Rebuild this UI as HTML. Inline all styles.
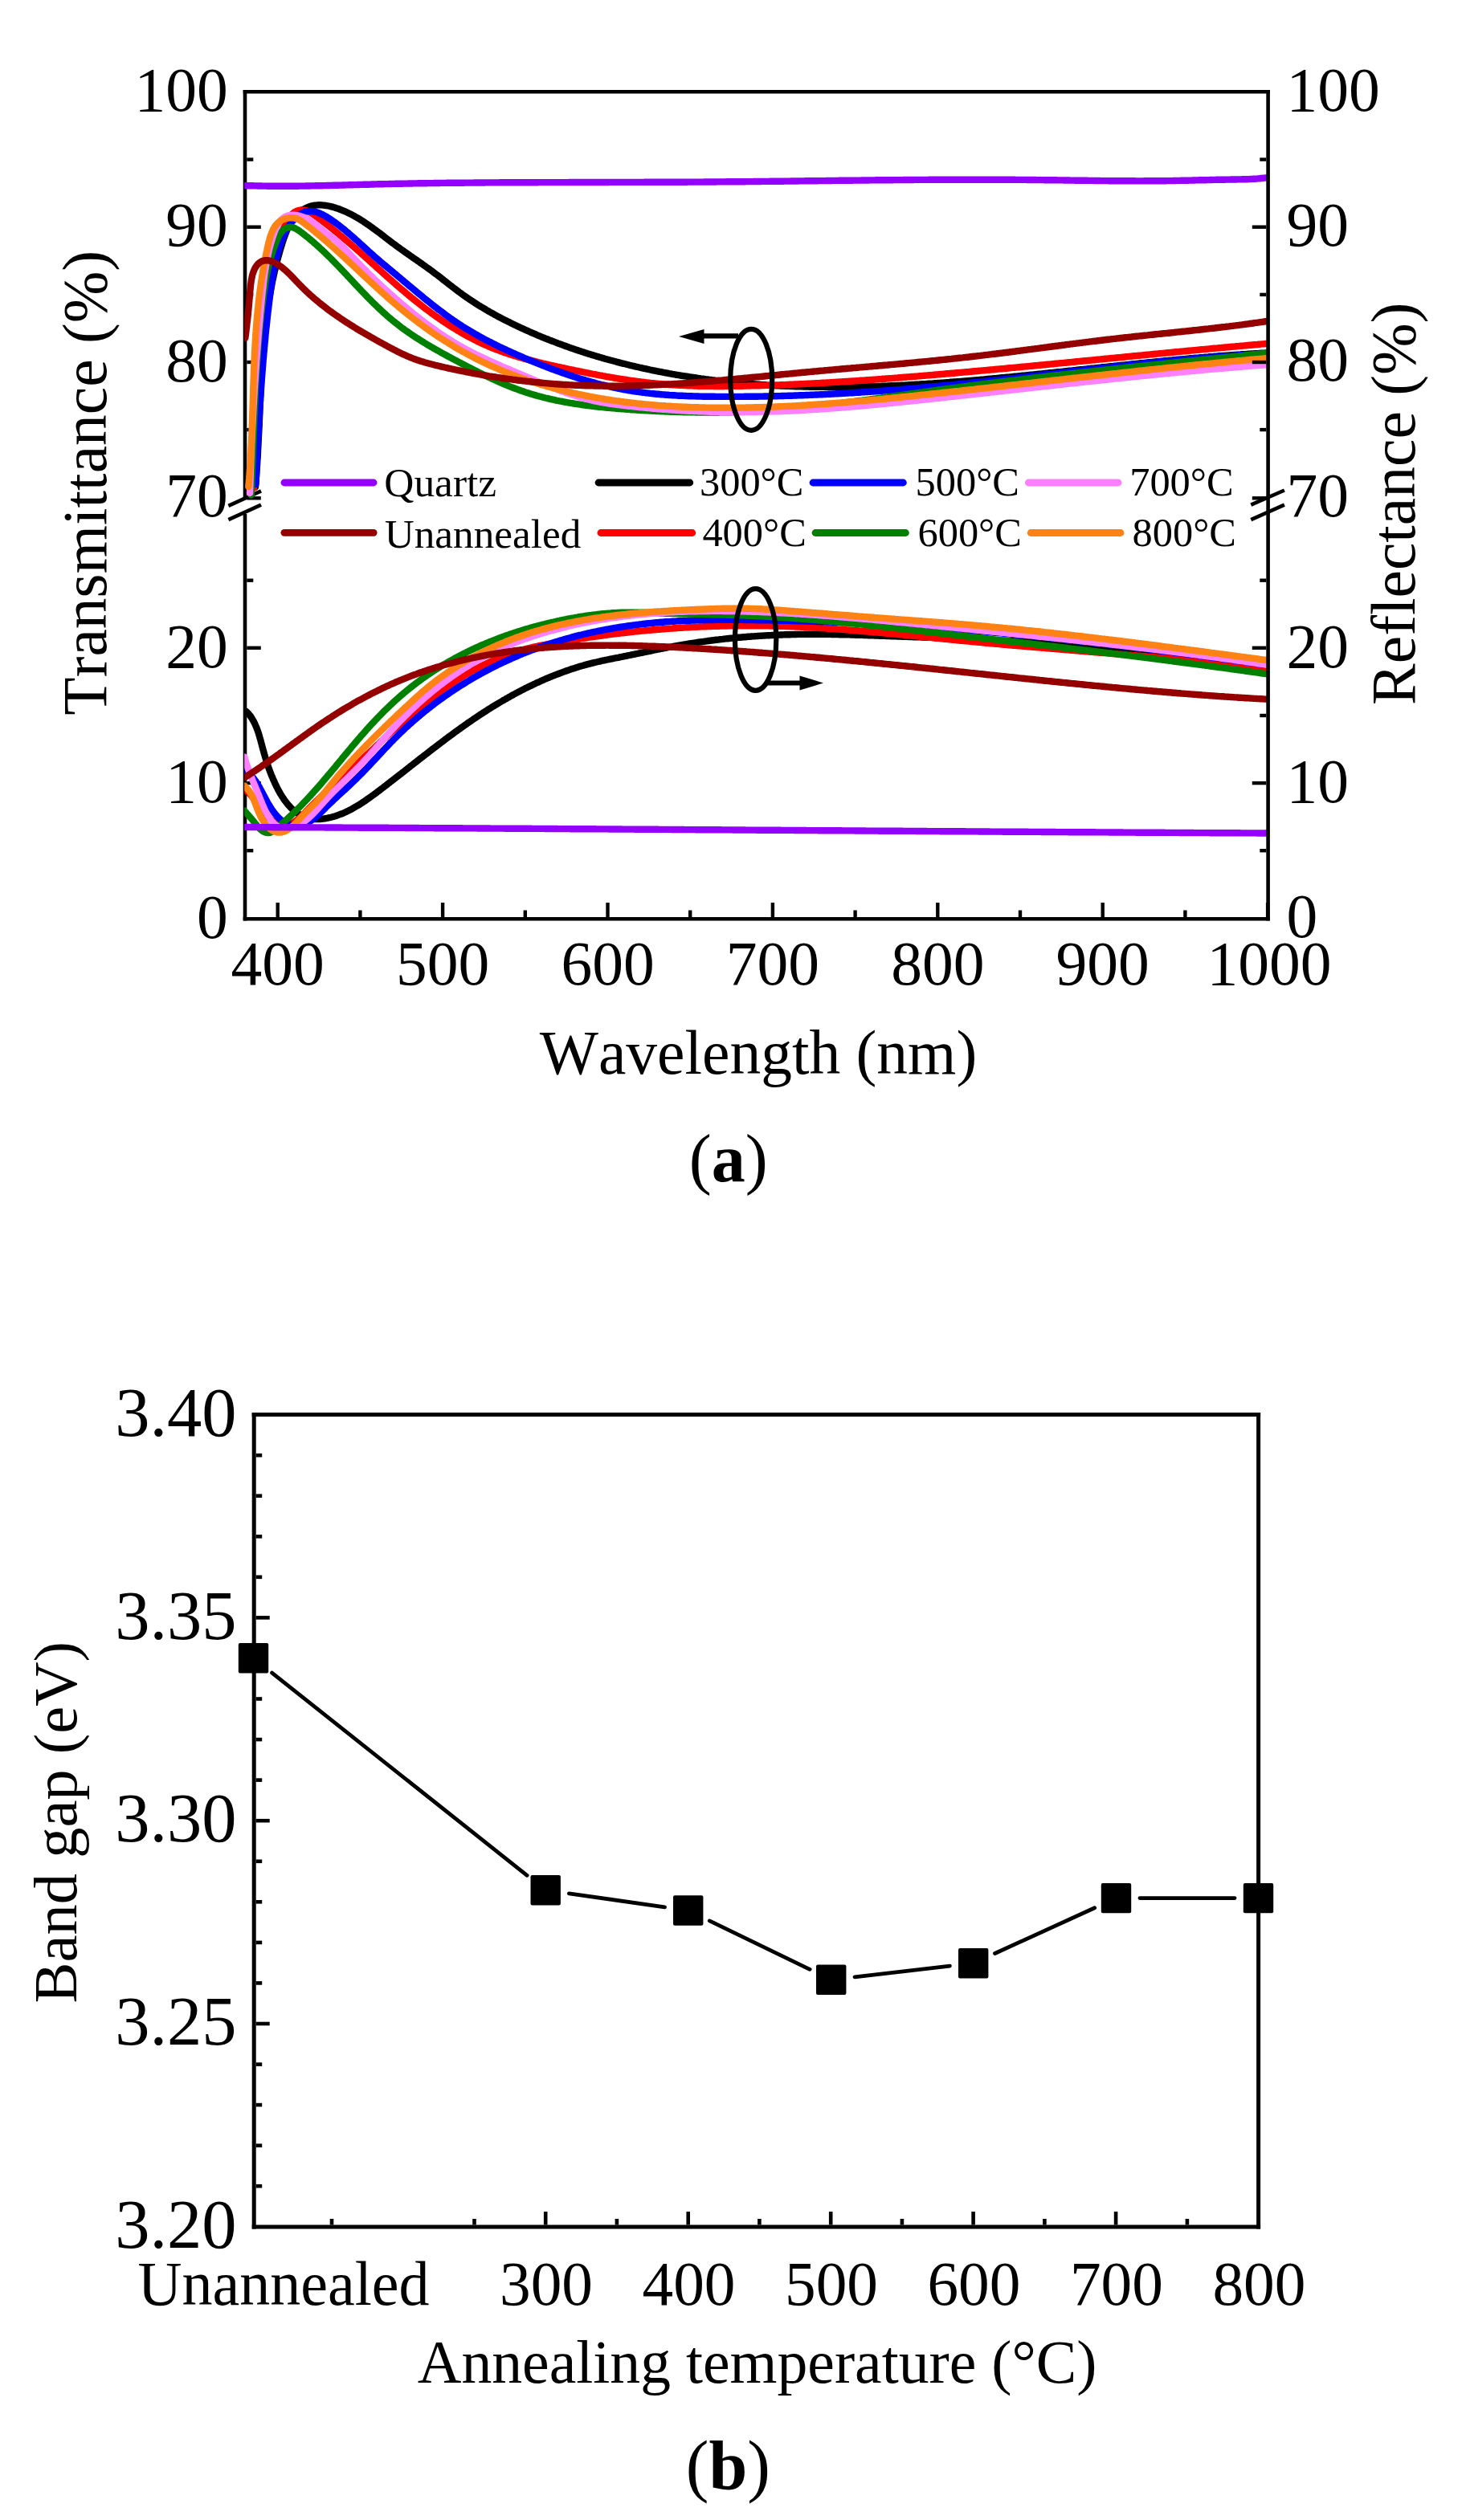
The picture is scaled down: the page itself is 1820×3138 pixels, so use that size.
<!DOCTYPE html>
<html lang="en">
<head>
<meta charset="utf-8">
<title>Figure: transmittance, reflectance and band gap</title>
<style>
html,body{margin:0;padding:0;background:#fff;}
body{width:1820px;height:3138px;overflow:hidden;}
svg{display:block;}
svg text{font-family:"Liberation Serif",serif;fill:#000;font-kerning:none;}
</style>
</head>
<body>
<svg width="1820" height="3138" viewBox="0 0 1820 3138">
<rect x="0" y="0" width="1820" height="3138" fill="#fff"/>
<line x1="305.0" y1="112.0" x2="305.0" y2="620.5" stroke="#000" stroke-width="4.6" stroke-linecap="butt"/>
<line x1="305.0" y1="640.0" x2="305.0" y2="1146.6" stroke="#000" stroke-width="4.6" stroke-linecap="butt"/>
<line x1="302.7" y1="114.3" x2="1580.9" y2="114.3" stroke="#000" stroke-width="4.6" stroke-linecap="butt"/>
<line x1="302.7" y1="1144.3" x2="1580.9" y2="1144.3" stroke="#000" stroke-width="4.6" stroke-linecap="butt"/>
<line x1="307.3" y1="282.7" x2="324.8" y2="282.7" stroke="#000" stroke-width="4.4" stroke-linecap="butt"/>
<line x1="307.3" y1="451.0" x2="324.8" y2="451.0" stroke="#000" stroke-width="4.4" stroke-linecap="butt"/>
<line x1="307.3" y1="620.3" x2="324.8" y2="620.3" stroke="#000" stroke-width="4.4" stroke-linecap="butt"/>
<line x1="307.3" y1="198.6" x2="315.3" y2="198.6" stroke="#000" stroke-width="4.4" stroke-linecap="butt"/>
<line x1="307.3" y1="366.9" x2="315.3" y2="366.9" stroke="#000" stroke-width="4.4" stroke-linecap="butt"/>
<line x1="307.3" y1="535.1" x2="315.3" y2="535.1" stroke="#000" stroke-width="4.4" stroke-linecap="butt"/>
<line x1="307.3" y1="806.8" x2="324.8" y2="806.8" stroke="#000" stroke-width="4.4" stroke-linecap="butt"/>
<line x1="307.3" y1="975.1" x2="324.8" y2="975.1" stroke="#000" stroke-width="4.4" stroke-linecap="butt"/>
<line x1="307.3" y1="722.7" x2="315.3" y2="722.7" stroke="#000" stroke-width="4.4" stroke-linecap="butt"/>
<line x1="307.3" y1="891.0" x2="315.3" y2="891.0" stroke="#000" stroke-width="4.4" stroke-linecap="butt"/>
<line x1="307.3" y1="1059.2" x2="315.3" y2="1059.2" stroke="#000" stroke-width="4.4" stroke-linecap="butt"/>
<line x1="345.7" y1="1142.0" x2="345.7" y2="1124.0" stroke="#000" stroke-width="4.4" stroke-linecap="butt"/>
<line x1="551.1" y1="1142.0" x2="551.1" y2="1124.0" stroke="#000" stroke-width="4.4" stroke-linecap="butt"/>
<line x1="756.5" y1="1142.0" x2="756.5" y2="1124.0" stroke="#000" stroke-width="4.4" stroke-linecap="butt"/>
<line x1="961.9" y1="1142.0" x2="961.9" y2="1124.0" stroke="#000" stroke-width="4.4" stroke-linecap="butt"/>
<line x1="1167.3" y1="1142.0" x2="1167.3" y2="1124.0" stroke="#000" stroke-width="4.4" stroke-linecap="butt"/>
<line x1="1372.7" y1="1142.0" x2="1372.7" y2="1124.0" stroke="#000" stroke-width="4.4" stroke-linecap="butt"/>
<line x1="1578.1" y1="1142.0" x2="1578.1" y2="1124.0" stroke="#000" stroke-width="4.4" stroke-linecap="butt"/>
<line x1="448.4" y1="1142.0" x2="448.4" y2="1133.5" stroke="#000" stroke-width="4.4" stroke-linecap="butt"/>
<line x1="653.8" y1="1142.0" x2="653.8" y2="1133.5" stroke="#000" stroke-width="4.4" stroke-linecap="butt"/>
<line x1="859.2" y1="1142.0" x2="859.2" y2="1133.5" stroke="#000" stroke-width="4.4" stroke-linecap="butt"/>
<line x1="1064.6" y1="1142.0" x2="1064.6" y2="1133.5" stroke="#000" stroke-width="4.4" stroke-linecap="butt"/>
<line x1="1270.0" y1="1142.0" x2="1270.0" y2="1133.5" stroke="#000" stroke-width="4.4" stroke-linecap="butt"/>
<line x1="1475.4" y1="1142.0" x2="1475.4" y2="1133.5" stroke="#000" stroke-width="4.4" stroke-linecap="butt"/>
<line x1="284.4" y1="629.9" x2="325.0" y2="611.4" stroke="#000" stroke-width="4.6" stroke-linecap="butt"/>
<line x1="284.4" y1="647.1" x2="325.0" y2="628.6" stroke="#000" stroke-width="4.6" stroke-linecap="butt"/>
<defs><clipPath id="plotclip"><rect x="304.2" y="100" width="1276.7" height="1046.6"/></clipPath></defs>
<g fill="none" stroke-width="8.4" stroke-linecap="round" stroke-linejoin="round" clip-path="url(#plotclip)">
<path d="M317.9 606.5 L318.1 604.5 L318.2 602.5 L318.4 600.5 L318.6 598.5 L318.7 596.5 L318.9 594.5 L319.1 592.5 L319.2 590.5 L319.4 588.4 L319.5 586.4 L319.6 584.4 L319.8 582.4 L319.9 580.4 L320.1 578.4 L320.2 576.4 L320.3 574.4 L320.4 572.4 L320.6 570.4 L320.7 568.4 L320.8 566.4 L320.9 564.4 L321.0 562.4 L321.1 560.4 L321.2 558.4 L321.3 556.4 L321.4 554.4 L321.5 552.4 L321.6 550.4 L321.7 548.4 L321.8 546.4 L321.9 544.4 L322.0 542.4 L322.1 540.4 L322.2 538.4 L322.3 536.4 L322.4 534.4 L322.5 532.4 L322.6 530.4 L322.7 528.4 L322.7 526.4 L322.8 524.4 L322.9 522.4 L323.0 520.4 L323.1 518.4 L323.2 516.4 L323.3 514.4 L323.3 512.4 L323.4 510.4 L323.5 508.4 L323.6 506.4 L323.7 504.4 L323.8 502.4 L323.9 500.5 L324.0 498.5 L324.0 496.5 L324.1 494.5 L324.2 492.5 L324.3 490.5 L324.4 488.5 L324.5 486.5 L324.6 484.5 L324.7 482.5 L324.8 480.5 L324.9 478.5 L325.0 476.6 L325.1 474.6 L325.2 472.6 L325.3 470.6 L325.4 468.6 L325.5 466.6 L325.6 464.6 L325.8 462.6 L325.9 460.6 L326.0 458.7 L326.1 456.7 L326.2 454.7 L326.4 452.7 L326.5 450.7 L326.6 448.7 L326.8 446.7 L326.9 444.8 L327.1 442.8 L327.2 440.8 L327.4 438.8 L327.5 436.8 L327.7 434.8 L327.8 432.8 L328.0 430.9 L328.2 428.9 L328.3 426.9 L328.5 424.9 L328.7 422.9 L328.9 421.0 L329.1 419.0 L329.3 417.0 L329.5 415.0 L329.7 413.0 L329.9 411.1 L330.1 409.1 L330.3 407.1 L330.6 405.1 L330.8 403.1 L331.0 401.2 L331.3 399.2 L331.5 397.2 L331.8 395.2 L332.0 393.3 L332.3 391.3 L332.5 389.3 L332.8 387.3 L333.1 385.4 L333.4 383.4 L333.7 381.4 L334.0 379.4 L334.3 377.5 L334.6 375.5 L334.9 373.5 L335.2 371.5 L335.5 369.6 L335.9 367.6 L336.2 365.6 L336.6 363.7 L336.9 361.7 L337.3 359.7 L337.7 357.8 L338.1 355.8 L338.4 353.8 L338.8 351.8 L339.2 349.9 L339.6 347.9 L340.1 345.9 L340.5 344.0 L340.9 342.0 L341.4 340.0 L341.8 338.1 L342.3 336.1 L342.7 334.1 L343.2 332.2 L343.7 330.2 L344.2 328.3 L344.7 326.3 L345.2 324.3 L345.7 322.4 L346.2 320.4 L346.8 318.4 L347.3 316.5 L347.9 314.5 L348.4 312.6 L349.0 310.6 L349.6 308.6 L350.2 306.7 L350.8 304.7 L351.4 302.8 L352.0 300.8 L352.7 298.9 L353.3 296.9 L354.0 295.0 L354.7 293.1 L355.4 291.2 L356.2 289.3 L356.9 287.4 L357.7 285.6 L358.6 283.8 L359.5 282.0 L360.4 280.2 L361.3 278.5 L362.3 276.8 L363.4 275.2 L364.4 273.6 L365.6 272.0 L366.8 270.5 L368.0 269.0 L369.3 267.6 L370.7 266.3 L372.1 265.0 L373.6 263.7 L375.2 262.5 L376.8 261.4 L378.4 260.4 L380.1 259.5 L381.8 258.6 L383.6 257.9 L385.4 257.2 L387.3 256.6 L389.2 256.2 L391.0 255.8 L393.0 255.6 L394.9 255.4 L396.9 255.3 L398.8 255.3 L400.8 255.4 L402.8 255.6 L404.8 255.8 L406.8 256.1 L408.8 256.5 L410.8 256.9 L412.8 257.4 L414.8 257.9 L416.8 258.5 L418.8 259.2 L420.8 259.8 L422.7 260.5 L424.7 261.3 L426.6 262.1 L428.5 262.9 L430.3 263.7 L432.2 264.5 L434.0 265.4 L435.8 266.3 L437.6 267.2 L439.4 268.2 L441.2 269.1 L442.9 270.1 L444.7 271.1 L446.4 272.1 L448.1 273.1 L449.8 274.2 L451.5 275.3 L453.1 276.4 L454.8 277.5 L456.4 278.6 L458.1 279.7 L459.7 280.8 L461.3 282.0 L462.9 283.1 L464.5 284.3 L466.1 285.5 L467.7 286.6 L469.3 287.8 L470.9 289.0 L472.5 290.2 L474.1 291.4 L475.7 292.6 L477.2 293.8 L478.8 295.1 L480.4 296.3 L482.0 297.5 L483.5 298.7 L485.1 299.9 L486.7 301.1 L488.3 302.3 L489.9 303.5 L491.5 304.7 L493.1 305.9 L494.7 307.1 L496.3 308.2 L497.9 309.4 L499.6 310.6 L501.2 311.7 L502.8 312.9 L504.4 314.1 L506.1 315.2 L507.7 316.4 L509.4 317.5 L511.0 318.7 L512.6 319.8 L514.3 321.0 L515.9 322.1 L517.6 323.2 L519.2 324.4 L520.9 325.5 L522.5 326.7 L524.1 327.8 L525.8 329.0 L527.4 330.2 L529.1 331.3 L530.7 332.5 L532.3 333.7 L533.9 334.8 L535.6 336.0 L537.2 337.2 L538.8 338.4 L540.4 339.6 L542.0 340.8 L543.6 342.0 L545.2 343.2 L546.8 344.4 L548.4 345.6 L550.0 346.9 L551.5 348.1 L553.1 349.4 L554.7 350.6 L556.3 351.8 L557.8 353.1 L559.4 354.3 L561.0 355.5 L562.6 356.8 L564.1 358.0 L565.7 359.2 L567.3 360.4 L568.9 361.6 L570.5 362.8 L572.1 364.0 L573.7 365.2 L575.3 366.4 L577.0 367.6 L578.6 368.7 L580.2 369.9 L581.9 371.0 L583.5 372.1 L585.2 373.2 L586.8 374.3 L588.5 375.4 L590.2 376.5 L591.9 377.6 L593.6 378.7 L595.2 379.8 L596.9 380.8 L598.6 381.9 L600.4 382.9 L602.1 383.9 L603.8 384.9 L605.5 386.0 L607.2 387.0 L609.0 388.0 L610.7 389.0 L612.5 389.9 L614.2 390.9 L615.9 391.9 L617.7 392.8 L619.5 393.8 L621.2 394.7 L623.0 395.7 L624.8 396.6 L626.5 397.5 L628.3 398.4 L630.1 399.3 L631.9 400.2 L633.7 401.1 L635.5 402.0 L637.3 402.9 L639.1 403.8 L640.9 404.7 L642.7 405.5 L644.5 406.4 L646.3 407.2 L648.1 408.1 L649.9 408.9 L651.8 409.7 L653.6 410.6 L655.4 411.4 L657.2 412.2 L659.1 413.0 L660.9 413.8 L662.7 414.6 L664.6 415.4 L666.4 416.2 L668.2 417.0 L670.1 417.8 L671.9 418.5 L673.8 419.3 L675.6 420.1 L677.5 420.8 L679.3 421.6 L681.2 422.3 L683.0 423.0 L684.9 423.8 L686.8 424.5 L688.6 425.2 L690.5 425.9 L692.4 426.6 L694.2 427.4 L696.1 428.1 L698.0 428.7 L699.8 429.4 L701.7 430.1 L703.6 430.8 L705.5 431.5 L707.4 432.1 L709.2 432.8 L711.1 433.5 L713.0 434.1 L714.9 434.8 L716.8 435.4 L718.7 436.0 L720.6 436.7 L722.5 437.3 L724.4 437.9 L726.3 438.5 L728.2 439.2 L730.1 439.8 L732.0 440.4 L733.9 441.0 L735.8 441.6 L737.7 442.1 L739.6 442.7 L741.5 443.3 L743.4 443.9 L745.4 444.4 L747.3 445.0 L749.2 445.6 L751.1 446.1 L753.0 446.7 L755.0 447.2 L756.9 447.7 L758.8 448.3 L760.7 448.8 L762.7 449.3 L764.6 449.8 L766.5 450.3 L768.5 450.9 L770.4 451.4 L772.3 451.9 L774.3 452.4 L776.2 452.8 L778.1 453.3 L780.1 453.8 L782.0 454.3 L784.0 454.8 L785.9 455.2 L787.9 455.7 L789.8 456.1 L791.8 456.6 L793.7 457.0 L795.7 457.5 L797.6 457.9 L799.6 458.4 L801.5 458.8 L803.5 459.2 L805.4 459.6 L807.4 460.0 L809.3 460.5 L811.3 460.9 L813.3 461.3 L815.2 461.7 L817.2 462.1 L819.2 462.5 L821.1 462.8 L823.1 463.2 L825.1 463.6 L827.0 464.0 L829.0 464.3 L831.0 464.7 L832.9 465.1 L834.9 465.4 L836.9 465.8 L838.8 466.1 L840.8 466.5 L842.8 466.8 L844.8 467.1 L846.7 467.5 L848.7 467.8 L850.7 468.1 L852.7 468.4 L854.7 468.7 L856.6 469.0 L858.6 469.3 L860.6 469.6 L862.6 469.9 L864.6 470.2 L866.5 470.5 L868.5 470.8 L870.5 471.1 L872.5 471.4 L874.5 471.6 L876.5 471.9 L878.5 472.2 L880.4 472.4 L882.4 472.7 L884.4 472.9 L886.4 473.2 L888.4 473.4 L890.4 473.7 L892.4 473.9 L894.4 474.2 L896.4 474.4 L898.3 474.6 L900.3 474.8 L902.3 475.1 L904.3 475.3 L906.3 475.5 L908.3 475.7 L910.3 475.9 L912.3 476.1 L914.3 476.3 L916.3 476.5 L918.3 476.7 L920.3 476.9 L922.3 477.0 L924.3 477.2 L926.3 477.4 L928.2 477.6 L930.2 477.7 L932.2 477.9 L934.2 478.1 L936.2 478.2 L938.2 478.4 L940.2 478.5 L942.2 478.7 L944.2 478.8 L946.2 478.9 L948.2 479.1 L950.2 479.2 L952.2 479.3 L954.2 479.5 L956.2 479.6 L958.2 479.7 L960.2 479.8 L962.2 479.9 L964.2 480.1 L966.2 480.2 L968.2 480.3 L970.2 480.4 L972.2 480.5 L974.2 480.6 L976.2 480.6 L978.2 480.7 L980.2 480.8 L982.2 480.9 L984.1 481.0 L986.1 481.1 L988.1 481.1 L990.1 481.2 L992.1 481.3 L994.1 481.3 L996.1 481.4 L998.1 481.4 L1000.1 481.5 L1002.1 481.5 L1004.1 481.6 L1006.1 481.6 L1008.1 481.7 L1010.1 481.7 L1012.1 481.8 L1014.1 481.8 L1016.1 481.8 L1018.1 481.8 L1020.1 481.9 L1022.1 481.9 L1024.1 481.9 L1026.1 481.9 L1028.1 481.9 L1030.1 481.9 L1032.1 482.0 L1034.1 482.0 L1036.1 482.0 L1038.1 482.0 L1040.1 482.0 L1042.1 482.0 L1044.1 481.9 L1046.1 481.9 L1048.1 481.9 L1050.1 481.9 L1052.1 481.9 L1054.1 481.9 L1056.1 481.8 L1058.1 481.8 L1060.1 481.8 L1062.1 481.8 L1064.1 481.7 L1066.1 481.7 L1068.0 481.7 L1070.0 481.6 L1072.0 481.6 L1074.0 481.5 L1076.0 481.5 L1078.0 481.4 L1080.0 481.4 L1082.0 481.3 L1084.0 481.3 L1086.0 481.2 L1088.0 481.1 L1090.0 481.1 L1092.0 481.0 L1094.0 480.9 L1096.0 480.9 L1098.0 480.8 L1100.0 480.7 L1102.0 480.6 L1104.0 480.6 L1106.0 480.5 L1108.0 480.4 L1110.0 480.3 L1112.0 480.2 L1114.0 480.1 L1116.0 480.1 L1118.0 480.0 L1120.0 479.9 L1122.0 479.8 L1124.0 479.7 L1126.0 479.6 L1128.0 479.5 L1130.0 479.4 L1132.0 479.2 L1133.9 479.1 L1135.9 479.0 L1137.9 478.9 L1139.9 478.8 L1141.9 478.7 L1143.9 478.6 L1145.9 478.4 L1147.9 478.3 L1149.9 478.2 L1151.9 478.1 L1153.9 477.9 L1155.9 477.8 L1157.9 477.7 L1159.9 477.6 L1161.9 477.4 L1163.9 477.3 L1165.9 477.2 L1167.9 477.0 L1169.9 476.9 L1171.9 476.7 L1173.8 476.6 L1175.8 476.4 L1177.8 476.3 L1179.8 476.1 L1181.8 476.0 L1183.8 475.8 L1185.8 475.7 L1187.8 475.5 L1189.8 475.4 L1191.8 475.2 L1193.8 475.1 L1195.8 474.9 L1197.8 474.8 L1199.8 474.6 L1201.8 474.4 L1203.8 474.3 L1205.7 474.1 L1207.7 473.9 L1209.7 473.8 L1211.7 473.6 L1213.7 473.4 L1215.7 473.3 L1217.7 473.1 L1219.7 472.9 L1221.7 472.7 L1223.7 472.6 L1225.7 472.4 L1227.7 472.2 L1229.7 472.0 L1231.6 471.8 L1233.6 471.7 L1235.6 471.5 L1237.6 471.3 L1239.6 471.1 L1241.6 470.9 L1243.6 470.7 L1245.6 470.5 L1247.6 470.3 L1249.6 470.2 L1251.6 470.0 L1253.5 469.8 L1255.5 469.6 L1257.5 469.4 L1259.5 469.2 L1261.5 469.0 L1263.5 468.8 L1265.5 468.6 L1267.5 468.4 L1269.5 468.2 L1271.5 468.0 L1273.5 467.8 L1275.4 467.6 L1277.4 467.4 L1279.4 467.2 L1281.4 467.0 L1283.4 466.8 L1285.4 466.6 L1287.4 466.4 L1289.4 466.2 L1291.4 466.0 L1293.4 465.8 L1295.3 465.6 L1297.3 465.4 L1299.3 465.2 L1301.3 465.0 L1303.3 464.8 L1305.3 464.5 L1307.3 464.3 L1309.3 464.1 L1311.3 463.9 L1313.3 463.7 L1315.2 463.5 L1317.2 463.3 L1319.2 463.1 L1321.2 462.9 L1323.2 462.7 L1325.2 462.4 L1327.2 462.2 L1329.2 462.0 L1331.2 461.8 L1333.2 461.6 L1335.1 461.4 L1337.1 461.2 L1339.1 461.0 L1341.1 460.7 L1343.1 460.5 L1345.1 460.3 L1347.1 460.1 L1349.1 459.9 L1351.1 459.7 L1353.1 459.5 L1355.0 459.2 L1357.0 459.0 L1359.0 458.8 L1361.0 458.6 L1363.0 458.4 L1365.0 458.2 L1367.0 458.0 L1369.0 457.8 L1371.0 457.5 L1372.9 457.3 L1374.9 457.1 L1376.9 456.9 L1378.9 456.7 L1380.9 456.5 L1382.9 456.3 L1384.9 456.1 L1386.9 455.8 L1388.9 455.6 L1390.9 455.4 L1392.8 455.2 L1394.8 455.0 L1396.8 454.8 L1398.8 454.6 L1400.8 454.4 L1402.8 454.2 L1404.8 454.0 L1406.8 453.7 L1408.8 453.5 L1410.8 453.3 L1412.7 453.1 L1414.7 452.9 L1416.7 452.7 L1418.7 452.5 L1420.7 452.3 L1422.7 452.1 L1424.7 451.9 L1426.7 451.7 L1428.7 451.5 L1430.7 451.3 L1432.6 451.1 L1434.6 450.9 L1436.6 450.7 L1438.6 450.5 L1440.6 450.3 L1442.6 450.1 L1444.6 449.9 L1446.6 449.7 L1448.6 449.5 L1450.6 449.3 L1452.6 449.1 L1454.5 448.9 L1456.5 448.7 L1458.5 448.6 L1460.5 448.4 L1462.5 448.2 L1464.5 448.0 L1466.5 447.8 L1468.5 447.6 L1470.5 447.4 L1472.5 447.3 L1474.5 447.1 L1476.4 446.9 L1478.4 446.7 L1480.4 446.5 L1482.4 446.3 L1484.4 446.2 L1486.4 446.0 L1488.4 445.8 L1490.4 445.6 L1492.4 445.5 L1494.4 445.3 L1496.4 445.1 L1498.4 445.0 L1500.4 444.8 L1502.3 444.6 L1504.3 444.5 L1506.3 444.3 L1508.3 444.1 L1510.3 444.0 L1512.3 443.8 L1514.3 443.7 L1516.3 443.5 L1518.3 443.3 L1520.3 443.2 L1522.3 443.0 L1524.3 442.9 L1526.3 442.7 L1528.3 442.6 L1530.2 442.4 L1532.2 442.3 L1534.2 442.1 L1536.2 442.0 L1538.2 441.9 L1540.2 441.7 L1542.2 441.6 L1544.2 441.5 L1546.2 441.3 L1548.2 441.2 L1550.2 441.1 L1552.2 440.9 L1554.2 440.8 L1556.2 440.7 L1558.2 440.5 L1560.2 440.4 L1562.2 440.3 L1564.2 440.2 L1566.2 440.1 L1568.1 439.9 L1570.1 439.8 L1572.1 439.7 L1574.1 439.6 L1576.0 439.5" stroke="#000000"/>
<path d="M316.2 607.7 L316.3 605.7 L316.5 603.7 L316.6 601.7 L316.7 599.7 L316.9 597.7 L317.0 595.7 L317.1 593.7 L317.3 591.7 L317.4 589.7 L317.5 587.7 L317.6 585.7 L317.7 583.7 L317.9 581.7 L318.0 579.7 L318.1 577.7 L318.2 575.7 L318.3 573.7 L318.4 571.7 L318.5 569.7 L318.6 567.7 L318.7 565.7 L318.8 563.7 L318.9 561.7 L319.0 559.7 L319.1 557.7 L319.2 555.7 L319.3 553.7 L319.4 551.7 L319.5 549.7 L319.6 547.7 L319.7 545.7 L319.7 543.7 L319.8 541.7 L319.9 539.7 L320.0 537.7 L320.1 535.7 L320.2 533.7 L320.3 531.7 L320.4 529.7 L320.4 527.7 L320.5 525.7 L320.6 523.7 L320.7 521.7 L320.8 519.7 L320.9 517.7 L321.0 515.7 L321.1 513.7 L321.2 511.7 L321.2 509.7 L321.3 507.7 L321.4 505.7 L321.5 503.7 L321.6 501.7 L321.7 499.7 L321.8 497.7 L321.9 495.7 L322.0 493.7 L322.1 491.8 L322.2 489.8 L322.3 487.8 L322.4 485.8 L322.5 483.8 L322.6 481.8 L322.7 479.8 L322.8 477.8 L322.9 475.8 L323.0 473.8 L323.2 471.8 L323.3 469.8 L323.4 467.8 L323.5 465.8 L323.6 463.8 L323.8 461.8 L323.9 459.8 L324.0 457.8 L324.1 455.8 L324.3 453.9 L324.4 451.9 L324.6 449.9 L324.7 447.9 L324.8 445.9 L325.0 443.9 L325.1 441.9 L325.3 439.9 L325.5 437.9 L325.6 435.9 L325.8 434.0 L325.9 432.0 L326.1 430.0 L326.3 428.0 L326.5 426.0 L326.6 424.0 L326.8 422.0 L327.0 420.0 L327.2 418.1 L327.4 416.1 L327.6 414.1 L327.8 412.1 L328.0 410.1 L328.2 408.1 L328.5 406.2 L328.7 404.2 L328.9 402.2 L329.1 400.2 L329.4 398.2 L329.6 396.2 L329.8 394.3 L330.1 392.3 L330.4 390.3 L330.6 388.3 L330.9 386.4 L331.1 384.4 L331.4 382.4 L331.7 380.4 L332.0 378.5 L332.3 376.5 L332.6 374.5 L332.9 372.5 L333.2 370.6 L333.5 368.6 L333.8 366.6 L334.1 364.6 L334.4 362.7 L334.8 360.7 L335.1 358.7 L335.5 356.8 L335.8 354.8 L336.2 352.8 L336.5 350.9 L336.9 348.9 L337.3 346.9 L337.7 345.0 L338.1 343.0 L338.5 341.0 L338.9 339.1 L339.3 337.1 L339.7 335.1 L340.1 333.2 L340.5 331.2 L341.0 329.3 L341.4 327.3 L341.9 325.3 L342.3 323.4 L342.8 321.4 L343.3 319.5 L343.8 317.5 L344.2 315.6 L344.7 313.6 L345.2 311.6 L345.8 309.7 L346.3 307.7 L346.8 305.8 L347.3 303.8 L347.9 301.9 L348.4 299.9 L349.0 298.0 L349.6 296.0 L350.1 294.1 L350.7 292.2 L351.3 290.2 L351.9 288.3 L352.6 286.4 L353.2 284.4 L353.9 282.6 L354.7 280.7 L355.4 278.9 L356.3 277.1 L357.2 275.3 L358.2 273.6 L359.2 272.0 L360.3 270.4 L361.6 268.8 L362.9 267.4 L364.3 266.0 L365.8 264.8 L367.4 263.8 L369.1 262.9 L370.9 262.3 L372.7 261.8 L374.6 261.5 L376.4 261.5 L378.3 261.6 L380.2 262.0 L382.0 262.5 L383.8 263.2 L385.5 264.1 L387.2 265.1 L389.0 266.2 L390.6 267.3 L392.3 268.5 L394.0 269.8 L395.6 271.0 L397.3 272.2 L398.9 273.4 L400.6 274.7 L402.2 275.9 L403.8 277.2 L405.4 278.4 L407.1 279.7 L408.7 280.9 L410.3 282.2 L411.8 283.4 L413.4 284.7 L415.0 286.0 L416.6 287.3 L418.2 288.5 L419.7 289.8 L421.3 291.1 L422.8 292.4 L424.4 293.7 L425.9 295.0 L427.5 296.3 L429.0 297.6 L430.5 298.9 L432.1 300.2 L433.6 301.5 L435.1 302.8 L436.6 304.2 L438.1 305.5 L439.7 306.8 L441.2 308.1 L442.7 309.4 L444.2 310.8 L445.7 312.1 L447.2 313.4 L448.7 314.7 L450.2 316.1 L451.6 317.4 L453.1 318.7 L454.6 320.0 L456.1 321.4 L457.6 322.7 L459.1 324.0 L460.6 325.4 L462.0 326.7 L463.5 328.0 L465.0 329.4 L466.5 330.7 L468.0 332.0 L469.4 333.4 L470.9 334.7 L472.4 336.0 L473.9 337.3 L475.4 338.7 L476.8 340.0 L478.3 341.3 L479.8 342.6 L481.3 344.0 L482.8 345.3 L484.3 346.6 L485.7 347.9 L487.2 349.2 L488.7 350.5 L490.2 351.9 L491.7 353.2 L493.2 354.5 L494.7 355.8 L496.2 357.1 L497.7 358.4 L499.2 359.7 L500.8 361.0 L502.3 362.2 L503.8 363.5 L505.3 364.8 L506.8 366.1 L508.4 367.4 L509.9 368.6 L511.4 369.9 L513.0 371.2 L514.5 372.4 L516.1 373.7 L517.6 374.9 L519.2 376.2 L520.8 377.4 L522.3 378.7 L523.9 379.9 L525.5 381.1 L527.1 382.4 L528.7 383.6 L530.3 384.8 L531.9 386.0 L533.5 387.2 L535.1 388.4 L536.7 389.6 L538.3 390.8 L540.0 391.9 L541.6 393.1 L543.2 394.3 L544.9 395.4 L546.5 396.6 L548.2 397.7 L549.8 398.9 L551.5 400.0 L553.2 401.1 L554.8 402.2 L556.5 403.3 L558.2 404.4 L559.9 405.5 L561.6 406.6 L563.3 407.6 L565.0 408.7 L566.7 409.7 L568.4 410.8 L570.1 411.8 L571.9 412.8 L573.6 413.9 L575.3 414.9 L577.1 415.8 L578.8 416.8 L580.6 417.8 L582.3 418.8 L584.1 419.7 L585.8 420.7 L587.6 421.6 L589.4 422.5 L591.2 423.4 L592.9 424.3 L594.7 425.2 L596.5 426.1 L598.3 426.9 L600.1 427.8 L601.9 428.6 L603.8 429.4 L605.6 430.2 L607.4 431.0 L609.2 431.8 L611.1 432.6 L612.9 433.3 L614.8 434.1 L616.6 434.8 L618.5 435.5 L620.3 436.2 L622.2 436.9 L624.1 437.6 L626.0 438.3 L627.8 439.0 L629.7 439.6 L631.6 440.2 L633.5 440.9 L635.4 441.5 L637.3 442.1 L639.2 442.7 L641.1 443.3 L643.0 443.8 L644.9 444.4 L646.9 445.0 L648.8 445.5 L650.7 446.1 L652.6 446.6 L654.6 447.1 L656.5 447.6 L658.4 448.1 L660.4 448.6 L662.3 449.1 L664.2 449.6 L666.2 450.1 L668.1 450.6 L670.1 451.1 L672.0 451.5 L674.0 452.0 L675.9 452.5 L677.9 452.9 L679.8 453.4 L681.8 453.8 L683.7 454.3 L685.7 454.7 L687.7 455.2 L689.6 455.6 L691.6 456.0 L693.5 456.5 L695.5 456.9 L697.5 457.3 L699.4 457.8 L701.4 458.2 L703.3 458.6 L705.3 459.0 L707.3 459.5 L709.2 459.9 L711.2 460.3 L713.1 460.7 L715.1 461.1 L717.1 461.5 L719.0 461.9 L721.0 462.3 L722.9 462.7 L724.9 463.1 L726.9 463.5 L728.8 463.9 L730.8 464.3 L732.8 464.7 L734.7 465.1 L736.7 465.5 L738.7 465.9 L740.6 466.2 L742.6 466.6 L744.6 467.0 L746.5 467.4 L748.5 467.7 L750.5 468.1 L752.4 468.4 L754.4 468.8 L756.4 469.1 L758.3 469.5 L760.3 469.8 L762.3 470.2 L764.2 470.5 L766.2 470.8 L768.2 471.2 L770.1 471.5 L772.1 471.8 L774.1 472.1 L776.1 472.4 L778.0 472.7 L780.0 473.0 L782.0 473.3 L784.0 473.6 L785.9 473.9 L787.9 474.1 L789.9 474.4 L791.9 474.7 L793.8 475.0 L795.8 475.2 L797.8 475.5 L799.8 475.7 L801.8 475.9 L803.7 476.2 L805.7 476.4 L807.7 476.6 L809.7 476.9 L811.7 477.1 L813.7 477.3 L815.6 477.5 L817.6 477.7 L819.6 477.9 L821.6 478.0 L823.6 478.2 L825.6 478.4 L827.6 478.5 L829.5 478.7 L831.5 478.8 L833.5 479.0 L835.5 479.1 L837.5 479.3 L839.5 479.4 L841.5 479.5 L843.5 479.6 L845.5 479.7 L847.5 479.8 L849.5 479.9 L851.5 480.0 L853.5 480.1 L855.5 480.2 L857.5 480.3 L859.5 480.4 L861.5 480.4 L863.5 480.5 L865.5 480.6 L867.5 480.6 L869.5 480.7 L871.5 480.7 L873.5 480.8 L875.5 480.8 L877.5 480.8 L879.5 480.9 L881.5 480.9 L883.5 480.9 L885.5 480.9 L887.5 480.9 L889.5 481.0 L891.5 481.0 L893.5 481.0 L895.5 481.0 L897.5 481.0 L899.5 481.0 L901.5 481.0 L903.5 480.9 L905.5 480.9 L907.5 480.9 L909.5 480.9 L911.5 480.9 L913.5 480.8 L915.5 480.8 L917.5 480.8 L919.5 480.8 L921.5 480.7 L923.5 480.7 L925.5 480.6 L927.5 480.6 L929.5 480.6 L931.6 480.5 L933.6 480.5 L935.6 480.4 L937.6 480.4 L939.6 480.3 L941.6 480.3 L943.6 480.2 L945.6 480.2 L947.6 480.1 L949.6 480.0 L951.6 480.0 L953.6 479.9 L955.6 479.9 L957.6 479.8 L959.6 479.7 L961.6 479.7 L963.6 479.6 L965.6 479.5 L967.6 479.4 L969.6 479.4 L971.6 479.3 L973.6 479.2 L975.6 479.1 L977.6 479.1 L979.6 479.0 L981.6 478.9 L983.6 478.8 L985.6 478.7 L987.6 478.6 L989.6 478.5 L991.6 478.5 L993.6 478.4 L995.6 478.3 L997.6 478.2 L999.6 478.1 L1001.6 478.0 L1003.6 477.9 L1005.6 477.8 L1007.6 477.7 L1009.6 477.6 L1011.5 477.5 L1013.5 477.4 L1015.5 477.3 L1017.5 477.2 L1019.5 477.1 L1021.5 476.9 L1023.5 476.8 L1025.5 476.7 L1027.5 476.6 L1029.5 476.5 L1031.5 476.4 L1033.5 476.3 L1035.5 476.1 L1037.5 476.0 L1039.5 475.9 L1041.5 475.8 L1043.5 475.7 L1045.5 475.5 L1047.5 475.4 L1049.5 475.3 L1051.5 475.2 L1053.5 475.0 L1055.5 474.9 L1057.5 474.8 L1059.4 474.7 L1061.4 474.5 L1063.4 474.4 L1065.4 474.3 L1067.4 474.1 L1069.4 474.0 L1071.4 473.8 L1073.4 473.7 L1075.4 473.6 L1077.4 473.4 L1079.4 473.3 L1081.4 473.2 L1083.4 473.0 L1085.4 472.9 L1087.4 472.7 L1089.4 472.6 L1091.4 472.4 L1093.3 472.3 L1095.3 472.1 L1097.3 472.0 L1099.3 471.8 L1101.3 471.7 L1103.3 471.5 L1105.3 471.4 L1107.3 471.2 L1109.3 471.1 L1111.3 470.9 L1113.3 470.8 L1115.3 470.6 L1117.3 470.5 L1119.3 470.3 L1121.2 470.2 L1123.2 470.0 L1125.2 469.8 L1127.2 469.7 L1129.2 469.5 L1131.2 469.4 L1133.2 469.2 L1135.2 469.0 L1137.2 468.9 L1139.2 468.7 L1141.2 468.6 L1143.2 468.4 L1145.2 468.2 L1147.1 468.1 L1149.1 467.9 L1151.1 467.7 L1153.1 467.6 L1155.1 467.4 L1157.1 467.2 L1159.1 467.1 L1161.1 466.9 L1163.1 466.7 L1165.1 466.5 L1167.1 466.4 L1169.1 466.2 L1171.0 466.0 L1173.0 465.9 L1175.0 465.7 L1177.0 465.5 L1179.0 465.3 L1181.0 465.2 L1183.0 465.0 L1185.0 464.8 L1187.0 464.7 L1189.0 464.5 L1191.0 464.3 L1193.0 464.1 L1195.0 463.9 L1196.9 463.8 L1198.9 463.6 L1200.9 463.4 L1202.9 463.2 L1204.9 463.1 L1206.9 462.9 L1208.9 462.7 L1210.9 462.5 L1212.9 462.3 L1214.9 462.2 L1216.9 462.0 L1218.8 461.8 L1220.8 461.6 L1222.8 461.4 L1224.8 461.3 L1226.8 461.1 L1228.8 460.9 L1230.8 460.7 L1232.8 460.5 L1234.8 460.4 L1236.8 460.2 L1238.8 460.0 L1240.8 459.8 L1242.7 459.6 L1244.7 459.4 L1246.7 459.2 L1248.7 459.1 L1250.7 458.9 L1252.7 458.7 L1254.7 458.5 L1256.7 458.3 L1258.7 458.1 L1260.7 457.9 L1262.7 457.8 L1264.7 457.6 L1266.6 457.4 L1268.6 457.2 L1270.6 457.0 L1272.6 456.8 L1274.6 456.6 L1276.6 456.4 L1278.6 456.3 L1280.6 456.1 L1282.6 455.9 L1284.6 455.7 L1286.6 455.5 L1288.5 455.3 L1290.5 455.1 L1292.5 454.9 L1294.5 454.7 L1296.5 454.5 L1298.5 454.4 L1300.5 454.2 L1302.5 454.0 L1304.5 453.8 L1306.5 453.6 L1308.5 453.4 L1310.5 453.2 L1312.4 453.0 L1314.4 452.8 L1316.4 452.6 L1318.4 452.4 L1320.4 452.2 L1322.4 452.1 L1324.4 451.9 L1326.4 451.7 L1328.4 451.5 L1330.4 451.3 L1332.4 451.1 L1334.3 450.9 L1336.3 450.7 L1338.3 450.5 L1340.3 450.3 L1342.3 450.1 L1344.3 449.9 L1346.3 449.7 L1348.3 449.5 L1350.3 449.3 L1352.3 449.2 L1354.3 449.0 L1356.2 448.8 L1358.2 448.6 L1360.2 448.4 L1362.2 448.2 L1364.2 448.0 L1366.2 447.8 L1368.2 447.6 L1370.2 447.4 L1372.2 447.2 L1374.2 447.0 L1376.2 446.8 L1378.1 446.6 L1380.1 446.4 L1382.1 446.2 L1384.1 446.0 L1386.1 445.9 L1388.1 445.7 L1390.1 445.5 L1392.1 445.3 L1394.1 445.1 L1396.1 444.9 L1398.1 444.7 L1400.1 444.5 L1402.0 444.3 L1404.0 444.1 L1406.0 443.9 L1408.0 443.7 L1410.0 443.5 L1412.0 443.3 L1414.0 443.1 L1416.0 442.9 L1418.0 442.7 L1420.0 442.6 L1422.0 442.4 L1423.9 442.2 L1425.9 442.0 L1427.9 441.8 L1429.9 441.6 L1431.9 441.4 L1433.9 441.2 L1435.9 441.0 L1437.9 440.8 L1439.9 440.6 L1441.9 440.4 L1443.9 440.2 L1445.8 440.1 L1447.8 439.9 L1449.8 439.7 L1451.8 439.5 L1453.8 439.3 L1455.8 439.1 L1457.8 438.9 L1459.8 438.7 L1461.8 438.5 L1463.8 438.3 L1465.8 438.1 L1467.7 438.0 L1469.7 437.8 L1471.7 437.6 L1473.7 437.4 L1475.7 437.2 L1477.7 437.0 L1479.7 436.8 L1481.7 436.6 L1483.7 436.4 L1485.7 436.3 L1487.7 436.1 L1489.6 435.9 L1491.6 435.7 L1493.6 435.5 L1495.6 435.3 L1497.6 435.1 L1499.6 434.9 L1501.6 434.8 L1503.6 434.6 L1505.6 434.4 L1507.6 434.2 L1509.6 434.0 L1511.6 433.8 L1513.5 433.6 L1515.5 433.5 L1517.5 433.3 L1519.5 433.1 L1521.5 432.9 L1523.5 432.7 L1525.5 432.5 L1527.5 432.4 L1529.5 432.2 L1531.5 432.0 L1533.5 431.8 L1535.4 431.6 L1537.4 431.5 L1539.4 431.3 L1541.4 431.1 L1543.4 430.9 L1545.4 430.7 L1547.4 430.6 L1549.4 430.4 L1551.4 430.2 L1553.4 430.0 L1555.4 429.8 L1557.4 429.7 L1559.3 429.5 L1561.3 429.3 L1563.3 429.1 L1565.3 429.0 L1567.3 428.8 L1569.3 428.6 L1571.3 428.4 L1573.3 428.3 L1575.3 428.1 L1576.0 428.0" stroke="#ff0000"/>
<path d="M318.4 603.0 L318.5 601.0 L318.6 599.0 L318.7 597.1 L318.8 595.1 L318.9 593.1 L319.0 591.1 L319.1 589.1 L319.1 587.1 L319.2 585.2 L319.3 583.2 L319.4 581.2 L319.5 579.2 L319.6 577.2 L319.7 575.2 L319.8 573.2 L319.9 571.2 L320.0 569.2 L320.1 567.2 L320.2 565.2 L320.3 563.3 L320.4 561.3 L320.5 559.3 L320.6 557.3 L320.7 555.3 L320.8 553.3 L320.9 551.3 L321.0 549.3 L321.1 547.3 L321.2 545.3 L321.4 543.3 L321.5 541.3 L321.6 539.3 L321.7 537.3 L321.8 535.3 L321.9 533.3 L322.0 531.3 L322.1 529.3 L322.2 527.3 L322.4 525.3 L322.5 523.3 L322.6 521.3 L322.7 519.3 L322.8 517.2 L323.0 515.2 L323.1 513.2 L323.2 511.2 L323.3 509.2 L323.4 507.2 L323.6 505.2 L323.7 503.2 L323.8 501.2 L324.0 499.2 L324.1 497.2 L324.2 495.2 L324.4 493.2 L324.5 491.2 L324.6 489.2 L324.8 487.2 L324.9 485.2 L325.0 483.2 L325.2 481.2 L325.3 479.2 L325.5 477.2 L325.6 475.2 L325.8 473.1 L325.9 471.1 L326.1 469.1 L326.2 467.1 L326.4 465.1 L326.5 463.1 L326.7 461.1 L326.8 459.1 L327.0 457.1 L327.2 455.1 L327.3 453.1 L327.5 451.1 L327.6 449.1 L327.8 447.1 L328.0 445.1 L328.2 443.1 L328.3 441.1 L328.5 439.1 L328.7 437.1 L328.9 435.1 L329.0 433.1 L329.2 431.1 L329.4 429.2 L329.6 427.2 L329.8 425.2 L330.0 423.2 L330.2 421.2 L330.3 419.2 L330.5 417.2 L330.7 415.2 L330.9 413.2 L331.1 411.2 L331.3 409.2 L331.6 407.3 L331.8 405.3 L332.0 403.3 L332.2 401.3 L332.4 399.3 L332.6 397.3 L332.8 395.4 L333.0 393.4 L333.3 391.4 L333.5 389.4 L333.7 387.4 L334.0 385.5 L334.2 383.5 L334.4 381.5 L334.7 379.5 L334.9 377.6 L335.1 375.6 L335.4 373.6 L335.6 371.7 L335.9 369.7 L336.1 367.7 L336.4 365.8 L336.6 363.8 L336.9 361.8 L337.2 359.9 L337.4 357.9 L337.7 355.9 L338.0 354.0 L338.3 352.0 L338.6 350.1 L338.9 348.1 L339.2 346.2 L339.5 344.2 L339.8 342.3 L340.2 340.3 L340.5 338.3 L340.9 336.4 L341.2 334.4 L341.6 332.5 L342.0 330.6 L342.5 328.6 L342.9 326.7 L343.3 324.7 L343.8 322.8 L344.3 320.8 L344.8 318.9 L345.3 316.9 L345.8 315.0 L346.4 313.0 L347.0 311.1 L347.6 309.2 L348.2 307.2 L348.8 305.3 L349.5 303.3 L350.2 301.4 L350.9 299.5 L351.6 297.6 L352.4 295.6 L353.2 293.7 L354.0 291.9 L354.9 290.0 L355.8 288.2 L356.8 286.4 L357.8 284.6 L358.8 282.8 L359.9 281.1 L361.1 279.4 L362.3 277.8 L363.5 276.2 L364.8 274.7 L366.1 273.2 L367.5 271.7 L369.0 270.4 L370.5 269.1 L372.0 267.9 L373.6 266.9 L375.2 265.9 L376.8 265.1 L378.5 264.3 L380.1 263.8 L381.9 263.3 L383.6 263.1 L385.4 262.9 L387.2 262.9 L389.0 263.1 L390.8 263.4 L392.6 263.8 L394.5 264.3 L396.3 265.0 L398.2 265.7 L400.0 266.5 L401.9 267.4 L403.7 268.4 L405.5 269.4 L407.4 270.5 L409.2 271.7 L411.0 272.8 L412.8 274.0 L414.5 275.3 L416.3 276.5 L418.0 277.7 L419.7 279.0 L421.3 280.2 L423.0 281.5 L424.6 282.8 L426.2 284.0 L427.8 285.3 L429.4 286.6 L430.9 287.9 L432.5 289.2 L434.0 290.5 L435.5 291.8 L437.0 293.1 L438.5 294.4 L440.0 295.7 L441.5 297.0 L442.9 298.3 L444.4 299.6 L445.9 300.9 L447.3 302.3 L448.7 303.6 L450.2 304.9 L451.6 306.2 L453.1 307.5 L454.5 308.8 L455.9 310.2 L457.4 311.5 L458.8 312.8 L460.3 314.1 L461.7 315.4 L463.2 316.7 L464.7 318.0 L466.1 319.3 L467.6 320.6 L469.1 321.9 L470.6 323.2 L472.1 324.5 L473.6 325.8 L475.1 327.1 L476.7 328.4 L478.2 329.7 L479.7 330.9 L481.3 332.2 L482.8 333.5 L484.4 334.8 L485.9 336.1 L487.5 337.4 L489.0 338.6 L490.5 339.9 L492.1 341.2 L493.6 342.5 L495.2 343.8 L496.7 345.1 L498.3 346.4 L499.8 347.7 L501.4 349.0 L502.9 350.3 L504.4 351.6 L506.0 352.9 L507.5 354.2 L509.1 355.5 L510.6 356.8 L512.1 358.0 L513.7 359.3 L515.2 360.6 L516.8 361.9 L518.3 363.2 L519.9 364.5 L521.4 365.8 L523.0 367.1 L524.5 368.3 L526.1 369.6 L527.6 370.9 L529.2 372.2 L530.7 373.4 L532.3 374.7 L533.9 375.9 L535.4 377.2 L537.0 378.4 L538.6 379.7 L540.1 380.9 L541.7 382.2 L543.3 383.4 L544.9 384.6 L546.5 385.8 L548.1 387.0 L549.7 388.2 L551.3 389.4 L552.9 390.6 L554.5 391.8 L556.1 393.0 L557.7 394.2 L559.3 395.3 L560.9 396.5 L562.6 397.6 L564.2 398.8 L565.8 399.9 L567.5 401.0 L569.1 402.1 L570.8 403.2 L572.5 404.3 L574.1 405.4 L575.8 406.5 L577.5 407.5 L579.2 408.6 L580.9 409.6 L582.6 410.7 L584.3 411.7 L586.0 412.7 L587.7 413.7 L589.4 414.7 L591.1 415.7 L592.9 416.7 L594.6 417.7 L596.3 418.7 L598.1 419.6 L599.8 420.6 L601.6 421.5 L603.3 422.5 L605.1 423.4 L606.9 424.3 L608.6 425.2 L610.4 426.1 L612.2 427.0 L614.0 427.9 L615.8 428.8 L617.6 429.7 L619.3 430.6 L621.1 431.5 L622.9 432.3 L624.7 433.2 L626.6 434.0 L628.4 434.9 L630.2 435.7 L632.0 436.6 L633.8 437.4 L635.6 438.2 L637.5 439.1 L639.3 439.9 L641.1 440.7 L643.0 441.5 L644.8 442.3 L646.6 443.1 L648.5 443.9 L650.3 444.7 L652.2 445.5 L654.0 446.3 L655.8 447.0 L657.7 447.8 L659.6 448.6 L661.4 449.4 L663.3 450.1 L665.1 450.9 L667.0 451.6 L668.8 452.4 L670.7 453.1 L672.6 453.9 L674.4 454.6 L676.3 455.4 L678.2 456.1 L680.1 456.8 L681.9 457.5 L683.8 458.3 L685.7 459.0 L687.6 459.7 L689.4 460.4 L691.3 461.1 L693.2 461.8 L695.1 462.4 L697.0 463.1 L698.9 463.8 L700.8 464.5 L702.7 465.1 L704.6 465.8 L706.5 466.4 L708.4 467.1 L710.3 467.7 L712.2 468.3 L714.1 468.9 L716.0 469.6 L717.9 470.2 L719.8 470.8 L721.7 471.4 L723.6 472.0 L725.6 472.5 L727.5 473.1 L729.4 473.7 L731.3 474.2 L733.2 474.8 L735.2 475.3 L737.1 475.9 L739.0 476.4 L740.9 476.9 L742.9 477.5 L744.8 478.0 L746.7 478.5 L748.7 479.0 L750.6 479.4 L752.6 479.9 L754.5 480.4 L756.4 480.8 L758.4 481.3 L760.3 481.7 L762.3 482.2 L764.2 482.6 L766.2 483.0 L768.1 483.4 L770.1 483.8 L772.0 484.2 L774.0 484.6 L775.9 485.0 L777.9 485.3 L779.9 485.7 L781.8 486.0 L783.8 486.3 L785.8 486.7 L787.7 487.0 L789.7 487.3 L791.7 487.6 L793.6 487.9 L795.6 488.1 L797.6 488.4 L799.6 488.7 L801.5 488.9 L803.5 489.2 L805.5 489.4 L807.5 489.6 L809.5 489.9 L811.4 490.1 L813.4 490.3 L815.4 490.5 L817.4 490.7 L819.4 490.8 L821.4 491.0 L823.3 491.2 L825.3 491.4 L827.3 491.5 L829.3 491.7 L831.3 491.8 L833.3 492.0 L835.3 492.1 L837.3 492.2 L839.3 492.3 L841.3 492.4 L843.3 492.6 L845.3 492.7 L847.3 492.8 L849.3 492.8 L851.3 492.9 L853.3 493.0 L855.3 493.1 L857.3 493.2 L859.3 493.2 L861.3 493.3 L863.3 493.4 L865.3 493.4 L867.3 493.5 L869.3 493.5 L871.3 493.6 L873.3 493.6 L875.3 493.7 L877.3 493.7 L879.3 493.7 L881.3 493.8 L883.3 493.8 L885.3 493.8 L887.3 493.8 L889.3 493.8 L891.3 493.9 L893.3 493.9 L895.3 493.9 L897.3 493.9 L899.3 493.9 L901.3 493.9 L903.3 493.9 L905.3 493.9 L907.4 493.9 L909.4 493.9 L911.4 493.9 L913.4 493.9 L915.4 493.9 L917.4 493.9 L919.4 493.9 L921.4 493.9 L923.4 493.9 L925.4 493.9 L927.4 493.8 L929.4 493.8 L931.4 493.8 L933.4 493.8 L935.4 493.8 L937.4 493.7 L939.4 493.7 L941.4 493.7 L943.4 493.7 L945.4 493.6 L947.4 493.6 L949.4 493.6 L951.4 493.5 L953.4 493.5 L955.4 493.5 L957.4 493.4 L959.4 493.4 L961.4 493.3 L963.4 493.3 L965.4 493.2 L967.4 493.2 L969.4 493.1 L971.4 493.1 L973.4 493.0 L975.4 493.0 L977.4 492.9 L979.4 492.9 L981.4 492.8 L983.4 492.7 L985.4 492.7 L987.4 492.6 L989.4 492.5 L991.4 492.5 L993.4 492.4 L995.4 492.3 L997.4 492.3 L999.4 492.2 L1001.4 492.1 L1003.4 492.0 L1005.4 492.0 L1007.4 491.9 L1009.4 491.8 L1011.4 491.7 L1013.4 491.6 L1015.4 491.5 L1017.4 491.5 L1019.4 491.4 L1021.4 491.3 L1023.4 491.2 L1025.4 491.1 L1027.4 491.0 L1029.4 490.9 L1031.4 490.8 L1033.4 490.7 L1035.4 490.6 L1037.4 490.5 L1039.3 490.4 L1041.3 490.3 L1043.3 490.2 L1045.3 490.1 L1047.3 490.0 L1049.3 489.8 L1051.3 489.7 L1053.3 489.6 L1055.3 489.5 L1057.3 489.4 L1059.3 489.3 L1061.3 489.2 L1063.3 489.0 L1065.3 488.9 L1067.3 488.8 L1069.3 488.7 L1071.3 488.5 L1073.3 488.4 L1075.3 488.3 L1077.3 488.1 L1079.3 488.0 L1081.3 487.9 L1083.2 487.7 L1085.2 487.6 L1087.2 487.5 L1089.2 487.3 L1091.2 487.2 L1093.2 487.1 L1095.2 486.9 L1097.2 486.8 L1099.2 486.6 L1101.2 486.5 L1103.2 486.3 L1105.2 486.2 L1107.2 486.0 L1109.2 485.9 L1111.2 485.7 L1113.1 485.6 L1115.1 485.4 L1117.1 485.3 L1119.1 485.1 L1121.1 484.9 L1123.1 484.8 L1125.1 484.6 L1127.1 484.4 L1129.1 484.3 L1131.1 484.1 L1133.1 484.0 L1135.1 483.8 L1137.1 483.6 L1139.0 483.4 L1141.0 483.3 L1143.0 483.1 L1145.0 482.9 L1147.0 482.7 L1149.0 482.6 L1151.0 482.4 L1153.0 482.2 L1155.0 482.0 L1157.0 481.8 L1159.0 481.7 L1161.0 481.5 L1162.9 481.3 L1164.9 481.1 L1166.9 480.9 L1168.9 480.7 L1170.9 480.5 L1172.9 480.4 L1174.9 480.2 L1176.9 480.0 L1178.9 479.8 L1180.9 479.6 L1182.8 479.4 L1184.8 479.2 L1186.8 479.0 L1188.8 478.8 L1190.8 478.6 L1192.8 478.4 L1194.8 478.2 L1196.8 478.0 L1198.8 477.8 L1200.7 477.6 L1202.7 477.4 L1204.7 477.2 L1206.7 476.9 L1208.7 476.7 L1210.7 476.5 L1212.7 476.3 L1214.7 476.1 L1216.7 475.9 L1218.6 475.7 L1220.6 475.5 L1222.6 475.3 L1224.6 475.0 L1226.6 474.8 L1228.6 474.6 L1230.6 474.4 L1232.6 474.2 L1234.6 474.0 L1236.5 473.7 L1238.5 473.5 L1240.5 473.3 L1242.5 473.1 L1244.5 472.8 L1246.5 472.6 L1248.5 472.4 L1250.5 472.2 L1252.4 472.0 L1254.4 471.7 L1256.4 471.5 L1258.4 471.3 L1260.4 471.1 L1262.4 470.8 L1264.4 470.6 L1266.4 470.4 L1268.3 470.1 L1270.3 469.9 L1272.3 469.7 L1274.3 469.5 L1276.3 469.2 L1278.3 469.0 L1280.3 468.8 L1282.3 468.5 L1284.2 468.3 L1286.2 468.1 L1288.2 467.9 L1290.2 467.6 L1292.2 467.4 L1294.2 467.2 L1296.2 466.9 L1298.2 466.7 L1300.1 466.5 L1302.1 466.2 L1304.1 466.0 L1306.1 465.8 L1308.1 465.5 L1310.1 465.3 L1312.1 465.1 L1314.0 464.9 L1316.0 464.6 L1318.0 464.4 L1320.0 464.2 L1322.0 463.9 L1324.0 463.7 L1326.0 463.5 L1328.0 463.2 L1329.9 463.0 L1331.9 462.8 L1333.9 462.5 L1335.9 462.3 L1337.9 462.1 L1339.9 461.8 L1341.9 461.6 L1343.9 461.4 L1345.8 461.2 L1347.8 460.9 L1349.8 460.7 L1351.8 460.5 L1353.8 460.2 L1355.8 460.0 L1357.8 459.8 L1359.8 459.6 L1361.7 459.3 L1363.7 459.1 L1365.7 458.9 L1367.7 458.6 L1369.7 458.4 L1371.7 458.2 L1373.7 458.0 L1375.7 457.7 L1377.6 457.5 L1379.6 457.3 L1381.6 457.1 L1383.6 456.9 L1385.6 456.6 L1387.6 456.4 L1389.6 456.2 L1391.6 456.0 L1393.5 455.8 L1395.5 455.5 L1397.5 455.3 L1399.5 455.1 L1401.5 454.9 L1403.5 454.7 L1405.5 454.4 L1407.5 454.2 L1409.5 454.0 L1411.4 453.8 L1413.4 453.6 L1415.4 453.4 L1417.4 453.2 L1419.4 453.0 L1421.4 452.8 L1423.4 452.5 L1425.4 452.3 L1427.4 452.1 L1429.3 451.9 L1431.3 451.7 L1433.3 451.5 L1435.3 451.3 L1437.3 451.1 L1439.3 450.9 L1441.3 450.7 L1443.3 450.5 L1445.3 450.3 L1447.3 450.1 L1449.2 449.9 L1451.2 449.7 L1453.2 449.5 L1455.2 449.4 L1457.2 449.2 L1459.2 449.0 L1461.2 448.8 L1463.2 448.6 L1465.2 448.4 L1467.2 448.2 L1469.2 448.0 L1471.1 447.9 L1473.1 447.7 L1475.1 447.5 L1477.1 447.3 L1479.1 447.1 L1481.1 447.0 L1483.1 446.8 L1485.1 446.6 L1487.1 446.4 L1489.1 446.3 L1491.1 446.1 L1493.1 445.9 L1495.0 445.8 L1497.0 445.6 L1499.0 445.4 L1501.0 445.3 L1503.0 445.1 L1505.0 445.0 L1507.0 444.8 L1509.0 444.6 L1511.0 444.5 L1513.0 444.3 L1515.0 444.2 L1517.0 444.0 L1519.0 443.9 L1521.0 443.7 L1523.0 443.6 L1525.0 443.5 L1526.9 443.3 L1528.9 443.2 L1530.9 443.0 L1532.9 442.9 L1534.9 442.8 L1536.9 442.6 L1538.9 442.5 L1540.9 442.4 L1542.9 442.2 L1544.9 442.1 L1546.9 442.0 L1548.9 441.9 L1550.9 441.8 L1552.9 441.6 L1554.9 441.5 L1556.9 441.4 L1558.9 441.3 L1560.9 441.2 L1562.9 441.1 L1564.9 441.0 L1566.9 440.9 L1568.9 440.8 L1570.9 440.7 L1572.9 440.6 L1574.9 440.5 L1576.0 440.4" stroke="#0000ff"/>
<path d="M312.6 616.5 L312.7 614.5 L312.8 612.6 L312.9 610.6 L313.0 608.6 L313.1 606.6 L313.2 604.7 L313.3 602.7 L313.3 600.7 L313.4 598.7 L313.5 596.7 L313.6 594.8 L313.7 592.8 L313.8 590.8 L313.9 588.8 L313.9 586.8 L314.0 584.8 L314.1 582.8 L314.2 580.9 L314.3 578.9 L314.3 576.9 L314.4 574.9 L314.5 572.9 L314.6 570.9 L314.7 568.9 L314.7 566.9 L314.8 564.9 L314.9 562.9 L315.0 560.9 L315.0 558.9 L315.1 556.9 L315.2 554.9 L315.3 552.9 L315.3 550.9 L315.4 548.9 L315.5 546.9 L315.6 544.9 L315.6 542.9 L315.7 540.9 L315.8 538.9 L315.9 536.9 L316.0 534.8 L316.0 532.8 L316.1 530.8 L316.2 528.8 L316.3 526.8 L316.3 524.8 L316.4 522.8 L316.5 520.8 L316.6 518.8 L316.7 516.8 L316.8 514.7 L316.8 512.7 L316.9 510.7 L317.0 508.7 L317.1 506.7 L317.2 504.7 L317.3 502.7 L317.4 500.7 L317.5 498.7 L317.5 496.6 L317.6 494.6 L317.7 492.6 L317.8 490.6 L317.9 488.6 L318.0 486.6 L318.1 484.6 L318.2 482.6 L318.3 480.6 L318.4 478.5 L318.5 476.5 L318.6 474.5 L318.8 472.5 L318.9 470.5 L319.0 468.5 L319.1 466.5 L319.2 464.5 L319.3 462.5 L319.5 460.5 L319.6 458.5 L319.7 456.4 L319.8 454.4 L320.0 452.4 L320.1 450.4 L320.2 448.4 L320.4 446.4 L320.5 444.4 L320.6 442.4 L320.8 440.4 L320.9 438.4 L321.1 436.4 L321.2 434.4 L321.4 432.4 L321.5 430.4 L321.7 428.4 L321.8 426.4 L322.0 424.4 L322.2 422.5 L322.3 420.5 L322.5 418.5 L322.7 416.5 L322.9 414.5 L323.0 412.5 L323.2 410.5 L323.4 408.5 L323.6 406.5 L323.8 404.6 L324.0 402.6 L324.2 400.6 L324.4 398.6 L324.6 396.6 L324.8 394.7 L325.0 392.7 L325.2 390.7 L325.5 388.7 L325.7 386.8 L325.9 384.8 L326.1 382.8 L326.4 380.9 L326.6 378.9 L326.9 376.9 L327.1 375.0 L327.3 373.0 L327.6 371.1 L327.9 369.1 L328.1 367.1 L328.4 365.2 L328.7 363.2 L328.9 361.3 L329.2 359.3 L329.5 357.4 L329.8 355.4 L330.1 353.5 L330.4 351.6 L330.7 349.6 L331.1 347.7 L331.4 345.7 L331.8 343.8 L332.1 341.8 L332.5 339.9 L332.9 337.9 L333.3 336.0 L333.7 334.0 L334.2 332.1 L334.6 330.2 L335.1 328.2 L335.6 326.3 L336.1 324.3 L336.7 322.3 L337.2 320.4 L337.8 318.4 L338.4 316.5 L339.0 314.5 L339.6 312.6 L340.3 310.6 L341.0 308.6 L341.7 306.6 L342.4 304.7 L343.2 302.7 L344.0 300.7 L344.8 298.7 L345.7 296.8 L346.6 294.9 L347.6 293.0 L348.6 291.2 L349.7 289.6 L350.9 288.1 L352.2 286.7 L353.6 285.5 L355.1 284.5 L356.8 283.7 L358.5 283.1 L360.2 282.8 L362.0 282.8 L363.7 283.1 L365.4 283.5 L367.1 284.2 L368.8 285.1 L370.5 286.1 L372.2 287.2 L373.8 288.4 L375.5 289.6 L377.1 290.9 L378.7 292.1 L380.3 293.4 L381.9 294.7 L383.5 295.9 L385.0 297.2 L386.6 298.5 L388.1 299.8 L389.7 301.2 L391.2 302.5 L392.7 303.8 L394.2 305.2 L395.7 306.5 L397.2 307.9 L398.7 309.3 L400.2 310.6 L401.7 312.0 L403.1 313.4 L404.6 314.8 L406.0 316.2 L407.5 317.6 L408.9 319.0 L410.3 320.4 L411.8 321.9 L413.2 323.3 L414.6 324.7 L416.0 326.1 L417.4 327.6 L418.8 329.0 L420.2 330.5 L421.6 331.9 L423.0 333.4 L424.4 334.8 L425.8 336.3 L427.1 337.7 L428.5 339.2 L429.9 340.7 L431.3 342.1 L432.6 343.6 L434.0 345.0 L435.4 346.5 L436.7 348.0 L438.1 349.4 L439.5 350.9 L440.8 352.3 L442.2 353.8 L443.6 355.3 L444.9 356.7 L446.3 358.2 L447.7 359.6 L449.0 361.1 L450.4 362.5 L451.8 364.0 L453.2 365.4 L454.6 366.8 L455.9 368.3 L457.3 369.7 L458.7 371.1 L460.1 372.5 L461.5 373.9 L462.9 375.4 L464.3 376.8 L465.7 378.2 L467.2 379.5 L468.6 380.9 L470.0 382.3 L471.4 383.7 L472.9 385.0 L474.3 386.4 L475.8 387.7 L477.3 389.1 L478.7 390.4 L480.2 391.7 L481.7 393.1 L483.2 394.4 L484.7 395.7 L486.2 396.9 L487.7 398.2 L489.2 399.5 L490.8 400.7 L492.3 402.0 L493.9 403.2 L495.5 404.4 L497.0 405.7 L498.6 406.9 L500.2 408.1 L501.8 409.2 L503.4 410.4 L505.1 411.6 L506.7 412.7 L508.3 413.9 L510.0 415.0 L511.6 416.1 L513.3 417.3 L514.9 418.4 L516.6 419.5 L518.3 420.6 L520.0 421.6 L521.7 422.7 L523.4 423.8 L525.1 424.9 L526.8 425.9 L528.5 427.0 L530.2 428.0 L531.9 429.1 L533.7 430.1 L535.4 431.1 L537.1 432.1 L538.9 433.1 L540.6 434.2 L542.4 435.2 L544.1 436.2 L545.9 437.1 L547.7 438.1 L549.4 439.1 L551.2 440.1 L553.0 441.1 L554.7 442.0 L556.5 443.0 L558.3 444.0 L560.1 444.9 L561.8 445.9 L563.6 446.8 L565.4 447.8 L567.2 448.7 L569.0 449.7 L570.7 450.6 L572.5 451.6 L574.3 452.5 L576.1 453.4 L577.9 454.4 L579.6 455.3 L581.4 456.2 L583.2 457.2 L585.0 458.1 L586.8 459.0 L588.6 459.9 L590.3 460.8 L592.1 461.7 L593.9 462.6 L595.7 463.5 L597.5 464.4 L599.3 465.3 L601.1 466.2 L602.9 467.1 L604.7 467.9 L606.5 468.8 L608.3 469.7 L610.1 470.5 L611.9 471.3 L613.7 472.2 L615.5 473.0 L617.3 473.8 L619.1 474.7 L620.9 475.5 L622.8 476.3 L624.6 477.0 L626.4 477.8 L628.2 478.6 L630.1 479.4 L631.9 480.1 L633.7 480.9 L635.6 481.6 L637.4 482.3 L639.2 483.0 L641.1 483.7 L643.0 484.4 L644.8 485.1 L646.7 485.8 L648.5 486.5 L650.4 487.1 L652.3 487.7 L654.2 488.4 L656.0 489.0 L657.9 489.6 L659.8 490.2 L661.7 490.8 L663.6 491.3 L665.5 491.9 L667.4 492.4 L669.3 493.0 L671.2 493.5 L673.2 494.0 L675.1 494.5 L677.0 495.0 L678.9 495.5 L680.9 495.9 L682.8 496.4 L684.7 496.9 L686.7 497.3 L688.6 497.7 L690.6 498.1 L692.5 498.6 L694.5 499.0 L696.4 499.4 L698.4 499.7 L700.3 500.1 L702.3 500.5 L704.3 500.8 L706.2 501.2 L708.2 501.5 L710.2 501.9 L712.2 502.2 L714.1 502.5 L716.1 502.8 L718.1 503.1 L720.1 503.4 L722.1 503.7 L724.1 504.0 L726.1 504.3 L728.0 504.6 L730.0 504.8 L732.0 505.1 L734.0 505.3 L736.0 505.6 L738.0 505.8 L740.0 506.0 L742.0 506.3 L744.0 506.5 L746.0 506.7 L748.0 506.9 L750.0 507.1 L752.0 507.3 L754.1 507.5 L756.1 507.7 L758.1 507.9 L760.1 508.1 L762.1 508.3 L764.1 508.4 L766.1 508.6 L768.1 508.8 L770.1 509.0 L772.1 509.1 L774.1 509.3 L776.1 509.4 L778.2 509.6 L780.2 509.7 L782.2 509.9 L784.2 510.0 L786.2 510.2 L788.2 510.3 L790.2 510.4 L792.2 510.6 L794.2 510.7 L796.2 510.8 L798.2 511.0 L800.2 511.1 L802.2 511.2 L804.2 511.3 L806.2 511.4 L808.2 511.5 L810.2 511.6 L812.2 511.7 L814.3 511.9 L816.3 512.0 L818.3 512.0 L820.3 512.1 L822.3 512.2 L824.3 512.3 L826.3 512.4 L828.3 512.5 L830.3 512.6 L832.3 512.6 L834.3 512.7 L836.3 512.8 L838.3 512.9 L840.3 512.9 L842.3 513.0 L844.3 513.0 L846.3 513.1 L848.3 513.1 L850.3 513.2 L852.3 513.2 L854.3 513.3 L856.3 513.3 L858.2 513.4 L860.2 513.4 L862.2 513.4 L864.2 513.4 L866.2 513.5 L868.2 513.5 L870.2 513.5 L872.2 513.5 L874.2 513.5 L876.2 513.5 L878.2 513.5 L880.2 513.5 L882.2 513.5 L884.2 513.5 L886.2 513.5 L888.2 513.5 L890.2 513.5 L892.2 513.5 L894.2 513.5 L896.2 513.4 L898.1 513.4 L900.1 513.4 L902.1 513.3 L904.1 513.3 L906.1 513.2 L908.1 513.2 L910.1 513.2 L912.1 513.1 L914.1 513.0 L916.1 513.0 L918.1 512.9 L920.1 512.8 L922.1 512.8 L924.0 512.7 L926.0 512.6 L928.0 512.5 L930.0 512.5 L932.0 512.4 L934.0 512.3 L936.0 512.2 L938.0 512.1 L940.0 512.0 L942.0 511.9 L944.0 511.7 L945.9 511.6 L947.9 511.5 L949.9 511.4 L951.9 511.3 L953.9 511.1 L955.9 511.0 L957.9 510.9 L959.9 510.7 L961.9 510.6 L963.9 510.4 L965.8 510.3 L967.8 510.1 L969.8 510.0 L971.8 509.8 L973.8 509.7 L975.8 509.5 L977.8 509.3 L979.8 509.2 L981.8 509.0 L983.7 508.8 L985.7 508.6 L987.7 508.5 L989.7 508.3 L991.7 508.1 L993.7 507.9 L995.7 507.7 L997.7 507.5 L999.6 507.3 L1001.6 507.1 L1003.6 506.9 L1005.6 506.7 L1007.6 506.5 L1009.6 506.3 L1011.6 506.1 L1013.6 505.9 L1015.5 505.7 L1017.5 505.5 L1019.5 505.2 L1021.5 505.0 L1023.5 504.8 L1025.5 504.6 L1027.5 504.4 L1029.4 504.1 L1031.4 503.9 L1033.4 503.7 L1035.4 503.4 L1037.4 503.2 L1039.4 503.0 L1041.4 502.7 L1043.4 502.5 L1045.3 502.2 L1047.3 502.0 L1049.3 501.7 L1051.3 501.5 L1053.3 501.2 L1055.3 501.0 L1057.3 500.7 L1059.2 500.5 L1061.2 500.2 L1063.2 500.0 L1065.2 499.7 L1067.2 499.5 L1069.2 499.2 L1071.2 498.9 L1073.1 498.7 L1075.1 498.4 L1077.1 498.2 L1079.1 497.9 L1081.1 497.6 L1083.1 497.4 L1085.0 497.1 L1087.0 496.8 L1089.0 496.6 L1091.0 496.3 L1093.0 496.0 L1095.0 495.7 L1097.0 495.5 L1098.9 495.2 L1100.9 494.9 L1102.9 494.6 L1104.9 494.4 L1106.9 494.1 L1108.9 493.8 L1110.9 493.5 L1112.8 493.3 L1114.8 493.0 L1116.8 492.7 L1118.8 492.4 L1120.8 492.2 L1122.8 491.9 L1124.7 491.6 L1126.7 491.3 L1128.7 491.1 L1130.7 490.8 L1132.7 490.5 L1134.7 490.2 L1136.7 489.9 L1138.6 489.7 L1140.6 489.4 L1142.6 489.1 L1144.6 488.8 L1146.6 488.6 L1148.6 488.3 L1150.5 488.0 L1152.5 487.7 L1154.5 487.5 L1156.5 487.2 L1158.5 486.9 L1160.5 486.6 L1162.4 486.4 L1164.4 486.1 L1166.4 485.8 L1168.4 485.5 L1170.4 485.3 L1172.4 485.0 L1174.4 484.7 L1176.3 484.5 L1178.3 484.2 L1180.3 483.9 L1182.3 483.7 L1184.3 483.4 L1186.3 483.1 L1188.2 482.9 L1190.2 482.6 L1192.2 482.4 L1194.2 482.1 L1196.2 481.8 L1198.2 481.6 L1200.2 481.3 L1202.1 481.1 L1204.1 480.8 L1206.1 480.5 L1208.1 480.3 L1210.1 480.0 L1212.1 479.8 L1214.0 479.5 L1216.0 479.3 L1218.0 479.0 L1220.0 478.8 L1222.0 478.5 L1224.0 478.2 L1226.0 478.0 L1227.9 477.7 L1229.9 477.5 L1231.9 477.2 L1233.9 477.0 L1235.9 476.8 L1237.9 476.5 L1239.8 476.3 L1241.8 476.0 L1243.8 475.8 L1245.8 475.5 L1247.8 475.3 L1249.8 475.0 L1251.8 474.8 L1253.7 474.6 L1255.7 474.3 L1257.7 474.1 L1259.7 473.8 L1261.7 473.6 L1263.7 473.4 L1265.6 473.1 L1267.6 472.9 L1269.6 472.6 L1271.6 472.4 L1273.6 472.2 L1275.6 471.9 L1277.6 471.7 L1279.5 471.5 L1281.5 471.2 L1283.5 471.0 L1285.5 470.8 L1287.5 470.5 L1289.5 470.3 L1291.5 470.1 L1293.4 469.8 L1295.4 469.6 L1297.4 469.4 L1299.4 469.1 L1301.4 468.9 L1303.4 468.7 L1305.4 468.4 L1307.3 468.2 L1309.3 468.0 L1311.3 467.8 L1313.3 467.5 L1315.3 467.3 L1317.3 467.1 L1319.3 466.9 L1321.2 466.6 L1323.2 466.4 L1325.2 466.2 L1327.2 466.0 L1329.2 465.7 L1331.2 465.5 L1333.2 465.3 L1335.1 465.1 L1337.1 464.8 L1339.1 464.6 L1341.1 464.4 L1343.1 464.2 L1345.1 464.0 L1347.1 463.7 L1349.0 463.5 L1351.0 463.3 L1353.0 463.1 L1355.0 462.9 L1357.0 462.7 L1359.0 462.4 L1361.0 462.2 L1362.9 462.0 L1364.9 461.8 L1366.9 461.6 L1368.9 461.4 L1370.9 461.1 L1372.9 460.9 L1374.9 460.7 L1376.9 460.5 L1378.8 460.3 L1380.8 460.1 L1382.8 459.9 L1384.8 459.6 L1386.8 459.4 L1388.8 459.2 L1390.8 459.0 L1392.8 458.8 L1394.7 458.6 L1396.7 458.4 L1398.7 458.2 L1400.7 457.9 L1402.7 457.7 L1404.7 457.5 L1406.7 457.3 L1408.6 457.1 L1410.6 456.9 L1412.6 456.7 L1414.6 456.5 L1416.6 456.3 L1418.6 456.1 L1420.6 455.8 L1422.6 455.6 L1424.6 455.4 L1426.5 455.2 L1428.5 455.0 L1430.5 454.8 L1432.5 454.6 L1434.5 454.4 L1436.5 454.2 L1438.5 454.0 L1440.5 453.8 L1442.4 453.6 L1444.4 453.4 L1446.4 453.1 L1448.4 452.9 L1450.4 452.7 L1452.4 452.5 L1454.4 452.3 L1456.4 452.1 L1458.4 451.9 L1460.3 451.7 L1462.3 451.5 L1464.3 451.3 L1466.3 451.1 L1468.3 450.9 L1470.3 450.7 L1472.3 450.5 L1474.3 450.3 L1476.3 450.1 L1478.2 449.9 L1480.2 449.7 L1482.2 449.5 L1484.2 449.3 L1486.2 449.1 L1488.2 448.8 L1490.2 448.6 L1492.2 448.4 L1494.2 448.2 L1496.2 448.0 L1498.1 447.8 L1500.1 447.6 L1502.1 447.4 L1504.1 447.2 L1506.1 447.0 L1508.1 446.8 L1510.1 446.6 L1512.1 446.4 L1514.1 446.2 L1516.1 446.0 L1518.0 445.8 L1520.0 445.6 L1522.0 445.4 L1524.0 445.2 L1526.0 445.0 L1528.0 444.8 L1530.0 444.6 L1532.0 444.4 L1534.0 444.2 L1536.0 444.0 L1538.0 443.8 L1539.9 443.6 L1541.9 443.4 L1543.9 443.2 L1545.9 443.0 L1547.9 442.8 L1549.9 442.5 L1551.9 442.3 L1553.9 442.1 L1555.9 441.9 L1557.9 441.7 L1559.9 441.5 L1561.9 441.3 L1563.8 441.1 L1565.8 440.9 L1567.8 440.7 L1569.8 440.5 L1571.8 440.3 L1573.8 440.1 L1575.8 439.9 L1576.0 439.9" stroke="#008000"/>
<path d="M311.0 614.0 L311.1 612.0 L311.1 610.1 L311.2 608.1 L311.2 606.1 L311.3 604.1 L311.4 602.2 L311.4 600.2 L311.5 598.2 L311.6 596.2 L311.6 594.2 L311.7 592.2 L311.8 590.3 L311.8 588.3 L311.9 586.3 L312.0 584.3 L312.0 582.3 L312.1 580.3 L312.2 578.3 L312.3 576.3 L312.3 574.3 L312.4 572.4 L312.5 570.4 L312.6 568.4 L312.6 566.4 L312.7 564.4 L312.8 562.4 L312.9 560.4 L313.0 558.4 L313.1 556.4 L313.1 554.4 L313.2 552.4 L313.3 550.4 L313.4 548.4 L313.5 546.4 L313.6 544.4 L313.7 542.4 L313.8 540.4 L313.9 538.3 L314.0 536.3 L314.1 534.3 L314.2 532.3 L314.3 530.3 L314.4 528.3 L314.5 526.3 L314.6 524.3 L314.7 522.3 L314.8 520.3 L314.9 518.3 L315.0 516.3 L315.1 514.3 L315.2 512.2 L315.3 510.2 L315.4 508.2 L315.5 506.2 L315.6 504.2 L315.8 502.2 L315.9 500.2 L316.0 498.2 L316.1 496.2 L316.2 494.2 L316.4 492.1 L316.5 490.1 L316.6 488.1 L316.7 486.1 L316.8 484.1 L317.0 482.1 L317.1 480.1 L317.2 478.1 L317.4 476.1 L317.5 474.1 L317.6 472.0 L317.7 470.0 L317.9 468.0 L318.0 466.0 L318.2 464.0 L318.3 462.0 L318.4 460.0 L318.6 458.0 L318.7 456.0 L318.9 454.0 L319.0 452.0 L319.1 450.0 L319.3 448.0 L319.4 446.0 L319.6 444.0 L319.7 442.0 L319.9 440.0 L320.0 438.0 L320.2 436.0 L320.4 434.0 L320.5 432.0 L320.7 430.0 L320.8 428.0 L321.0 426.0 L321.2 424.0 L321.3 422.0 L321.5 420.0 L321.6 418.0 L321.8 416.0 L322.0 414.0 L322.1 412.0 L322.3 410.0 L322.5 408.0 L322.7 406.1 L322.8 404.1 L323.0 402.1 L323.2 400.1 L323.4 398.1 L323.6 396.1 L323.7 394.2 L323.9 392.2 L324.1 390.2 L324.3 388.2 L324.5 386.3 L324.7 384.3 L324.9 382.3 L325.0 380.3 L325.2 378.4 L325.4 376.4 L325.6 374.4 L325.8 372.5 L326.0 370.5 L326.2 368.5 L326.4 366.6 L326.6 364.6 L326.8 362.7 L327.0 360.7 L327.3 358.8 L327.5 356.8 L327.7 354.8 L327.9 352.9 L328.1 350.9 L328.4 349.0 L328.6 347.0 L328.9 345.1 L329.1 343.1 L329.4 341.2 L329.7 339.2 L330.0 337.2 L330.3 335.3 L330.6 333.3 L330.9 331.4 L331.2 329.4 L331.6 327.4 L331.9 325.5 L332.3 323.5 L332.7 321.5 L333.1 319.5 L333.5 317.6 L334.0 315.6 L334.4 313.6 L334.9 311.6 L335.4 309.6 L335.9 307.6 L336.4 305.6 L337.0 303.6 L337.6 301.6 L338.2 299.6 L338.8 297.6 L339.4 295.5 L340.1 293.5 L340.8 291.5 L341.5 289.5 L342.3 287.5 L343.1 285.5 L343.9 283.6 L344.8 281.8 L345.8 280.0 L346.8 278.3 L347.8 276.6 L349.0 275.1 L350.2 273.7 L351.5 272.5 L352.9 271.3 L354.3 270.3 L355.9 269.5 L357.5 268.8 L359.3 268.3 L361.1 268.0 L362.9 267.8 L364.9 267.8 L366.8 267.8 L368.8 268.1 L370.8 268.4 L372.8 268.8 L374.8 269.4 L376.8 270.1 L378.7 270.8 L380.6 271.6 L382.4 272.5 L384.2 273.5 L385.9 274.6 L387.6 275.7 L389.3 276.8 L391.0 278.0 L392.6 279.2 L394.2 280.5 L395.7 281.8 L397.3 283.1 L398.8 284.4 L400.4 285.7 L401.9 287.0 L403.4 288.2 L405.0 289.5 L406.5 290.7 L408.1 292.0 L409.7 293.1 L411.3 294.3 L412.8 295.4 L414.4 296.6 L415.9 297.8 L417.5 299.1 L419.0 300.3 L420.5 301.6 L421.9 302.9 L423.4 304.2 L424.8 305.6 L426.3 307.0 L427.7 308.4 L429.1 309.8 L430.5 311.2 L431.9 312.6 L433.3 314.1 L434.6 315.5 L436.0 317.0 L437.4 318.4 L438.8 319.9 L440.2 321.3 L441.5 322.8 L442.9 324.3 L444.3 325.7 L445.7 327.2 L447.1 328.6 L448.5 330.1 L449.9 331.5 L451.2 332.9 L452.6 334.4 L454.1 335.8 L455.5 337.2 L456.9 338.7 L458.3 340.1 L459.7 341.5 L461.1 342.9 L462.6 344.3 L464.0 345.7 L465.4 347.1 L466.9 348.5 L468.3 349.9 L469.8 351.3 L471.2 352.6 L472.7 354.0 L474.1 355.4 L475.6 356.7 L477.1 358.1 L478.5 359.4 L480.0 360.8 L481.5 362.1 L483.0 363.4 L484.5 364.8 L486.0 366.1 L487.5 367.4 L489.0 368.7 L490.5 370.1 L492.0 371.4 L493.5 372.7 L495.0 374.0 L496.5 375.3 L498.0 376.6 L499.5 377.9 L501.1 379.2 L502.6 380.5 L504.1 381.8 L505.7 383.1 L507.2 384.4 L508.7 385.6 L510.3 386.9 L511.8 388.2 L513.4 389.4 L514.9 390.7 L516.5 392.0 L518.1 393.2 L519.6 394.5 L521.2 395.7 L522.8 396.9 L524.4 398.2 L526.0 399.4 L527.5 400.6 L529.1 401.8 L530.7 403.0 L532.3 404.2 L534.0 405.4 L535.6 406.6 L537.2 407.7 L538.8 408.9 L540.4 410.1 L542.1 411.2 L543.7 412.4 L545.3 413.5 L547.0 414.6 L548.6 415.8 L550.3 416.9 L551.9 418.0 L553.6 419.1 L555.3 420.2 L557.0 421.3 L558.6 422.3 L560.3 423.4 L562.0 424.4 L563.7 425.5 L565.4 426.5 L567.1 427.6 L568.9 428.6 L570.6 429.6 L572.3 430.6 L574.0 431.5 L575.8 432.5 L577.5 433.5 L579.3 434.4 L581.0 435.4 L582.8 436.3 L584.5 437.2 L586.3 438.2 L588.1 439.1 L589.9 440.0 L591.6 440.9 L593.4 441.8 L595.2 442.6 L597.0 443.5 L598.8 444.4 L600.6 445.2 L602.4 446.1 L604.2 446.9 L606.1 447.8 L607.9 448.6 L609.7 449.5 L611.5 450.3 L613.3 451.1 L615.2 451.9 L617.0 452.7 L618.8 453.5 L620.7 454.4 L622.5 455.2 L624.3 456.0 L626.2 456.8 L628.0 457.5 L629.9 458.3 L631.7 459.1 L633.6 459.9 L635.4 460.7 L637.3 461.5 L639.1 462.3 L641.0 463.0 L642.8 463.8 L644.7 464.6 L646.5 465.4 L648.4 466.2 L650.2 467.0 L652.1 467.7 L653.9 468.5 L655.8 469.3 L657.6 470.1 L659.5 470.9 L661.3 471.7 L663.2 472.4 L665.0 473.2 L666.9 474.0 L668.7 474.8 L670.6 475.6 L672.4 476.4 L674.3 477.1 L676.1 477.9 L678.0 478.7 L679.8 479.4 L681.7 480.2 L683.5 480.9 L685.4 481.7 L687.2 482.4 L689.1 483.2 L691.0 483.9 L692.8 484.6 L694.7 485.3 L696.6 486.1 L698.4 486.8 L700.3 487.5 L702.2 488.1 L704.1 488.8 L705.9 489.5 L707.8 490.1 L709.7 490.8 L711.6 491.4 L713.5 492.0 L715.4 492.6 L717.3 493.2 L719.2 493.8 L721.1 494.4 L723.0 494.9 L724.9 495.5 L726.8 496.0 L728.7 496.5 L730.7 497.0 L732.6 497.5 L734.5 498.0 L736.5 498.4 L738.4 498.9 L740.3 499.3 L742.3 499.7 L744.2 500.1 L746.2 500.5 L748.2 500.8 L750.1 501.2 L752.1 501.5 L754.1 501.8 L756.0 502.2 L758.0 502.5 L760.0 502.7 L762.0 503.0 L764.0 503.3 L765.9 503.6 L767.9 503.8 L769.9 504.1 L771.9 504.3 L773.9 504.6 L775.9 504.8 L777.9 505.1 L779.9 505.3 L781.9 505.5 L783.9 505.7 L785.8 505.9 L787.8 506.2 L789.8 506.4 L791.8 506.6 L793.8 506.8 L795.8 507.0 L797.8 507.2 L799.8 507.4 L801.8 507.6 L803.8 507.8 L805.8 508.0 L807.8 508.1 L809.8 508.3 L811.8 508.5 L813.8 508.7 L815.8 508.8 L817.8 509.0 L819.8 509.2 L821.8 509.3 L823.8 509.5 L825.8 509.7 L827.8 509.8 L829.8 510.0 L831.8 510.1 L833.8 510.2 L835.8 510.4 L837.8 510.5 L839.8 510.6 L841.8 510.8 L843.8 510.9 L845.8 511.0 L847.8 511.1 L849.8 511.3 L851.8 511.4 L853.8 511.5 L855.8 511.6 L857.8 511.7 L859.8 511.8 L861.8 511.9 L863.8 512.0 L865.8 512.1 L867.8 512.1 L869.8 512.2 L871.8 512.3 L873.8 512.4 L875.8 512.4 L877.8 512.5 L879.8 512.6 L881.8 512.6 L883.8 512.7 L885.8 512.8 L887.8 512.8 L889.8 512.9 L891.8 512.9 L893.8 512.9 L895.8 513.0 L897.8 513.0 L899.8 513.0 L901.8 513.1 L903.8 513.1 L905.8 513.1 L907.8 513.1 L909.8 513.2 L911.8 513.2 L913.8 513.2 L915.8 513.2 L917.8 513.2 L919.8 513.2 L921.8 513.2 L923.8 513.2 L925.8 513.2 L927.8 513.1 L929.8 513.1 L931.8 513.1 L933.8 513.1 L935.8 513.1 L937.8 513.0 L939.8 513.0 L941.8 513.0 L943.8 512.9 L945.8 512.9 L947.8 512.8 L949.8 512.8 L951.8 512.7 L953.8 512.7 L955.8 512.6 L957.8 512.6 L959.7 512.5 L961.7 512.4 L963.7 512.4 L965.7 512.3 L967.7 512.2 L969.7 512.2 L971.7 512.1 L973.7 512.0 L975.7 511.9 L977.7 511.8 L979.7 511.8 L981.7 511.7 L983.7 511.6 L985.7 511.5 L987.7 511.4 L989.7 511.3 L991.7 511.2 L993.7 511.1 L995.7 511.0 L997.7 510.9 L999.7 510.8 L1001.7 510.7 L1003.7 510.5 L1005.7 510.4 L1007.6 510.3 L1009.6 510.2 L1011.6 510.1 L1013.6 509.9 L1015.6 509.8 L1017.6 509.7 L1019.6 509.6 L1021.6 509.4 L1023.6 509.3 L1025.6 509.1 L1027.6 509.0 L1029.6 508.9 L1031.6 508.7 L1033.6 508.6 L1035.6 508.4 L1037.6 508.3 L1039.6 508.1 L1041.5 508.0 L1043.5 507.8 L1045.5 507.7 L1047.5 507.5 L1049.5 507.4 L1051.5 507.2 L1053.5 507.0 L1055.5 506.9 L1057.5 506.7 L1059.5 506.5 L1061.5 506.4 L1063.5 506.2 L1065.5 506.0 L1067.4 505.9 L1069.4 505.7 L1071.4 505.5 L1073.4 505.3 L1075.4 505.2 L1077.4 505.0 L1079.4 504.8 L1081.4 504.6 L1083.4 504.4 L1085.4 504.2 L1087.4 504.1 L1089.4 503.9 L1091.4 503.7 L1093.3 503.5 L1095.3 503.3 L1097.3 503.1 L1099.3 502.9 L1101.3 502.7 L1103.3 502.5 L1105.3 502.3 L1107.3 502.1 L1109.3 501.9 L1111.3 501.7 L1113.3 501.5 L1115.2 501.3 L1117.2 501.1 L1119.2 500.9 L1121.2 500.7 L1123.2 500.5 L1125.2 500.3 L1127.2 500.1 L1129.2 499.9 L1131.2 499.7 L1133.2 499.5 L1135.1 499.3 L1137.1 499.1 L1139.1 498.9 L1141.1 498.7 L1143.1 498.5 L1145.1 498.2 L1147.1 498.0 L1149.1 497.8 L1151.1 497.6 L1153.1 497.4 L1155.0 497.2 L1157.0 497.0 L1159.0 496.7 L1161.0 496.5 L1163.0 496.3 L1165.0 496.1 L1167.0 495.9 L1169.0 495.7 L1171.0 495.5 L1172.9 495.2 L1174.9 495.0 L1176.9 494.8 L1178.9 494.6 L1180.9 494.4 L1182.9 494.1 L1184.9 493.9 L1186.9 493.7 L1188.9 493.5 L1190.8 493.3 L1192.8 493.1 L1194.8 492.8 L1196.8 492.6 L1198.8 492.4 L1200.8 492.2 L1202.8 492.0 L1204.8 491.7 L1206.8 491.5 L1208.7 491.3 L1210.7 491.1 L1212.7 490.9 L1214.7 490.6 L1216.7 490.4 L1218.7 490.2 L1220.7 490.0 L1222.7 489.8 L1224.6 489.5 L1226.6 489.3 L1228.6 489.1 L1230.6 488.9 L1232.6 488.6 L1234.6 488.4 L1236.6 488.2 L1238.6 488.0 L1240.5 487.8 L1242.5 487.5 L1244.5 487.3 L1246.5 487.1 L1248.5 486.9 L1250.5 486.6 L1252.5 486.4 L1254.5 486.2 L1256.4 486.0 L1258.4 485.8 L1260.4 485.5 L1262.4 485.3 L1264.4 485.1 L1266.4 484.9 L1268.4 484.7 L1270.4 484.4 L1272.4 484.2 L1274.3 484.0 L1276.3 483.8 L1278.3 483.5 L1280.3 483.3 L1282.3 483.1 L1284.3 482.9 L1286.3 482.7 L1288.3 482.4 L1290.2 482.2 L1292.2 482.0 L1294.2 481.8 L1296.2 481.6 L1298.2 481.3 L1300.2 481.1 L1302.2 480.9 L1304.2 480.7 L1306.1 480.5 L1308.1 480.2 L1310.1 480.0 L1312.1 479.8 L1314.1 479.6 L1316.1 479.4 L1318.1 479.1 L1320.1 478.9 L1322.0 478.7 L1324.0 478.5 L1326.0 478.3 L1328.0 478.0 L1330.0 477.8 L1332.0 477.6 L1334.0 477.4 L1336.0 477.2 L1337.9 477.0 L1339.9 476.7 L1341.9 476.5 L1343.9 476.3 L1345.9 476.1 L1347.9 475.9 L1349.9 475.7 L1351.9 475.4 L1353.8 475.2 L1355.8 475.0 L1357.8 474.8 L1359.8 474.6 L1361.8 474.4 L1363.8 474.2 L1365.8 473.9 L1367.8 473.7 L1369.7 473.5 L1371.7 473.3 L1373.7 473.1 L1375.7 472.9 L1377.7 472.7 L1379.7 472.5 L1381.7 472.2 L1383.7 472.0 L1385.7 471.8 L1387.6 471.6 L1389.6 471.4 L1391.6 471.2 L1393.6 471.0 L1395.6 470.8 L1397.6 470.6 L1399.6 470.4 L1401.6 470.2 L1403.5 469.9 L1405.5 469.7 L1407.5 469.5 L1409.5 469.3 L1411.5 469.1 L1413.5 468.9 L1415.5 468.7 L1417.5 468.5 L1419.5 468.3 L1421.5 468.1 L1423.4 467.9 L1425.4 467.7 L1427.4 467.5 L1429.4 467.3 L1431.4 467.1 L1433.4 466.9 L1435.4 466.7 L1437.4 466.5 L1439.4 466.3 L1441.3 466.1 L1443.3 465.9 L1445.3 465.7 L1447.3 465.5 L1449.3 465.3 L1451.3 465.1 L1453.3 464.9 L1455.3 464.7 L1457.3 464.5 L1459.3 464.4 L1461.2 464.2 L1463.2 464.0 L1465.2 463.8 L1467.2 463.6 L1469.2 463.4 L1471.2 463.2 L1473.2 463.0 L1475.2 462.8 L1477.2 462.6 L1479.2 462.5 L1481.2 462.3 L1483.1 462.1 L1485.1 461.9 L1487.1 461.7 L1489.1 461.5 L1491.1 461.4 L1493.1 461.2 L1495.1 461.0 L1497.1 460.8 L1499.1 460.6 L1501.1 460.4 L1503.1 460.3 L1505.1 460.1 L1507.1 459.9 L1509.0 459.7 L1511.0 459.6 L1513.0 459.4 L1515.0 459.2 L1517.0 459.0 L1519.0 458.9 L1521.0 458.7 L1523.0 458.5 L1525.0 458.4 L1527.0 458.2 L1529.0 458.0 L1531.0 457.8 L1533.0 457.7 L1535.0 457.5 L1536.9 457.3 L1538.9 457.2 L1540.9 457.0 L1542.9 456.8 L1544.9 456.7 L1546.9 456.5 L1548.9 456.4 L1550.9 456.2 L1552.9 456.0 L1554.9 455.9 L1556.9 455.7 L1558.9 455.6 L1560.9 455.4 L1562.9 455.3 L1564.9 455.1 L1566.9 454.9 L1568.9 454.8 L1570.9 454.6 L1572.9 454.5 L1574.8 454.3 L1576.0 454.3" stroke="#ff80ff"/>
<path d="M309.3 606.0 L309.5 604.0 L309.7 601.9 L309.8 599.9 L310.0 597.8 L310.2 595.8 L310.3 593.8 L310.5 591.7 L310.6 589.7 L310.8 587.7 L310.9 585.6 L311.1 583.6 L311.2 581.6 L311.4 579.6 L311.5 577.5 L311.6 575.5 L311.8 573.5 L311.9 571.5 L312.0 569.5 L312.1 567.4 L312.2 565.4 L312.3 563.4 L312.4 561.4 L312.5 559.4 L312.6 557.4 L312.7 555.4 L312.8 553.4 L312.9 551.4 L313.0 549.4 L313.1 547.4 L313.2 545.4 L313.3 543.4 L313.4 541.4 L313.5 539.4 L313.5 537.4 L313.6 535.4 L313.7 533.4 L313.8 531.4 L313.8 529.4 L313.9 527.4 L314.0 525.4 L314.0 523.4 L314.1 521.5 L314.2 519.5 L314.2 517.5 L314.3 515.5 L314.4 513.5 L314.4 511.5 L314.5 509.6 L314.6 507.6 L314.6 505.6 L314.7 503.6 L314.7 501.6 L314.8 499.7 L314.9 497.7 L314.9 495.7 L315.0 493.7 L315.0 491.8 L315.1 489.8 L315.2 487.8 L315.2 485.8 L315.3 483.9 L315.3 481.9 L315.4 479.9 L315.5 477.9 L315.5 476.0 L315.6 474.0 L315.7 472.0 L315.7 470.0 L315.8 468.1 L315.9 466.1 L315.9 464.1 L316.0 462.2 L316.1 460.2 L316.2 458.2 L316.3 456.3 L316.3 454.3 L316.4 452.3 L316.5 450.3 L316.6 448.4 L316.7 446.4 L316.8 444.4 L316.9 442.5 L316.9 440.5 L317.0 438.5 L317.1 436.5 L317.3 434.6 L317.4 432.6 L317.5 430.6 L317.6 428.6 L317.7 426.7 L317.8 424.7 L317.9 422.7 L318.1 420.7 L318.2 418.8 L318.3 416.8 L318.4 414.8 L318.6 412.8 L318.7 410.9 L318.9 408.9 L319.0 406.9 L319.2 404.9 L319.3 402.9 L319.5 401.0 L319.7 399.0 L319.8 397.0 L320.0 395.0 L320.2 393.0 L320.4 391.0 L320.6 389.1 L320.7 387.1 L320.9 385.1 L321.2 383.1 L321.4 381.1 L321.6 379.1 L321.8 377.1 L322.0 375.1 L322.2 373.1 L322.5 371.1 L322.7 369.1 L323.0 367.1 L323.2 365.1 L323.5 363.1 L323.7 361.1 L324.0 359.1 L324.3 357.1 L324.6 355.1 L324.9 353.1 L325.1 351.1 L325.4 349.1 L325.8 347.1 L326.1 345.1 L326.4 343.1 L326.7 341.0 L327.0 339.0 L327.4 337.0 L327.7 335.0 L328.1 333.0 L328.5 330.9 L328.8 328.9 L329.2 326.9 L329.6 324.8 L330.0 322.8 L330.4 320.8 L330.8 318.7 L331.2 316.7 L331.6 314.7 L332.1 312.6 L332.5 310.6 L332.9 308.5 L333.4 306.5 L333.9 304.4 L334.3 302.4 L334.9 300.4 L335.4 298.4 L335.9 296.4 L336.5 294.5 L337.2 292.5 L337.9 290.7 L338.6 288.9 L339.4 287.1 L340.2 285.4 L341.1 283.7 L342.1 282.2 L343.1 280.7 L344.3 279.3 L345.5 278.0 L346.8 276.8 L348.2 275.7 L349.7 274.7 L351.3 273.8 L353.0 273.0 L354.8 272.4 L356.7 271.9 L358.6 271.5 L360.6 271.3 L362.6 271.2 L364.6 271.3 L366.6 271.6 L368.5 272.1 L370.3 272.7 L372.1 273.6 L373.9 274.5 L375.6 275.6 L377.2 276.8 L378.8 278.0 L380.5 279.3 L382.1 280.5 L383.7 281.8 L385.3 283.0 L386.9 284.3 L388.4 285.5 L390.0 286.8 L391.6 288.1 L393.1 289.4 L394.7 290.7 L396.3 292.0 L397.8 293.3 L399.4 294.6 L400.9 295.9 L402.4 297.2 L404.0 298.5 L405.5 299.8 L407.0 301.1 L408.5 302.4 L410.0 303.8 L411.5 305.1 L413.0 306.4 L414.5 307.8 L416.0 309.1 L417.5 310.4 L419.0 311.8 L420.5 313.1 L422.0 314.5 L423.5 315.8 L424.9 317.2 L426.4 318.5 L427.9 319.9 L429.4 321.3 L430.8 322.6 L432.3 324.0 L433.8 325.3 L435.2 326.7 L436.7 328.1 L438.2 329.4 L439.6 330.8 L441.1 332.1 L442.5 333.5 L444.0 334.9 L445.5 336.2 L446.9 337.6 L448.4 339.0 L449.8 340.3 L451.3 341.7 L452.7 343.1 L454.2 344.4 L455.6 345.8 L457.1 347.1 L458.6 348.5 L460.0 349.9 L461.5 351.2 L462.9 352.6 L464.4 353.9 L465.9 355.3 L467.3 356.6 L468.8 358.0 L470.3 359.3 L471.8 360.7 L473.2 362.0 L474.7 363.3 L476.2 364.7 L477.7 366.0 L479.2 367.3 L480.7 368.6 L482.1 370.0 L483.6 371.3 L485.1 372.6 L486.6 373.9 L488.1 375.2 L489.7 376.5 L491.2 377.8 L492.7 379.1 L494.2 380.4 L495.7 381.7 L497.3 383.0 L498.8 384.2 L500.4 385.5 L501.9 386.8 L503.4 388.0 L505.0 389.3 L506.6 390.6 L508.1 391.8 L509.7 393.0 L511.3 394.3 L512.8 395.5 L514.4 396.7 L516.0 398.0 L517.6 399.2 L519.2 400.4 L520.8 401.6 L522.4 402.8 L524.0 404.0 L525.6 405.2 L527.2 406.4 L528.8 407.5 L530.5 408.7 L532.1 409.9 L533.7 411.0 L535.4 412.2 L537.0 413.3 L538.6 414.5 L540.3 415.6 L541.9 416.7 L543.6 417.8 L545.3 419.0 L546.9 420.1 L548.6 421.2 L550.3 422.2 L552.0 423.3 L553.7 424.4 L555.4 425.5 L557.1 426.5 L558.8 427.6 L560.5 428.7 L562.2 429.7 L563.9 430.7 L565.6 431.8 L567.3 432.8 L569.1 433.8 L570.8 434.8 L572.5 435.8 L574.3 436.8 L576.0 437.8 L577.8 438.7 L579.5 439.7 L581.3 440.7 L583.1 441.6 L584.8 442.6 L586.6 443.5 L588.4 444.4 L590.2 445.3 L591.9 446.3 L593.7 447.2 L595.5 448.1 L597.3 448.9 L599.1 449.8 L600.9 450.7 L602.7 451.6 L604.5 452.4 L606.4 453.3 L608.2 454.1 L610.0 455.0 L611.8 455.8 L613.7 456.6 L615.5 457.4 L617.3 458.2 L619.2 459.0 L621.0 459.8 L622.9 460.6 L624.7 461.4 L626.6 462.1 L628.4 462.9 L630.3 463.6 L632.1 464.4 L634.0 465.1 L635.9 465.8 L637.7 466.6 L639.6 467.3 L641.5 468.0 L643.3 468.7 L645.2 469.4 L647.1 470.1 L649.0 470.7 L650.9 471.4 L652.8 472.1 L654.6 472.7 L656.5 473.4 L658.4 474.0 L660.3 474.6 L662.2 475.3 L664.1 475.9 L666.0 476.5 L667.9 477.1 L669.8 477.7 L671.7 478.3 L673.6 478.9 L675.6 479.4 L677.5 480.0 L679.4 480.6 L681.3 481.1 L683.2 481.7 L685.1 482.2 L687.1 482.7 L689.0 483.3 L690.9 483.8 L692.8 484.3 L694.8 484.8 L696.7 485.3 L698.6 485.8 L700.6 486.3 L702.5 486.8 L704.4 487.2 L706.4 487.7 L708.3 488.2 L710.2 488.6 L712.2 489.1 L714.1 489.5 L716.1 489.9 L718.0 490.4 L720.0 490.8 L721.9 491.2 L723.9 491.6 L725.8 492.0 L727.8 492.4 L729.7 492.8 L731.7 493.2 L733.7 493.6 L735.6 494.0 L737.6 494.3 L739.5 494.7 L741.5 495.0 L743.5 495.4 L745.4 495.7 L747.4 496.1 L749.4 496.4 L751.3 496.7 L753.3 497.1 L755.3 497.4 L757.2 497.7 L759.2 498.0 L761.2 498.3 L763.2 498.6 L765.1 498.9 L767.1 499.2 L769.1 499.4 L771.1 499.7 L773.1 500.0 L775.0 500.2 L777.0 500.5 L779.0 500.7 L781.0 501.0 L783.0 501.2 L785.0 501.5 L786.9 501.7 L788.9 501.9 L790.9 502.1 L792.9 502.4 L794.9 502.6 L796.9 502.8 L798.9 503.0 L800.9 503.2 L802.9 503.4 L804.9 503.6 L806.9 503.7 L808.8 503.9 L810.8 504.1 L812.8 504.3 L814.8 504.4 L816.8 504.6 L818.8 504.8 L820.8 504.9 L822.8 505.1 L824.8 505.2 L826.8 505.3 L828.8 505.5 L830.8 505.6 L832.8 505.7 L834.8 505.8 L836.8 506.0 L838.8 506.1 L840.8 506.2 L842.8 506.3 L844.8 506.4 L846.8 506.5 L848.8 506.6 L850.8 506.7 L852.8 506.8 L854.8 506.8 L856.9 506.9 L858.9 507.0 L860.9 507.1 L862.9 507.1 L864.9 507.2 L866.9 507.3 L868.9 507.3 L870.9 507.4 L872.9 507.4 L874.9 507.5 L876.9 507.5 L878.9 507.6 L880.9 507.6 L882.9 507.6 L884.9 507.7 L886.9 507.7 L888.9 507.7 L890.9 507.7 L892.9 507.7 L894.9 507.8 L896.9 507.8 L898.9 507.8 L900.9 507.8 L903.0 507.8 L905.0 507.8 L907.0 507.8 L909.0 507.8 L911.0 507.8 L913.0 507.7 L915.0 507.7 L917.0 507.7 L919.0 507.7 L921.0 507.7 L923.0 507.6 L925.0 507.6 L927.0 507.6 L929.0 507.5 L931.0 507.5 L933.0 507.5 L935.0 507.4 L937.0 507.4 L939.0 507.3 L941.0 507.3 L943.0 507.2 L945.0 507.2 L947.0 507.1 L949.0 507.1 L951.0 507.0 L953.0 506.9 L955.0 506.9 L957.0 506.8 L959.0 506.7 L961.0 506.6 L963.0 506.6 L965.0 506.5 L967.0 506.4 L968.9 506.3 L970.9 506.2 L972.9 506.1 L974.9 506.1 L976.9 506.0 L978.9 505.9 L980.9 505.8 L982.9 505.7 L984.9 505.6 L986.9 505.5 L988.9 505.4 L990.9 505.3 L992.9 505.1 L994.9 505.0 L996.9 504.9 L998.9 504.8 L1000.9 504.7 L1002.9 504.6 L1004.9 504.4 L1006.9 504.3 L1008.9 504.2 L1010.9 504.1 L1012.8 503.9 L1014.8 503.8 L1016.8 503.7 L1018.8 503.5 L1020.8 503.4 L1022.8 503.3 L1024.8 503.1 L1026.8 503.0 L1028.8 502.8 L1030.8 502.7 L1032.8 502.5 L1034.8 502.4 L1036.8 502.2 L1038.8 502.1 L1040.8 501.9 L1042.7 501.8 L1044.7 501.6 L1046.7 501.5 L1048.7 501.3 L1050.7 501.1 L1052.7 501.0 L1054.7 500.8 L1056.7 500.6 L1058.7 500.5 L1060.7 500.3 L1062.7 500.1 L1064.7 500.0 L1066.6 499.8 L1068.6 499.6 L1070.6 499.4 L1072.6 499.3 L1074.6 499.1 L1076.6 498.9 L1078.6 498.7 L1080.6 498.5 L1082.6 498.4 L1084.6 498.2 L1086.5 498.0 L1088.5 497.8 L1090.5 497.6 L1092.5 497.4 L1094.5 497.2 L1096.5 497.1 L1098.5 496.9 L1100.5 496.7 L1102.5 496.5 L1104.5 496.3 L1106.4 496.1 L1108.4 495.9 L1110.4 495.7 L1112.4 495.5 L1114.4 495.3 L1116.4 495.1 L1118.4 494.9 L1120.4 494.7 L1122.4 494.5 L1124.3 494.3 L1126.3 494.1 L1128.3 493.9 L1130.3 493.7 L1132.3 493.5 L1134.3 493.3 L1136.3 493.1 L1138.3 492.8 L1140.3 492.6 L1142.2 492.4 L1144.2 492.2 L1146.2 492.0 L1148.2 491.8 L1150.2 491.6 L1152.2 491.4 L1154.2 491.2 L1156.2 491.0 L1158.2 490.7 L1160.1 490.5 L1162.1 490.3 L1164.1 490.1 L1166.1 489.9 L1168.1 489.7 L1170.1 489.5 L1172.1 489.2 L1174.1 489.0 L1176.0 488.8 L1178.0 488.6 L1180.0 488.4 L1182.0 488.2 L1184.0 487.9 L1186.0 487.7 L1188.0 487.5 L1190.0 487.3 L1192.0 487.1 L1193.9 486.9 L1195.9 486.6 L1197.9 486.4 L1199.9 486.2 L1201.9 486.0 L1203.9 485.8 L1205.9 485.5 L1207.9 485.3 L1209.8 485.1 L1211.8 484.9 L1213.8 484.7 L1215.8 484.4 L1217.8 484.2 L1219.8 484.0 L1221.8 483.8 L1223.8 483.6 L1225.7 483.3 L1227.7 483.1 L1229.7 482.9 L1231.7 482.7 L1233.7 482.4 L1235.7 482.2 L1237.7 482.0 L1239.7 481.8 L1241.7 481.6 L1243.6 481.3 L1245.6 481.1 L1247.6 480.9 L1249.6 480.7 L1251.6 480.4 L1253.6 480.2 L1255.6 480.0 L1257.6 479.8 L1259.5 479.5 L1261.5 479.3 L1263.5 479.1 L1265.5 478.9 L1267.5 478.7 L1269.5 478.4 L1271.5 478.2 L1273.5 478.0 L1275.4 477.8 L1277.4 477.5 L1279.4 477.3 L1281.4 477.1 L1283.4 476.9 L1285.4 476.6 L1287.4 476.4 L1289.4 476.2 L1291.3 476.0 L1293.3 475.7 L1295.3 475.5 L1297.3 475.3 L1299.3 475.1 L1301.3 474.8 L1303.3 474.6 L1305.3 474.4 L1307.3 474.2 L1309.2 473.9 L1311.2 473.7 L1313.2 473.5 L1315.2 473.3 L1317.2 473.1 L1319.2 472.8 L1321.2 472.6 L1323.2 472.4 L1325.1 472.2 L1327.1 471.9 L1329.1 471.7 L1331.1 471.5 L1333.1 471.3 L1335.1 471.0 L1337.1 470.8 L1339.1 470.6 L1341.0 470.4 L1343.0 470.2 L1345.0 469.9 L1347.0 469.7 L1349.0 469.5 L1351.0 469.3 L1353.0 469.0 L1355.0 468.8 L1357.0 468.6 L1358.9 468.4 L1360.9 468.2 L1362.9 467.9 L1364.9 467.7 L1366.9 467.5 L1368.9 467.3 L1370.9 467.1 L1372.9 466.8 L1374.8 466.6 L1376.8 466.4 L1378.8 466.2 L1380.8 466.0 L1382.8 465.7 L1384.8 465.5 L1386.8 465.3 L1388.8 465.1 L1390.8 464.9 L1392.7 464.6 L1394.7 464.4 L1396.7 464.2 L1398.7 464.0 L1400.7 463.8 L1402.7 463.6 L1404.7 463.3 L1406.7 463.1 L1408.6 462.9 L1410.6 462.7 L1412.6 462.5 L1414.6 462.3 L1416.6 462.0 L1418.6 461.8 L1420.6 461.6 L1422.6 461.4 L1424.6 461.2 L1426.5 461.0 L1428.5 460.8 L1430.5 460.5 L1432.5 460.3 L1434.5 460.1 L1436.5 459.9 L1438.5 459.7 L1440.5 459.5 L1442.5 459.3 L1444.4 459.1 L1446.4 458.9 L1448.4 458.6 L1450.4 458.4 L1452.4 458.2 L1454.4 458.0 L1456.4 457.8 L1458.4 457.6 L1460.4 457.4 L1462.3 457.2 L1464.3 457.0 L1466.3 456.8 L1468.3 456.6 L1470.3 456.4 L1472.3 456.2 L1474.3 456.0 L1476.3 455.8 L1478.3 455.6 L1480.3 455.3 L1482.2 455.1 L1484.2 454.9 L1486.2 454.7 L1488.2 454.5 L1490.2 454.3 L1492.2 454.1 L1494.2 453.9 L1496.2 453.7 L1498.2 453.5 L1500.2 453.3 L1502.1 453.1 L1504.1 452.9 L1506.1 452.8 L1508.1 452.6 L1510.1 452.4 L1512.1 452.2 L1514.1 452.0 L1516.1 451.8 L1518.1 451.6 L1520.1 451.4 L1522.0 451.2 L1524.0 451.0 L1526.0 450.8 L1528.0 450.6 L1530.0 450.4 L1532.0 450.2 L1534.0 450.1 L1536.0 449.9 L1538.0 449.7 L1540.0 449.5 L1542.0 449.3 L1543.9 449.1 L1545.9 448.9 L1547.9 448.7 L1549.9 448.6 L1551.9 448.4 L1553.9 448.2 L1555.9 448.0 L1557.9 447.8 L1559.9 447.7 L1561.9 447.5 L1563.9 447.3 L1565.8 447.1 L1567.8 446.9 L1569.8 446.8 L1571.8 446.6 L1573.8 446.4 L1575.8 446.2 L1576.0 446.2" stroke="#ff8214"/>
<path d="M305.3 421.0 L305.6 418.8 L305.9 416.7 L306.1 414.6 L306.4 412.5 L306.6 410.5 L306.9 408.5 L307.1 406.5 L307.3 404.6 L307.5 402.6 L307.8 400.7 L308.0 398.8 L308.2 396.9 L308.4 395.1 L308.6 393.2 L308.8 391.3 L308.9 389.5 L309.1 387.6 L309.3 385.7 L309.5 383.8 L309.7 381.9 L309.8 380.0 L310.0 378.0 L310.2 376.1 L310.3 374.1 L310.5 372.1 L310.7 370.0 L310.8 367.9 L311.0 365.8 L311.2 363.6 L311.4 361.5 L311.6 359.3 L311.8 357.1 L312.0 354.9 L312.3 352.7 L312.6 350.5 L313.0 348.3 L313.4 346.2 L313.8 344.1 L314.3 342.1 L314.9 340.1 L315.6 338.2 L316.3 336.4 L317.1 334.6 L318.0 333.0 L319.0 331.4 L320.1 330.0 L321.3 328.6 L322.6 327.4 L324.0 326.4 L325.5 325.5 L327.0 324.9 L328.6 324.4 L330.3 324.2 L332.0 324.2 L333.8 324.3 L335.5 324.7 L337.4 325.2 L339.2 325.9 L341.0 326.7 L342.8 327.6 L344.7 328.6 L346.5 329.8 L348.2 331.0 L350.0 332.2 L351.7 333.5 L353.4 334.9 L355.0 336.2 L356.5 337.6 L358.0 339.0 L359.5 340.5 L361.0 341.9 L362.4 343.3 L363.8 344.8 L365.2 346.2 L366.5 347.7 L367.9 349.1 L369.3 350.6 L370.6 352.0 L372.0 353.5 L373.4 354.9 L374.8 356.3 L376.2 357.7 L377.6 359.1 L379.0 360.5 L380.4 361.9 L381.9 363.3 L383.4 364.6 L384.8 366.0 L386.3 367.3 L387.8 368.6 L389.3 370.0 L390.8 371.3 L392.3 372.6 L393.8 373.9 L395.4 375.1 L396.9 376.4 L398.5 377.7 L400.0 378.9 L401.6 380.2 L403.2 381.4 L404.8 382.6 L406.3 383.9 L407.9 385.1 L409.5 386.3 L411.1 387.5 L412.8 388.6 L414.4 389.8 L416.0 391.0 L417.6 392.1 L419.3 393.3 L420.9 394.4 L422.6 395.5 L424.2 396.7 L425.9 397.8 L427.5 398.9 L429.2 400.0 L430.9 401.1 L432.5 402.2 L434.2 403.2 L435.9 404.3 L437.6 405.4 L439.3 406.4 L441.0 407.5 L442.7 408.5 L444.4 409.6 L446.1 410.6 L447.8 411.6 L449.5 412.7 L451.2 413.7 L453.0 414.7 L454.7 415.7 L456.4 416.7 L458.2 417.7 L459.9 418.7 L461.6 419.7 L463.4 420.7 L465.1 421.7 L466.9 422.7 L468.6 423.6 L470.4 424.6 L472.1 425.6 L473.9 426.6 L475.7 427.5 L477.4 428.5 L479.2 429.4 L480.9 430.4 L482.7 431.4 L484.5 432.3 L486.3 433.3 L488.1 434.2 L489.8 435.2 L491.6 436.1 L493.4 437.0 L495.2 437.9 L497.0 438.8 L498.8 439.7 L500.6 440.6 L502.4 441.4 L504.3 442.2 L506.1 443.1 L507.9 443.9 L509.8 444.6 L511.6 445.4 L513.5 446.1 L515.3 446.8 L517.2 447.5 L519.1 448.2 L521.0 448.8 L522.9 449.4 L524.7 450.0 L526.7 450.6 L528.6 451.2 L530.5 451.7 L532.4 452.3 L534.3 452.8 L536.2 453.3 L538.2 453.8 L540.1 454.3 L542.0 454.8 L544.0 455.2 L545.9 455.7 L547.9 456.1 L549.8 456.6 L551.7 457.0 L553.7 457.5 L555.6 457.9 L557.6 458.4 L559.5 458.8 L561.5 459.2 L563.4 459.7 L565.4 460.1 L567.3 460.5 L569.3 460.9 L571.3 461.3 L573.2 461.7 L575.2 462.1 L577.1 462.5 L579.1 462.9 L581.1 463.3 L583.0 463.7 L585.0 464.0 L586.9 464.4 L588.9 464.8 L590.9 465.2 L592.8 465.5 L594.8 465.9 L596.8 466.2 L598.8 466.6 L600.7 466.9 L602.7 467.3 L604.7 467.6 L606.6 467.9 L608.6 468.3 L610.6 468.6 L612.6 468.9 L614.5 469.2 L616.5 469.5 L618.5 469.8 L620.5 470.1 L622.5 470.4 L624.4 470.7 L626.4 471.0 L628.4 471.3 L630.4 471.6 L632.4 471.9 L634.4 472.1 L636.3 472.4 L638.3 472.7 L640.3 472.9 L642.3 473.2 L644.3 473.5 L646.3 473.7 L648.3 473.9 L650.3 474.2 L652.3 474.4 L654.2 474.6 L656.2 474.9 L658.2 475.1 L660.2 475.3 L662.2 475.5 L664.2 475.7 L666.2 475.9 L668.2 476.1 L670.2 476.3 L672.2 476.5 L674.2 476.7 L676.2 476.9 L678.2 477.1 L680.2 477.3 L682.2 477.4 L684.2 477.6 L686.1 477.8 L688.1 477.9 L690.1 478.1 L692.1 478.2 L694.1 478.4 L696.1 478.5 L698.1 478.6 L700.1 478.8 L702.1 478.9 L704.1 479.0 L706.1 479.1 L708.1 479.3 L710.1 479.4 L712.1 479.5 L714.1 479.6 L716.1 479.7 L718.1 479.8 L720.1 479.8 L722.1 479.9 L724.1 480.0 L726.1 480.1 L728.1 480.2 L730.1 480.2 L732.1 480.3 L734.1 480.3 L736.1 480.4 L738.1 480.4 L740.1 480.5 L742.1 480.5 L744.1 480.6 L746.1 480.6 L748.1 480.6 L750.1 480.6 L752.1 480.7 L754.1 480.7 L756.1 480.7 L758.1 480.7 L760.1 480.7 L762.1 480.7 L764.1 480.7 L766.1 480.7 L768.1 480.7 L770.1 480.7 L772.1 480.6 L774.1 480.6 L776.1 480.6 L778.1 480.6 L780.1 480.5 L782.1 480.5 L784.1 480.4 L786.1 480.4 L788.0 480.3 L790.0 480.3 L792.0 480.2 L794.0 480.2 L796.0 480.1 L798.0 480.1 L800.0 480.0 L802.0 479.9 L804.0 479.8 L806.0 479.8 L808.0 479.7 L810.0 479.6 L812.0 479.5 L814.0 479.4 L816.0 479.3 L818.0 479.2 L820.0 479.1 L822.0 479.0 L824.0 478.9 L826.0 478.8 L828.0 478.7 L830.0 478.6 L831.9 478.5 L833.9 478.4 L835.9 478.3 L837.9 478.1 L839.9 478.0 L841.9 477.9 L843.9 477.8 L845.9 477.6 L847.9 477.5 L849.9 477.4 L851.9 477.2 L853.9 477.1 L855.9 476.9 L857.9 476.8 L859.9 476.6 L861.9 476.5 L863.9 476.4 L865.8 476.2 L867.8 476.0 L869.8 475.9 L871.8 475.7 L873.8 475.6 L875.8 475.4 L877.8 475.3 L879.8 475.1 L881.8 474.9 L883.8 474.8 L885.8 474.6 L887.8 474.4 L889.8 474.3 L891.8 474.1 L893.8 473.9 L895.7 473.7 L897.7 473.6 L899.7 473.4 L901.7 473.2 L903.7 473.0 L905.7 472.8 L907.7 472.7 L909.7 472.5 L911.7 472.3 L913.7 472.1 L915.7 471.9 L917.7 471.7 L919.7 471.5 L921.7 471.4 L923.6 471.2 L925.6 471.0 L927.6 470.8 L929.6 470.6 L931.6 470.4 L933.6 470.2 L935.6 470.0 L937.6 469.8 L939.6 469.6 L941.6 469.4 L943.6 469.3 L945.6 469.1 L947.6 468.9 L949.5 468.7 L951.5 468.5 L953.5 468.3 L955.5 468.1 L957.5 467.9 L959.5 467.7 L961.5 467.5 L963.5 467.3 L965.5 467.1 L967.5 466.9 L969.5 466.7 L971.5 466.5 L973.5 466.3 L975.4 466.1 L977.4 465.9 L979.4 465.7 L981.4 465.6 L983.4 465.4 L985.4 465.2 L987.4 465.0 L989.4 464.8 L991.4 464.6 L993.4 464.4 L995.4 464.2 L997.4 464.0 L999.4 463.8 L1001.3 463.7 L1003.3 463.5 L1005.3 463.3 L1007.3 463.1 L1009.3 462.9 L1011.3 462.7 L1013.3 462.5 L1015.3 462.4 L1017.3 462.2 L1019.3 462.0 L1021.3 461.8 L1023.3 461.6 L1025.3 461.5 L1027.2 461.3 L1029.2 461.1 L1031.2 460.9 L1033.2 460.7 L1035.2 460.6 L1037.2 460.4 L1039.2 460.2 L1041.2 460.0 L1043.2 459.9 L1045.2 459.7 L1047.2 459.5 L1049.2 459.3 L1051.2 459.2 L1053.1 459.0 L1055.1 458.8 L1057.1 458.6 L1059.1 458.5 L1061.1 458.3 L1063.1 458.1 L1065.1 458.0 L1067.1 457.8 L1069.1 457.6 L1071.1 457.4 L1073.1 457.3 L1075.1 457.1 L1077.0 456.9 L1079.0 456.7 L1081.0 456.6 L1083.0 456.4 L1085.0 456.2 L1087.0 456.0 L1089.0 455.9 L1091.0 455.7 L1093.0 455.5 L1095.0 455.3 L1097.0 455.2 L1099.0 455.0 L1100.9 454.8 L1102.9 454.6 L1104.9 454.5 L1106.9 454.3 L1108.9 454.1 L1110.9 453.9 L1112.9 453.8 L1114.9 453.6 L1116.9 453.4 L1118.9 453.2 L1120.9 453.0 L1122.8 452.9 L1124.8 452.7 L1126.8 452.5 L1128.8 452.3 L1130.8 452.1 L1132.8 451.9 L1134.8 451.8 L1136.8 451.6 L1138.8 451.4 L1140.8 451.2 L1142.7 451.0 L1144.7 450.8 L1146.7 450.6 L1148.7 450.4 L1150.7 450.3 L1152.7 450.1 L1154.7 449.9 L1156.7 449.7 L1158.7 449.5 L1160.6 449.3 L1162.6 449.1 L1164.6 448.9 L1166.6 448.7 L1168.6 448.5 L1170.6 448.3 L1172.6 448.1 L1174.6 447.9 L1176.6 447.7 L1178.5 447.5 L1180.5 447.3 L1182.5 447.1 L1184.5 446.9 L1186.5 446.6 L1188.5 446.4 L1190.5 446.2 L1192.5 446.0 L1194.4 445.8 L1196.4 445.6 L1198.4 445.4 L1200.4 445.1 L1202.4 444.9 L1204.4 444.7 L1206.4 444.5 L1208.3 444.2 L1210.3 444.0 L1212.3 443.8 L1214.3 443.6 L1216.3 443.3 L1218.3 443.1 L1220.3 442.9 L1222.2 442.6 L1224.2 442.4 L1226.2 442.1 L1228.2 441.9 L1230.2 441.7 L1232.2 441.4 L1234.2 441.2 L1236.1 440.9 L1238.1 440.7 L1240.1 440.5 L1242.1 440.2 L1244.1 440.0 L1246.1 439.7 L1248.1 439.5 L1250.0 439.2 L1252.0 439.0 L1254.0 438.7 L1256.0 438.5 L1258.0 438.2 L1260.0 438.0 L1261.9 437.7 L1263.9 437.5 L1265.9 437.2 L1267.9 436.9 L1269.9 436.7 L1271.9 436.4 L1273.8 436.2 L1275.8 435.9 L1277.8 435.7 L1279.8 435.4 L1281.8 435.1 L1283.8 434.9 L1285.8 434.6 L1287.7 434.4 L1289.7 434.1 L1291.7 433.9 L1293.7 433.6 L1295.7 433.3 L1297.7 433.1 L1299.6 432.8 L1301.6 432.6 L1303.6 432.3 L1305.6 432.0 L1307.6 431.8 L1309.6 431.5 L1311.5 431.3 L1313.5 431.0 L1315.5 430.7 L1317.5 430.5 L1319.5 430.2 L1321.5 430.0 L1323.4 429.7 L1325.4 429.5 L1327.4 429.2 L1329.4 428.9 L1331.4 428.7 L1333.4 428.4 L1335.4 428.2 L1337.3 427.9 L1339.3 427.7 L1341.3 427.4 L1343.3 427.2 L1345.3 426.9 L1347.3 426.7 L1349.2 426.4 L1351.2 426.2 L1353.2 425.9 L1355.2 425.7 L1357.2 425.4 L1359.2 425.2 L1361.2 424.9 L1363.1 424.7 L1365.1 424.5 L1367.1 424.2 L1369.1 424.0 L1371.1 423.7 L1373.1 423.5 L1375.1 423.3 L1377.0 423.0 L1379.0 422.8 L1381.0 422.6 L1383.0 422.3 L1385.0 422.1 L1387.0 421.9 L1389.0 421.7 L1391.0 421.4 L1392.9 421.2 L1394.9 421.0 L1396.9 420.8 L1398.9 420.5 L1400.9 420.3 L1402.9 420.1 L1404.9 419.9 L1406.9 419.7 L1408.8 419.5 L1410.8 419.2 L1412.8 419.0 L1414.8 418.8 L1416.8 418.6 L1418.8 418.4 L1420.8 418.2 L1422.8 418.0 L1424.7 417.8 L1426.7 417.6 L1428.7 417.4 L1430.7 417.1 L1432.7 416.9 L1434.7 416.7 L1436.7 416.5 L1438.7 416.3 L1440.7 416.1 L1442.6 415.9 L1444.6 415.7 L1446.6 415.5 L1448.6 415.3 L1450.6 415.1 L1452.6 414.9 L1454.6 414.7 L1456.6 414.5 L1458.6 414.3 L1460.5 414.1 L1462.5 413.8 L1464.5 413.6 L1466.5 413.4 L1468.5 413.2 L1470.5 413.0 L1472.5 412.8 L1474.5 412.6 L1476.5 412.4 L1478.4 412.2 L1480.4 412.0 L1482.4 411.8 L1484.4 411.5 L1486.4 411.3 L1488.4 411.1 L1490.4 410.9 L1492.4 410.7 L1494.4 410.5 L1496.3 410.3 L1498.3 410.0 L1500.3 409.8 L1502.3 409.6 L1504.3 409.4 L1506.3 409.1 L1508.3 408.9 L1510.3 408.7 L1512.2 408.5 L1514.2 408.2 L1516.2 408.0 L1518.2 407.8 L1520.2 407.5 L1522.2 407.3 L1524.2 407.1 L1526.1 406.8 L1528.1 406.6 L1530.1 406.4 L1532.1 406.1 L1534.1 405.9 L1536.1 405.6 L1538.1 405.4 L1540.0 405.1 L1542.0 404.9 L1544.0 404.6 L1546.0 404.4 L1548.0 404.1 L1550.0 403.8 L1551.9 403.6 L1553.9 403.3 L1555.9 403.0 L1557.9 402.8 L1559.9 402.5 L1561.9 402.2 L1563.8 401.9 L1565.8 401.7 L1567.8 401.4 L1569.8 401.1 L1571.8 400.8 L1573.7 400.5 L1575.7 400.2 L1576.0 400.2" stroke="#940000"/>
<path d="M305.0 231.0 L307.0 231.1 L309.0 231.2 L311.0 231.2 L313.0 231.3 L315.0 231.3 L317.0 231.4 L319.0 231.4 L321.0 231.5 L323.0 231.5 L325.0 231.5 L327.0 231.6 L329.0 231.6 L331.0 231.6 L333.0 231.7 L335.0 231.7 L337.0 231.7 L339.0 231.7 L341.0 231.7 L343.0 231.7 L345.0 231.8 L347.0 231.8 L349.0 231.8 L351.0 231.8 L353.0 231.8 L355.0 231.8 L357.0 231.8 L359.0 231.8 L361.0 231.7 L363.0 231.7 L365.0 231.7 L367.0 231.7 L369.0 231.7 L371.0 231.7 L373.0 231.6 L375.0 231.6 L377.0 231.6 L379.0 231.6 L381.0 231.5 L383.0 231.5 L385.0 231.5 L387.0 231.4 L389.0 231.4 L391.0 231.4 L393.0 231.3 L395.0 231.3 L396.9 231.2 L398.9 231.2 L400.9 231.2 L402.9 231.1 L404.9 231.1 L406.9 231.0 L408.9 231.0 L410.9 230.9 L412.9 230.9 L414.9 230.8 L416.9 230.8 L418.9 230.7 L420.9 230.7 L422.9 230.6 L424.9 230.6 L426.9 230.5 L428.9 230.5 L430.9 230.4 L432.9 230.4 L434.9 230.3 L436.9 230.3 L438.9 230.2 L440.9 230.1 L442.9 230.1 L444.9 230.0 L446.9 230.0 L448.9 229.9 L450.9 229.9 L452.9 229.8 L454.9 229.8 L456.9 229.7 L458.9 229.7 L460.9 229.6 L462.9 229.5 L464.9 229.5 L466.9 229.4 L468.9 229.4 L470.8 229.3 L472.8 229.3 L474.8 229.2 L476.8 229.2 L478.8 229.1 L480.8 229.1 L482.8 229.1 L484.8 229.0 L486.8 229.0 L488.8 228.9 L490.8 228.9 L492.8 228.8 L494.8 228.8 L496.8 228.8 L498.8 228.7 L500.8 228.7 L502.8 228.6 L504.8 228.6 L506.8 228.6 L508.8 228.5 L510.8 228.5 L512.8 228.5 L514.8 228.4 L516.8 228.4 L518.8 228.4 L520.8 228.3 L522.8 228.3 L524.8 228.3 L526.8 228.2 L528.8 228.2 L530.8 228.2 L532.8 228.1 L534.8 228.1 L536.8 228.1 L538.8 228.1 L540.8 228.0 L542.8 228.0 L544.8 228.0 L546.8 228.0 L548.8 227.9 L550.8 227.9 L552.8 227.9 L554.8 227.9 L556.8 227.8 L558.8 227.8 L560.8 227.8 L562.8 227.8 L564.8 227.8 L566.8 227.7 L568.8 227.7 L570.8 227.7 L572.8 227.7 L574.8 227.7 L576.8 227.7 L578.8 227.6 L580.8 227.6 L582.8 227.6 L584.8 227.6 L586.8 227.6 L588.8 227.6 L590.8 227.5 L592.8 227.5 L594.8 227.5 L596.8 227.5 L598.8 227.5 L600.8 227.5 L602.8 227.5 L604.8 227.4 L606.8 227.4 L608.8 227.4 L610.8 227.4 L612.8 227.4 L614.8 227.4 L616.8 227.4 L618.8 227.4 L620.8 227.4 L622.8 227.3 L624.8 227.3 L626.8 227.3 L628.8 227.3 L630.8 227.3 L632.8 227.3 L634.8 227.3 L636.8 227.3 L638.8 227.3 L640.8 227.3 L642.8 227.2 L644.8 227.2 L646.8 227.2 L648.8 227.2 L650.8 227.2 L652.8 227.2 L654.8 227.2 L656.8 227.2 L658.8 227.2 L660.8 227.2 L662.8 227.2 L664.8 227.2 L666.8 227.2 L668.8 227.2 L670.8 227.1 L672.8 227.1 L674.8 227.1 L676.8 227.1 L678.8 227.1 L680.8 227.1 L682.8 227.1 L684.8 227.1 L686.8 227.1 L688.8 227.1 L690.8 227.1 L692.8 227.1 L694.8 227.1 L696.8 227.1 L698.8 227.1 L700.8 227.1 L702.8 227.1 L704.8 227.1 L706.8 227.1 L708.8 227.0 L710.8 227.0 L712.8 227.0 L714.8 227.0 L716.8 227.0 L718.8 227.0 L720.8 227.0 L722.8 227.0 L724.8 227.0 L726.8 227.0 L728.8 227.0 L730.8 227.0 L732.8 227.0 L734.8 227.0 L736.8 227.0 L738.8 227.0 L740.8 227.0 L742.8 227.0 L744.8 227.0 L746.8 227.0 L748.8 227.0 L750.8 227.0 L752.8 227.0 L754.8 227.0 L756.8 227.0 L758.8 226.9 L760.8 226.9 L762.8 226.9 L764.8 226.9 L766.8 226.9 L768.8 226.9 L770.8 226.9 L772.8 226.9 L774.8 226.9 L776.8 226.9 L778.8 226.9 L780.8 226.9 L782.8 226.9 L784.8 226.9 L786.8 226.9 L788.8 226.9 L790.8 226.9 L792.8 226.9 L794.8 226.9 L796.8 226.9 L798.8 226.9 L800.8 226.9 L802.8 226.8 L804.8 226.8 L806.8 226.8 L808.8 226.8 L810.8 226.8 L812.8 226.8 L814.8 226.8 L816.8 226.8 L818.8 226.8 L820.8 226.8 L822.8 226.8 L824.8 226.8 L826.8 226.8 L828.8 226.8 L830.8 226.8 L832.8 226.8 L834.8 226.7 L836.8 226.7 L838.8 226.7 L840.8 226.7 L842.8 226.7 L844.8 226.7 L846.8 226.7 L848.8 226.7 L850.8 226.7 L852.8 226.7 L854.8 226.7 L856.8 226.6 L858.8 226.6 L860.8 226.6 L862.8 226.6 L864.8 226.6 L866.8 226.6 L868.8 226.6 L870.8 226.6 L872.8 226.6 L874.8 226.6 L876.8 226.5 L878.8 226.5 L880.8 226.5 L882.8 226.5 L884.8 226.5 L886.8 226.5 L888.8 226.5 L890.8 226.5 L892.8 226.4 L894.8 226.4 L896.8 226.4 L898.8 226.4 L900.8 226.4 L902.8 226.4 L904.8 226.3 L906.8 226.3 L908.8 226.3 L910.8 226.3 L912.8 226.3 L914.8 226.3 L916.8 226.2 L918.8 226.2 L920.8 226.2 L922.8 226.2 L924.8 226.2 L926.8 226.2 L928.8 226.1 L930.8 226.1 L932.8 226.1 L934.8 226.1 L936.8 226.1 L938.8 226.0 L940.8 226.0 L942.8 226.0 L944.8 226.0 L946.8 226.0 L948.8 225.9 L950.8 225.9 L952.8 225.9 L954.8 225.9 L956.8 225.9 L958.8 225.8 L960.8 225.8 L962.8 225.8 L964.8 225.8 L966.8 225.7 L968.8 225.7 L970.8 225.7 L972.8 225.7 L974.8 225.7 L976.8 225.6 L978.8 225.6 L980.8 225.6 L982.8 225.6 L984.8 225.5 L986.8 225.5 L988.8 225.5 L990.8 225.5 L992.8 225.5 L994.8 225.4 L996.8 225.4 L998.8 225.4 L1000.8 225.4 L1002.8 225.3 L1004.8 225.3 L1006.8 225.3 L1008.8 225.3 L1010.8 225.2 L1012.8 225.2 L1014.8 225.2 L1016.8 225.2 L1018.8 225.1 L1020.8 225.1 L1022.8 225.1 L1024.8 225.1 L1026.8 225.1 L1028.8 225.0 L1030.8 225.0 L1032.8 225.0 L1034.8 225.0 L1036.8 224.9 L1038.8 224.9 L1040.8 224.9 L1042.8 224.9 L1044.8 224.8 L1046.8 224.8 L1048.8 224.8 L1050.8 224.8 L1052.8 224.8 L1054.8 224.7 L1056.8 224.7 L1058.8 224.7 L1060.8 224.7 L1062.8 224.6 L1064.8 224.6 L1066.8 224.6 L1068.8 224.6 L1070.8 224.6 L1072.8 224.5 L1074.8 224.5 L1076.8 224.5 L1078.8 224.5 L1080.8 224.5 L1082.8 224.4 L1084.8 224.4 L1086.8 224.4 L1088.8 224.4 L1090.8 224.3 L1092.8 224.3 L1094.8 224.3 L1096.8 224.3 L1098.8 224.3 L1100.8 224.3 L1102.8 224.2 L1104.8 224.2 L1106.8 224.2 L1108.8 224.2 L1110.8 224.2 L1112.8 224.1 L1114.8 224.1 L1116.8 224.1 L1118.8 224.1 L1120.8 224.1 L1122.8 224.1 L1124.8 224.0 L1126.8 224.0 L1128.8 224.0 L1130.8 224.0 L1132.8 224.0 L1134.8 224.0 L1136.8 224.0 L1138.8 223.9 L1140.8 223.9 L1142.8 223.9 L1144.8 223.9 L1146.8 223.9 L1148.8 223.9 L1150.8 223.9 L1152.8 223.9 L1154.8 223.9 L1156.8 223.8 L1158.8 223.8 L1160.8 223.8 L1162.8 223.8 L1164.8 223.8 L1166.8 223.8 L1168.8 223.8 L1170.8 223.8 L1172.8 223.8 L1174.8 223.8 L1176.8 223.8 L1178.8 223.7 L1180.8 223.7 L1182.8 223.7 L1184.8 223.7 L1186.8 223.7 L1188.8 223.7 L1190.8 223.7 L1192.8 223.7 L1194.8 223.7 L1196.8 223.7 L1198.8 223.7 L1200.8 223.7 L1202.8 223.7 L1204.8 223.7 L1206.8 223.7 L1208.8 223.7 L1210.8 223.7 L1212.8 223.7 L1214.8 223.7 L1216.8 223.7 L1218.8 223.7 L1220.8 223.7 L1222.8 223.7 L1224.8 223.7 L1226.8 223.7 L1228.8 223.7 L1230.8 223.7 L1232.8 223.7 L1234.8 223.7 L1236.8 223.7 L1238.8 223.7 L1240.8 223.7 L1242.8 223.8 L1244.8 223.8 L1246.8 223.8 L1248.8 223.8 L1250.8 223.8 L1252.8 223.8 L1254.8 223.8 L1256.8 223.8 L1258.8 223.8 L1260.8 223.8 L1262.8 223.8 L1264.8 223.9 L1266.8 223.9 L1268.8 223.9 L1270.8 223.9 L1272.8 223.9 L1274.8 223.9 L1276.8 223.9 L1278.8 224.0 L1280.8 224.0 L1282.8 224.0 L1284.8 224.0 L1286.8 224.0 L1288.8 224.0 L1290.8 224.1 L1292.8 224.1 L1294.8 224.1 L1296.8 224.1 L1298.8 224.1 L1300.8 224.2 L1302.8 224.2 L1304.8 224.2 L1306.8 224.2 L1308.8 224.3 L1310.8 224.3 L1312.8 224.3 L1314.8 224.3 L1316.8 224.4 L1318.8 224.4 L1320.8 224.4 L1322.8 224.4 L1324.8 224.5 L1326.8 224.5 L1328.8 224.5 L1330.8 224.5 L1332.8 224.6 L1334.8 224.6 L1336.8 224.6 L1338.8 224.7 L1340.8 224.7 L1342.8 224.7 L1344.8 224.7 L1346.8 224.8 L1348.8 224.8 L1350.8 224.8 L1352.8 224.8 L1354.8 224.9 L1356.8 224.9 L1358.8 224.9 L1360.8 224.9 L1362.8 225.0 L1364.8 225.0 L1366.8 225.0 L1368.8 225.0 L1370.8 225.1 L1372.8 225.1 L1374.8 225.1 L1376.8 225.1 L1378.8 225.1 L1380.8 225.2 L1382.8 225.2 L1384.8 225.2 L1386.8 225.2 L1388.8 225.2 L1390.8 225.2 L1392.8 225.3 L1394.8 225.3 L1396.8 225.3 L1398.8 225.3 L1400.8 225.3 L1402.8 225.3 L1404.8 225.3 L1406.8 225.3 L1408.8 225.3 L1410.8 225.3 L1412.8 225.3 L1414.8 225.4 L1416.8 225.4 L1418.8 225.4 L1420.8 225.4 L1422.8 225.4 L1424.8 225.3 L1426.8 225.3 L1428.8 225.3 L1430.8 225.3 L1432.8 225.3 L1434.8 225.3 L1436.8 225.3 L1438.8 225.3 L1440.8 225.3 L1442.8 225.3 L1444.8 225.2 L1446.8 225.2 L1448.8 225.2 L1450.8 225.2 L1452.8 225.1 L1454.8 225.1 L1456.8 225.1 L1458.8 225.1 L1460.8 225.0 L1462.8 225.0 L1464.8 224.9 L1466.8 224.9 L1468.8 224.9 L1470.8 224.8 L1472.8 224.8 L1474.8 224.7 L1476.8 224.7 L1478.8 224.7 L1480.8 224.6 L1482.8 224.6 L1484.8 224.5 L1486.8 224.5 L1488.8 224.4 L1490.8 224.4 L1492.8 224.3 L1494.8 224.3 L1496.8 224.2 L1498.8 224.2 L1500.8 224.2 L1502.8 224.1 L1504.7 224.1 L1506.7 224.0 L1508.7 224.0 L1510.7 223.9 L1512.7 223.9 L1514.7 223.8 L1516.7 223.8 L1518.7 223.8 L1520.7 223.7 L1522.7 223.7 L1524.7 223.7 L1526.7 223.6 L1528.7 223.6 L1530.7 223.6 L1532.7 223.5 L1534.6 223.5 L1536.6 223.5 L1538.6 223.5 L1540.6 223.4 L1542.6 223.4 L1544.6 223.4 L1546.6 223.3 L1548.6 223.3 L1550.5 223.2 L1552.5 223.2 L1554.5 223.1 L1556.5 223.0 L1558.5 222.9 L1560.4 222.8 L1562.4 222.7 L1564.4 222.6 L1566.4 222.4 L1568.3 222.2 L1570.3 222.0 L1572.3 221.8 L1574.3 221.6 L1576.0 221.4" stroke="#9400ff"/>
</g>
<g fill="none" stroke-width="8.4" stroke-linecap="round" stroke-linejoin="round" clip-path="url(#plotclip)">
<path d="M306.7 886.0 L308.0 887.4 L309.4 888.8 L310.6 890.3 L311.8 891.9 L312.9 893.5 L313.9 895.1 L314.9 896.8 L315.9 898.5 L316.8 900.3 L317.6 902.1 L318.4 903.9 L319.2 905.8 L319.9 907.6 L320.6 909.5 L321.3 911.4 L321.9 913.3 L322.5 915.3 L323.1 917.2 L323.6 919.2 L324.2 921.1 L324.7 923.1 L325.2 925.1 L325.8 927.0 L326.3 929.0 L326.8 930.9 L327.3 932.9 L327.9 934.8 L328.4 936.7 L328.9 938.6 L329.5 940.5 L330.0 942.4 L330.6 944.3 L331.2 946.1 L331.7 948.0 L332.3 949.9 L332.9 951.7 L333.6 953.6 L334.2 955.4 L334.9 957.3 L335.5 959.1 L336.2 960.9 L336.9 962.8 L337.6 964.6 L338.4 966.5 L339.2 968.3 L339.9 970.1 L340.8 972.0 L341.6 973.8 L342.4 975.7 L343.3 977.5 L344.2 979.4 L345.2 981.2 L346.1 983.1 L347.1 984.9 L348.2 986.8 L349.2 988.6 L350.3 990.4 L351.4 992.2 L352.6 993.9 L353.7 995.6 L354.9 997.3 L356.2 999.0 L357.4 1000.6 L358.7 1002.2 L360.1 1003.7 L361.5 1005.2 L362.9 1006.6 L364.3 1008.0 L365.8 1009.3 L367.3 1010.5 L368.9 1011.7 L370.5 1012.8 L372.1 1013.9 L373.8 1014.9 L375.5 1015.8 L377.2 1016.6 L379.0 1017.3 L380.8 1018.0 L382.7 1018.5 L384.6 1019.0 L386.5 1019.4 L388.4 1019.7 L390.4 1019.9 L392.3 1020.0 L394.3 1020.1 L396.3 1020.1 L398.3 1020.0 L400.2 1019.8 L402.2 1019.6 L404.2 1019.3 L406.1 1019.0 L408.1 1018.6 L410.0 1018.2 L411.9 1017.8 L413.8 1017.3 L415.7 1016.7 L417.6 1016.2 L419.4 1015.6 L421.3 1014.9 L423.1 1014.2 L424.9 1013.5 L426.7 1012.8 L428.6 1012.0 L430.3 1011.2 L432.1 1010.3 L433.9 1009.5 L435.7 1008.6 L437.4 1007.7 L439.2 1006.7 L440.9 1005.7 L442.6 1004.7 L444.4 1003.7 L446.1 1002.7 L447.8 1001.6 L449.5 1000.5 L451.2 999.4 L452.9 998.3 L454.5 997.2 L456.2 996.0 L457.9 994.8 L459.5 993.7 L461.2 992.5 L462.8 991.3 L464.5 990.1 L466.1 988.9 L467.8 987.7 L469.4 986.4 L471.0 985.2 L472.7 984.0 L474.3 982.7 L475.9 981.5 L477.5 980.3 L479.1 979.0 L480.7 977.8 L482.3 976.6 L483.9 975.3 L485.5 974.1 L487.1 972.8 L488.7 971.6 L490.3 970.4 L491.9 969.1 L493.5 967.9 L495.1 966.6 L496.7 965.4 L498.3 964.2 L499.9 962.9 L501.5 961.7 L503.1 960.4 L504.6 959.2 L506.2 958.0 L507.8 956.7 L509.4 955.5 L510.9 954.2 L512.5 953.0 L514.1 951.8 L515.7 950.5 L517.2 949.3 L518.8 948.1 L520.4 946.9 L522.0 945.6 L523.5 944.4 L525.1 943.2 L526.7 941.9 L528.3 940.7 L529.8 939.5 L531.4 938.3 L533.0 937.1 L534.5 935.8 L536.1 934.6 L537.7 933.4 L539.3 932.2 L540.8 931.0 L542.4 929.8 L544.0 928.6 L545.6 927.4 L547.2 926.2 L548.7 925.0 L550.3 923.8 L551.9 922.6 L553.5 921.4 L555.1 920.2 L556.7 919.0 L558.2 917.8 L559.8 916.6 L561.4 915.5 L563.0 914.3 L564.6 913.1 L566.2 911.9 L567.8 910.8 L569.4 909.6 L571.0 908.5 L572.6 907.3 L574.2 906.1 L575.9 905.0 L577.5 903.9 L579.1 902.7 L580.7 901.6 L582.3 900.4 L584.0 899.3 L585.6 898.2 L587.2 897.1 L588.9 895.9 L590.5 894.8 L592.2 893.7 L593.8 892.6 L595.5 891.5 L597.1 890.4 L598.8 889.3 L600.4 888.2 L602.1 887.1 L603.8 886.1 L605.5 885.0 L607.1 883.9 L608.8 882.8 L610.5 881.8 L612.2 880.7 L613.9 879.7 L615.6 878.6 L617.3 877.6 L619.0 876.6 L620.8 875.5 L622.5 874.5 L624.2 873.5 L625.9 872.5 L627.7 871.5 L629.4 870.5 L631.2 869.5 L632.9 868.5 L634.7 867.5 L636.4 866.5 L638.2 865.5 L639.9 864.6 L641.7 863.6 L643.5 862.7 L645.3 861.7 L647.1 860.8 L648.8 859.9 L650.6 858.9 L652.4 858.0 L654.2 857.1 L656.0 856.2 L657.8 855.3 L659.6 854.4 L661.4 853.6 L663.3 852.7 L665.1 851.8 L666.9 851.0 L668.7 850.1 L670.6 849.3 L672.4 848.5 L674.2 847.6 L676.1 846.8 L677.9 846.0 L679.8 845.2 L681.6 844.4 L683.5 843.7 L685.3 842.9 L687.2 842.1 L689.1 841.4 L690.9 840.6 L692.8 839.9 L694.7 839.2 L696.6 838.5 L698.4 837.8 L700.3 837.1 L702.2 836.4 L704.1 835.7 L706.0 835.0 L707.9 834.4 L709.8 833.7 L711.7 833.1 L713.6 832.5 L715.5 831.9 L717.4 831.3 L719.3 830.7 L721.2 830.1 L723.1 829.5 L725.0 829.0 L727.0 828.4 L728.9 827.9 L730.8 827.4 L732.7 826.9 L734.7 826.4 L736.6 825.9 L738.5 825.4 L740.5 824.9 L742.4 824.5 L744.3 824.0 L746.3 823.6 L748.2 823.1 L750.2 822.7 L752.1 822.3 L754.1 821.9 L756.0 821.5 L758.0 821.1 L759.9 820.7 L761.9 820.3 L763.8 819.9 L765.8 819.5 L767.7 819.1 L769.7 818.8 L771.6 818.4 L773.6 818.0 L775.6 817.6 L777.5 817.2 L779.5 816.8 L781.4 816.4 L783.4 816.0 L785.3 815.6 L787.3 815.2 L789.2 814.8 L791.2 814.4 L793.2 814.0 L795.1 813.6 L797.1 813.2 L799.0 812.8 L801.0 812.4 L803.0 812.0 L804.9 811.6 L806.9 811.2 L808.8 810.8 L810.8 810.4 L812.7 809.9 L814.7 809.5 L816.7 809.1 L818.6 808.7 L820.6 808.3 L822.6 807.9 L824.5 807.6 L826.5 807.2 L828.5 806.8 L830.4 806.4 L832.4 806.0 L834.4 805.6 L836.3 805.3 L838.3 804.9 L840.3 804.5 L842.2 804.2 L844.2 803.8 L846.2 803.5 L848.1 803.2 L850.1 802.8 L852.1 802.5 L854.1 802.2 L856.0 801.8 L858.0 801.5 L860.0 801.2 L862.0 800.9 L864.0 800.6 L865.9 800.3 L867.9 800.0 L869.9 799.7 L871.9 799.4 L873.9 799.1 L875.8 798.9 L877.8 798.6 L879.8 798.3 L881.8 798.0 L883.8 797.8 L885.8 797.5 L887.7 797.3 L889.7 797.0 L891.7 796.8 L893.7 796.6 L895.7 796.3 L897.7 796.1 L899.7 795.9 L901.7 795.6 L903.6 795.4 L905.6 795.2 L907.6 795.0 L909.6 794.8 L911.6 794.6 L913.6 794.4 L915.6 794.2 L917.6 794.0 L919.6 793.8 L921.6 793.7 L923.6 793.5 L925.5 793.3 L927.5 793.2 L929.5 793.0 L931.5 792.8 L933.5 792.7 L935.5 792.5 L937.5 792.4 L939.5 792.3 L941.5 792.1 L943.5 792.0 L945.5 791.9 L947.5 791.7 L949.5 791.6 L951.5 791.5 L953.5 791.4 L955.5 791.3 L957.5 791.2 L959.5 791.1 L961.5 791.0 L963.5 790.9 L965.5 790.8 L967.5 790.7 L969.5 790.6 L971.5 790.5 L973.5 790.5 L975.5 790.4 L977.5 790.3 L979.5 790.3 L981.5 790.2 L983.5 790.2 L985.5 790.1 L987.5 790.1 L989.5 790.0 L991.5 790.0 L993.5 789.9 L995.5 789.9 L997.5 789.9 L999.5 789.9 L1001.5 789.8 L1003.5 789.8 L1005.5 789.8 L1007.5 789.8 L1009.5 789.8 L1011.5 789.8 L1013.5 789.8 L1015.5 789.8 L1017.5 789.8 L1019.5 789.8 L1021.5 789.8 L1023.5 789.8 L1025.4 789.8 L1027.4 789.9 L1029.4 789.9 L1031.4 789.9 L1033.4 789.9 L1035.4 790.0 L1037.4 790.0 L1039.4 790.0 L1041.4 790.1 L1043.4 790.1 L1045.4 790.2 L1047.4 790.2 L1049.4 790.2 L1051.4 790.3 L1053.4 790.3 L1055.4 790.4 L1057.4 790.4 L1059.4 790.5 L1061.4 790.6 L1063.4 790.6 L1065.4 790.7 L1067.4 790.7 L1069.4 790.8 L1071.4 790.9 L1073.4 790.9 L1075.4 791.0 L1077.4 791.1 L1079.4 791.1 L1081.4 791.2 L1083.4 791.3 L1085.4 791.3 L1087.4 791.4 L1089.4 791.5 L1091.4 791.5 L1093.4 791.6 L1095.4 791.7 L1097.4 791.7 L1099.4 791.8 L1101.4 791.9 L1103.4 792.0 L1105.4 792.0 L1107.4 792.1 L1109.4 792.2 L1111.4 792.2 L1113.4 792.3 L1115.4 792.4 L1117.4 792.5 L1119.4 792.5 L1121.4 792.6 L1123.4 792.7 L1125.4 792.7 L1127.4 792.8 L1129.4 792.9 L1131.4 793.0 L1133.4 793.0 L1135.4 793.1 L1137.4 793.2 L1139.4 793.2 L1141.4 793.3 L1143.4 793.4 L1145.4 793.4 L1147.4 793.5 L1149.4 793.6 L1151.4 793.7 L1153.4 793.7 L1155.4 793.8 L1157.4 793.9 L1159.4 793.9 L1161.4 794.0 L1163.4 794.1 L1165.4 794.2 L1167.4 794.2 L1169.4 794.3 L1171.4 794.4 L1173.4 794.4 L1175.4 794.5 L1177.4 794.6 L1179.4 794.7 L1181.4 794.7 L1183.4 794.8 L1185.4 794.9 L1187.4 795.0 L1189.4 795.0 L1191.4 795.1 L1193.4 795.2 L1195.4 795.3 L1197.4 795.4 L1199.4 795.4 L1201.4 795.5 L1203.4 795.6 L1205.4 795.7 L1207.4 795.8 L1209.4 795.8 L1211.4 795.9 L1213.4 796.0 L1215.4 796.1 L1217.4 796.2 L1219.4 796.3 L1221.3 796.4 L1223.3 796.4 L1225.3 796.5 L1227.3 796.6 L1229.3 796.7 L1231.3 796.8 L1233.3 796.9 L1235.3 797.0 L1237.3 797.1 L1239.3 797.2 L1241.3 797.3 L1243.3 797.4 L1245.3 797.5 L1247.3 797.6 L1249.3 797.7 L1251.3 797.8 L1253.3 797.9 L1255.3 798.0 L1257.3 798.1 L1259.3 798.2 L1261.3 798.3 L1263.3 798.4 L1265.3 798.5 L1267.3 798.6 L1269.3 798.7 L1271.3 798.8 L1273.3 798.9 L1275.3 799.1 L1277.3 799.2 L1279.3 799.3 L1281.3 799.4 L1283.3 799.5 L1285.3 799.7 L1287.3 799.8 L1289.2 799.9 L1291.2 800.0 L1293.2 800.2 L1295.2 800.3 L1297.2 800.4 L1299.2 800.5 L1301.2 800.7 L1303.2 800.8 L1305.2 800.9 L1307.2 801.1 L1309.2 801.2 L1311.2 801.4 L1313.2 801.5 L1315.2 801.6 L1317.2 801.8 L1319.2 801.9 L1321.2 802.1 L1323.2 802.2 L1325.1 802.4 L1327.1 802.5 L1329.1 802.7 L1331.1 802.9 L1333.1 803.0 L1335.1 803.2 L1337.1 803.3 L1339.1 803.5 L1341.1 803.7 L1343.1 803.8 L1345.1 804.0 L1347.1 804.2 L1349.1 804.3 L1351.0 804.5 L1353.0 804.7 L1355.0 804.9 L1357.0 805.1 L1359.0 805.2 L1361.0 805.4 L1363.0 805.6 L1365.0 805.8 L1367.0 806.0 L1369.0 806.2 L1371.0 806.4 L1372.9 806.6 L1374.9 806.8 L1376.9 807.0 L1378.9 807.2 L1380.9 807.4 L1382.9 807.6 L1384.9 807.8 L1386.9 808.0 L1388.9 808.2 L1390.8 808.5 L1392.8 808.7 L1394.8 808.9 L1396.8 809.1 L1398.8 809.3 L1400.8 809.6 L1402.8 809.8 L1404.8 810.0 L1406.7 810.2 L1408.7 810.5 L1410.7 810.7 L1412.7 810.9 L1414.7 811.2 L1416.7 811.4 L1418.7 811.6 L1420.7 811.9 L1422.6 812.1 L1424.6 812.3 L1426.6 812.6 L1428.6 812.8 L1430.6 813.1 L1432.6 813.3 L1434.6 813.5 L1436.5 813.8 L1438.5 814.0 L1440.5 814.3 L1442.5 814.5 L1444.5 814.8 L1446.5 815.0 L1448.5 815.3 L1450.4 815.5 L1452.4 815.8 L1454.4 816.0 L1456.4 816.3 L1458.4 816.5 L1460.4 816.8 L1462.4 817.0 L1464.3 817.3 L1466.3 817.5 L1468.3 817.8 L1470.3 818.0 L1472.3 818.3 L1474.3 818.5 L1476.2 818.8 L1478.2 819.0 L1480.2 819.3 L1482.2 819.5 L1484.2 819.8 L1486.2 820.0 L1488.2 820.3 L1490.1 820.5 L1492.1 820.8 L1494.1 821.0 L1496.1 821.3 L1498.1 821.5 L1500.1 821.8 L1502.1 822.0 L1504.0 822.3 L1506.0 822.5 L1508.0 822.8 L1510.0 823.0 L1512.0 823.3 L1514.0 823.5 L1516.0 823.7 L1517.9 824.0 L1519.9 824.2 L1521.9 824.5 L1523.9 824.7 L1525.9 824.9 L1527.9 825.2 L1529.9 825.4 L1531.8 825.7 L1533.8 825.9 L1535.8 826.1 L1537.8 826.4 L1539.8 826.6 L1541.8 826.8 L1543.8 827.0 L1545.7 827.3 L1547.7 827.5 L1549.7 827.7 L1551.7 827.9 L1553.7 828.2 L1555.7 828.4 L1557.7 828.6 L1559.7 828.8 L1561.6 829.0 L1563.6 829.2 L1565.6 829.4 L1567.6 829.6 L1569.6 829.8 L1571.6 830.0 L1573.6 830.2 L1575.6 830.4 L1576.0 830.5" stroke="#000000"/>
<path d="M304.6 983.0 L306.1 984.1 L307.5 985.3 L308.9 986.6 L310.2 987.9 L311.6 989.4 L312.8 990.8 L314.1 992.4 L315.4 994.0 L316.6 995.7 L317.8 997.3 L319.1 999.1 L320.3 1000.8 L321.5 1002.5 L322.8 1004.2 L324.0 1006.0 L325.3 1007.7 L326.6 1009.4 L327.9 1011.0 L329.3 1012.7 L330.7 1014.2 L332.1 1015.8 L333.6 1017.2 L335.1 1018.6 L336.6 1019.9 L338.2 1021.1 L339.9 1022.2 L341.5 1023.3 L343.2 1024.2 L344.9 1025.0 L346.7 1025.7 L348.4 1026.3 L350.1 1026.8 L351.9 1027.1 L353.6 1027.2 L355.4 1027.3 L357.1 1027.1 L358.8 1026.8 L360.5 1026.4 L362.1 1025.8 L363.8 1025.0 L365.4 1024.1 L367.0 1023.1 L368.6 1021.9 L370.2 1020.7 L371.8 1019.4 L373.3 1018.0 L374.9 1016.6 L376.4 1015.1 L377.9 1013.6 L379.4 1012.1 L380.9 1010.5 L382.4 1009.0 L383.8 1007.5 L385.3 1006.0 L386.7 1004.5 L388.2 1003.1 L389.6 1001.6 L391.1 1000.2 L392.5 998.8 L394.0 997.4 L395.4 996.0 L396.8 994.6 L398.3 993.2 L399.7 991.8 L401.2 990.4 L402.6 989.1 L404.1 987.7 L405.5 986.4 L407.0 985.0 L408.5 983.7 L409.9 982.3 L411.4 981.0 L412.9 979.6 L414.3 978.3 L415.8 977.0 L417.3 975.6 L418.8 974.3 L420.3 973.0 L421.7 971.6 L423.2 970.3 L424.7 969.0 L426.2 967.7 L427.6 966.3 L429.1 965.0 L430.6 963.7 L432.1 962.3 L433.6 961.0 L435.0 959.7 L436.5 958.3 L438.0 957.0 L439.5 955.7 L440.9 954.3 L442.4 953.0 L443.9 951.6 L445.4 950.3 L446.8 948.9 L448.3 947.6 L449.8 946.2 L451.2 944.9 L452.7 943.5 L454.2 942.2 L455.6 940.8 L457.1 939.4 L458.6 938.1 L460.0 936.7 L461.5 935.4 L463.0 934.0 L464.4 932.6 L465.9 931.3 L467.4 929.9 L468.8 928.5 L470.3 927.2 L471.8 925.8 L473.2 924.5 L474.7 923.1 L476.2 921.7 L477.6 920.4 L479.1 919.0 L480.6 917.7 L482.1 916.3 L483.6 915.0 L485.0 913.6 L486.5 912.3 L488.0 910.9 L489.5 909.6 L491.0 908.2 L492.5 906.9 L493.9 905.5 L495.4 904.2 L496.9 902.9 L498.4 901.5 L499.9 900.2 L501.4 898.9 L502.9 897.6 L504.4 896.2 L505.9 894.9 L507.5 893.6 L509.0 892.3 L510.5 891.0 L512.0 889.7 L513.5 888.4 L515.1 887.1 L516.6 885.8 L518.1 884.5 L519.7 883.3 L521.2 882.0 L522.7 880.7 L524.3 879.4 L525.8 878.2 L527.4 876.9 L528.9 875.7 L530.5 874.4 L532.1 873.2 L533.6 872.0 L535.2 870.7 L536.8 869.5 L538.4 868.3 L540.0 867.1 L541.6 865.9 L543.2 864.7 L544.8 863.5 L546.4 862.3 L548.0 861.1 L549.6 860.0 L551.2 858.8 L552.9 857.6 L554.5 856.5 L556.1 855.3 L557.8 854.2 L559.4 853.1 L561.1 852.0 L562.7 850.8 L564.4 849.7 L566.1 848.6 L567.8 847.6 L569.4 846.5 L571.1 845.4 L572.8 844.4 L574.5 843.3 L576.2 842.3 L578.0 841.2 L579.7 840.2 L581.4 839.2 L583.1 838.2 L584.9 837.2 L586.6 836.2 L588.4 835.2 L590.1 834.3 L591.9 833.3 L593.7 832.4 L595.4 831.4 L597.2 830.5 L599.0 829.6 L600.8 828.7 L602.6 827.8 L604.4 826.9 L606.2 826.0 L608.0 825.2 L609.8 824.3 L611.6 823.5 L613.5 822.7 L615.3 821.9 L617.1 821.1 L619.0 820.3 L620.8 819.5 L622.7 818.8 L624.6 818.0 L626.4 817.3 L628.3 816.6 L630.2 815.9 L632.0 815.2 L633.9 814.5 L635.8 813.8 L637.7 813.2 L639.6 812.6 L641.5 811.9 L643.4 811.3 L645.3 810.7 L647.2 810.2 L649.1 809.6 L651.1 809.0 L653.0 808.5 L654.9 808.0 L656.8 807.5 L658.8 807.0 L660.7 806.5 L662.7 806.1 L664.6 805.6 L666.6 805.2 L668.5 804.8 L670.5 804.3 L672.4 803.9 L674.4 803.5 L676.4 803.1 L678.3 802.8 L680.3 802.4 L682.3 802.0 L684.2 801.7 L686.2 801.3 L688.2 801.0 L690.1 800.6 L692.1 800.3 L694.1 800.0 L696.1 799.6 L698.0 799.3 L700.0 799.0 L702.0 798.6 L704.0 798.3 L705.9 798.0 L707.9 797.7 L709.9 797.3 L711.9 797.0 L713.8 796.7 L715.8 796.4 L717.8 796.1 L719.8 795.8 L721.8 795.5 L723.7 795.2 L725.7 794.9 L727.7 794.6 L729.7 794.3 L731.6 794.0 L733.6 793.7 L735.6 793.4 L737.6 793.1 L739.6 792.8 L741.5 792.6 L743.5 792.3 L745.5 792.0 L747.5 791.7 L749.5 791.5 L751.4 791.2 L753.4 790.9 L755.4 790.7 L757.4 790.4 L759.4 790.1 L761.3 789.9 L763.3 789.6 L765.3 789.4 L767.3 789.1 L769.3 788.9 L771.3 788.7 L773.3 788.4 L775.2 788.2 L777.2 788.0 L779.2 787.7 L781.2 787.5 L783.2 787.3 L785.2 787.1 L787.2 786.9 L789.1 786.6 L791.1 786.4 L793.1 786.2 L795.1 786.0 L797.1 785.8 L799.1 785.6 L801.1 785.4 L803.1 785.2 L805.1 785.1 L807.1 784.9 L809.0 784.7 L811.0 784.5 L813.0 784.3 L815.0 784.2 L817.0 784.0 L819.0 783.8 L821.0 783.7 L823.0 783.5 L825.0 783.3 L827.0 783.2 L829.0 783.0 L831.0 782.9 L833.0 782.7 L835.0 782.6 L837.0 782.5 L838.9 782.3 L840.9 782.2 L842.9 782.0 L844.9 781.9 L846.9 781.8 L848.9 781.7 L850.9 781.6 L852.9 781.4 L854.9 781.3 L856.9 781.2 L858.9 781.1 L860.9 781.0 L862.9 780.9 L864.9 780.8 L866.9 780.7 L868.9 780.6 L870.9 780.5 L872.9 780.4 L874.9 780.4 L876.9 780.3 L878.9 780.2 L880.9 780.1 L882.9 780.1 L884.9 780.0 L886.9 779.9 L888.9 779.9 L890.9 779.8 L892.9 779.7 L894.9 779.7 L896.9 779.6 L898.9 779.6 L900.9 779.5 L902.9 779.5 L904.9 779.5 L906.9 779.4 L908.9 779.4 L910.9 779.3 L912.9 779.3 L914.9 779.3 L916.9 779.3 L918.9 779.3 L920.9 779.2 L922.9 779.2 L924.9 779.2 L926.9 779.2 L928.9 779.2 L930.9 779.2 L932.9 779.2 L934.9 779.2 L936.9 779.2 L938.9 779.2 L940.9 779.2 L942.9 779.2 L944.9 779.3 L946.9 779.3 L948.9 779.3 L950.9 779.3 L952.9 779.4 L954.9 779.4 L956.9 779.4 L958.9 779.5 L960.9 779.5 L962.9 779.6 L964.9 779.6 L966.9 779.7 L968.9 779.7 L970.9 779.8 L972.9 779.8 L974.9 779.9 L976.9 779.9 L978.9 780.0 L980.9 780.1 L982.9 780.1 L984.9 780.2 L986.9 780.3 L988.9 780.4 L990.9 780.5 L992.9 780.5 L994.9 780.6 L996.9 780.7 L998.9 780.8 L1000.9 780.9 L1002.9 781.0 L1004.9 781.1 L1006.9 781.2 L1008.9 781.3 L1010.9 781.4 L1012.9 781.5 L1014.9 781.7 L1016.8 781.8 L1018.8 781.9 L1020.8 782.0 L1022.8 782.1 L1024.8 782.3 L1026.8 782.4 L1028.8 782.5 L1030.8 782.7 L1032.8 782.8 L1034.8 782.9 L1036.8 783.1 L1038.8 783.2 L1040.8 783.3 L1042.8 783.5 L1044.8 783.6 L1046.8 783.8 L1048.8 783.9 L1050.7 784.1 L1052.7 784.2 L1054.7 784.4 L1056.7 784.5 L1058.7 784.7 L1060.7 784.8 L1062.7 785.0 L1064.7 785.2 L1066.7 785.3 L1068.7 785.5 L1070.7 785.7 L1072.7 785.8 L1074.7 786.0 L1076.7 786.2 L1078.6 786.3 L1080.6 786.5 L1082.6 786.7 L1084.6 786.9 L1086.6 787.0 L1088.6 787.2 L1090.6 787.4 L1092.6 787.6 L1094.6 787.8 L1096.6 787.9 L1098.6 788.1 L1100.6 788.3 L1102.5 788.5 L1104.5 788.7 L1106.5 788.9 L1108.5 789.1 L1110.5 789.2 L1112.5 789.4 L1114.5 789.6 L1116.5 789.8 L1118.5 790.0 L1120.5 790.2 L1122.5 790.4 L1124.4 790.6 L1126.4 790.8 L1128.4 791.0 L1130.4 791.2 L1132.4 791.4 L1134.4 791.6 L1136.4 791.8 L1138.4 792.0 L1140.4 792.1 L1142.4 792.3 L1144.3 792.5 L1146.3 792.7 L1148.3 792.9 L1150.3 793.1 L1152.3 793.3 L1154.3 793.5 L1156.3 793.7 L1158.3 793.9 L1160.3 794.1 L1162.3 794.3 L1164.3 794.5 L1166.2 794.7 L1168.2 794.9 L1170.2 795.1 L1172.2 795.3 L1174.2 795.5 L1176.2 795.7 L1178.2 795.9 L1180.2 796.1 L1182.2 796.3 L1184.2 796.5 L1186.2 796.7 L1188.1 796.9 L1190.1 797.1 L1192.1 797.3 L1194.1 797.5 L1196.1 797.7 L1198.1 797.9 L1200.1 798.1 L1202.1 798.3 L1204.1 798.4 L1206.1 798.6 L1208.1 798.8 L1210.0 799.0 L1212.0 799.2 L1214.0 799.4 L1216.0 799.6 L1218.0 799.8 L1220.0 799.9 L1222.0 800.1 L1224.0 800.3 L1226.0 800.5 L1228.0 800.7 L1230.0 800.9 L1232.0 801.0 L1233.9 801.2 L1235.9 801.4 L1237.9 801.6 L1239.9 801.8 L1241.9 801.9 L1243.9 802.1 L1245.9 802.3 L1247.9 802.5 L1249.9 802.7 L1251.9 802.8 L1253.9 803.0 L1255.9 803.2 L1257.8 803.4 L1259.8 803.5 L1261.8 803.7 L1263.8 803.9 L1265.8 804.0 L1267.8 804.2 L1269.8 804.4 L1271.8 804.6 L1273.8 804.7 L1275.8 804.9 L1277.8 805.1 L1279.8 805.2 L1281.8 805.4 L1283.8 805.6 L1285.7 805.7 L1287.7 805.9 L1289.7 806.1 L1291.7 806.3 L1293.7 806.4 L1295.7 806.6 L1297.7 806.8 L1299.7 806.9 L1301.7 807.1 L1303.7 807.3 L1305.7 807.4 L1307.7 807.6 L1309.7 807.7 L1311.7 807.9 L1313.6 808.1 L1315.6 808.2 L1317.6 808.4 L1319.6 808.6 L1321.6 808.7 L1323.6 808.9 L1325.6 809.1 L1327.6 809.2 L1329.6 809.4 L1331.6 809.6 L1333.6 809.7 L1335.6 809.9 L1337.6 810.0 L1339.6 810.2 L1341.5 810.4 L1343.5 810.5 L1345.5 810.7 L1347.5 810.9 L1349.5 811.0 L1351.5 811.2 L1353.5 811.3 L1355.5 811.5 L1357.5 811.7 L1359.5 811.8 L1361.5 812.0 L1363.5 812.2 L1365.5 812.3 L1367.5 812.5 L1369.5 812.7 L1371.4 812.8 L1373.4 813.0 L1375.4 813.1 L1377.4 813.3 L1379.4 813.5 L1381.4 813.6 L1383.4 813.8 L1385.4 814.0 L1387.4 814.1 L1389.4 814.3 L1391.4 814.5 L1393.4 814.6 L1395.4 814.8 L1397.4 815.0 L1399.3 815.1 L1401.3 815.3 L1403.3 815.5 L1405.3 815.6 L1407.3 815.8 L1409.3 816.0 L1411.3 816.1 L1413.3 816.3 L1415.3 816.5 L1417.3 816.6 L1419.3 816.8 L1421.3 817.0 L1423.3 817.1 L1425.3 817.3 L1427.2 817.5 L1429.2 817.6 L1431.2 817.8 L1433.2 818.0 L1435.2 818.2 L1437.2 818.3 L1439.2 818.5 L1441.2 818.7 L1443.2 818.8 L1445.2 819.0 L1447.2 819.2 L1449.2 819.4 L1451.2 819.5 L1453.1 819.7 L1455.1 819.9 L1457.1 820.1 L1459.1 820.2 L1461.1 820.4 L1463.1 820.6 L1465.1 820.8 L1467.1 821.0 L1469.1 821.1 L1471.1 821.3 L1473.1 821.5 L1475.1 821.7 L1477.0 821.9 L1479.0 822.1 L1481.0 822.2 L1483.0 822.4 L1485.0 822.6 L1487.0 822.8 L1489.0 823.0 L1491.0 823.2 L1493.0 823.4 L1495.0 823.5 L1497.0 823.7 L1499.0 823.9 L1500.9 824.1 L1502.9 824.3 L1504.9 824.5 L1506.9 824.7 L1508.9 824.9 L1510.9 825.1 L1512.9 825.3 L1514.9 825.5 L1516.9 825.7 L1518.9 825.9 L1520.8 826.1 L1522.8 826.3 L1524.8 826.5 L1526.8 826.7 L1528.8 826.9 L1530.8 827.1 L1532.8 827.3 L1534.8 827.5 L1536.8 827.7 L1538.8 827.9 L1540.7 828.1 L1542.7 828.3 L1544.7 828.5 L1546.7 828.7 L1548.7 828.9 L1550.7 829.2 L1552.7 829.4 L1554.7 829.6 L1556.7 829.8 L1558.7 830.0 L1560.6 830.2 L1562.6 830.5 L1564.6 830.7 L1566.6 830.9 L1568.6 831.1 L1570.6 831.3 L1572.6 831.6 L1574.6 831.8 L1576.0 832.0" stroke="#ff0000"/>
<path d="M304.2 958.7 L306.0 960.0 L307.6 961.3 L309.2 962.6 L310.7 963.9 L312.1 965.3 L313.5 966.7 L314.8 968.2 L316.0 969.7 L317.1 971.2 L318.3 972.8 L319.3 974.3 L320.3 975.9 L321.3 977.6 L322.3 979.2 L323.3 980.9 L324.2 982.6 L325.1 984.4 L326.1 986.1 L327.0 987.9 L327.9 989.7 L328.9 991.6 L329.9 993.4 L330.9 995.3 L331.9 997.1 L332.9 999.0 L334.0 1000.9 L335.1 1002.7 L336.2 1004.6 L337.4 1006.4 L338.5 1008.2 L339.8 1009.9 L341.0 1011.6 L342.3 1013.2 L343.6 1014.8 L344.9 1016.3 L346.3 1017.8 L347.7 1019.2 L349.2 1020.5 L350.7 1021.7 L352.2 1022.8 L353.8 1023.8 L355.5 1024.7 L357.1 1025.5 L358.8 1026.2 L360.6 1026.7 L362.4 1027.1 L364.2 1027.4 L366.1 1027.6 L368.0 1027.7 L369.9 1027.6 L371.8 1027.5 L373.7 1027.2 L375.6 1026.8 L377.4 1026.3 L379.3 1025.8 L381.1 1025.1 L382.9 1024.3 L384.7 1023.4 L386.4 1022.4 L388.1 1021.3 L389.7 1020.2 L391.3 1018.9 L392.9 1017.6 L394.5 1016.3 L396.0 1014.9 L397.5 1013.5 L399.0 1012.1 L400.5 1010.6 L401.9 1009.1 L403.4 1007.7 L404.9 1006.2 L406.3 1004.7 L407.8 1003.3 L409.3 1001.9 L410.7 1000.5 L412.2 999.1 L413.7 997.7 L415.1 996.3 L416.6 994.9 L418.1 993.6 L419.5 992.2 L421.0 990.8 L422.4 989.5 L423.9 988.1 L425.4 986.8 L426.8 985.5 L428.3 984.1 L429.7 982.8 L431.2 981.4 L432.6 980.1 L434.0 978.8 L435.5 977.4 L436.9 976.1 L438.3 974.7 L439.8 973.4 L441.2 972.0 L442.6 970.6 L444.0 969.3 L445.4 967.9 L446.8 966.5 L448.2 965.1 L449.6 963.7 L451.0 962.3 L452.4 960.8 L453.8 959.4 L455.2 958.0 L456.6 956.5 L457.9 955.1 L459.3 953.6 L460.7 952.1 L462.0 950.7 L463.4 949.2 L464.8 947.7 L466.2 946.3 L467.5 944.8 L468.9 943.3 L470.3 941.8 L471.6 940.4 L473.0 938.9 L474.4 937.4 L475.7 935.9 L477.1 934.5 L478.5 933.0 L479.9 931.5 L481.3 930.1 L482.7 928.6 L484.1 927.1 L485.4 925.7 L486.8 924.2 L488.3 922.8 L489.7 921.3 L491.1 919.9 L492.5 918.5 L493.9 917.1 L495.4 915.6 L496.8 914.2 L498.2 912.8 L499.7 911.4 L501.1 910.1 L502.6 908.7 L504.1 907.3 L505.5 905.9 L507.0 904.6 L508.5 903.2 L510.0 901.9 L511.5 900.6 L513.0 899.2 L514.5 897.9 L516.0 896.6 L517.5 895.3 L519.0 894.0 L520.5 892.7 L522.1 891.4 L523.6 890.1 L525.2 888.8 L526.7 887.5 L528.2 886.3 L529.8 885.0 L531.4 883.8 L532.9 882.5 L534.5 881.3 L536.1 880.1 L537.7 878.8 L539.2 877.6 L540.8 876.4 L542.4 875.2 L544.0 874.0 L545.6 872.8 L547.2 871.7 L548.8 870.5 L550.5 869.3 L552.1 868.2 L553.7 867.0 L555.3 865.9 L557.0 864.7 L558.6 863.6 L560.3 862.5 L561.9 861.3 L563.6 860.2 L565.2 859.1 L566.9 858.0 L568.6 856.9 L570.2 855.9 L571.9 854.8 L573.6 853.7 L575.3 852.7 L577.0 851.6 L578.7 850.6 L580.4 849.5 L582.1 848.5 L583.8 847.5 L585.5 846.4 L587.2 845.4 L588.9 844.4 L590.6 843.4 L592.4 842.4 L594.1 841.4 L595.8 840.5 L597.6 839.5 L599.3 838.5 L601.1 837.6 L602.8 836.6 L604.6 835.7 L606.3 834.8 L608.1 833.8 L609.9 832.9 L611.6 832.0 L613.4 831.1 L615.2 830.2 L617.0 829.3 L618.8 828.4 L620.5 827.5 L622.3 826.7 L624.1 825.8 L625.9 825.0 L627.7 824.1 L629.5 823.3 L631.4 822.4 L633.2 821.6 L635.0 820.8 L636.8 820.0 L638.6 819.2 L640.5 818.4 L642.3 817.6 L644.1 816.8 L646.0 816.0 L647.8 815.2 L649.6 814.5 L651.5 813.7 L653.3 813.0 L655.2 812.2 L657.1 811.5 L658.9 810.8 L660.8 810.1 L662.6 809.4 L664.5 808.7 L666.4 808.0 L668.3 807.3 L670.1 806.6 L672.0 805.9 L673.9 805.2 L675.8 804.6 L677.7 803.9 L679.6 803.3 L681.5 802.7 L683.4 802.0 L685.3 801.4 L687.2 800.8 L689.1 800.2 L691.0 799.6 L692.9 799.0 L694.8 798.4 L696.7 797.8 L698.6 797.2 L700.6 796.7 L702.5 796.1 L704.4 795.6 L706.3 795.0 L708.3 794.5 L710.2 794.0 L712.1 793.4 L714.1 792.9 L716.0 792.4 L718.0 791.9 L719.9 791.4 L721.8 790.9 L723.8 790.5 L725.7 790.0 L727.7 789.5 L729.7 789.1 L731.6 788.6 L733.6 788.2 L735.5 787.7 L737.5 787.3 L739.4 786.9 L741.4 786.5 L743.4 786.1 L745.3 785.7 L747.3 785.3 L749.3 784.9 L751.3 784.5 L753.2 784.1 L755.2 783.7 L757.2 783.4 L759.2 783.0 L761.1 782.7 L763.1 782.3 L765.1 782.0 L767.1 781.7 L769.1 781.3 L771.0 781.0 L773.0 780.7 L775.0 780.4 L777.0 780.1 L779.0 779.8 L781.0 779.5 L783.0 779.2 L785.0 778.9 L786.9 778.7 L788.9 778.4 L790.9 778.2 L792.9 777.9 L794.9 777.7 L796.9 777.4 L798.9 777.2 L800.9 776.9 L802.9 776.7 L804.9 776.5 L806.9 776.3 L808.9 776.1 L810.9 775.9 L812.9 775.7 L814.9 775.5 L816.9 775.3 L818.9 775.2 L820.8 775.0 L822.8 774.8 L824.8 774.7 L826.8 774.5 L828.8 774.3 L830.8 774.2 L832.8 774.1 L834.8 773.9 L836.8 773.8 L838.8 773.7 L840.8 773.6 L842.8 773.4 L844.8 773.3 L846.8 773.2 L848.8 773.1 L850.8 773.0 L852.8 772.9 L854.8 772.9 L856.8 772.8 L858.8 772.7 L860.7 772.6 L862.7 772.5 L864.7 772.5 L866.7 772.4 L868.7 772.4 L870.7 772.3 L872.7 772.2 L874.7 772.2 L876.7 772.2 L878.7 772.1 L880.7 772.1 L882.7 772.0 L884.7 772.0 L886.7 772.0 L888.7 772.0 L890.7 771.9 L892.7 771.9 L894.7 771.9 L896.7 771.9 L898.6 771.9 L900.6 771.9 L902.6 771.9 L904.6 771.9 L906.6 771.9 L908.6 771.9 L910.6 771.9 L912.6 771.9 L914.6 771.9 L916.6 771.9 L918.6 771.9 L920.6 771.9 L922.6 771.9 L924.6 771.9 L926.6 772.0 L928.6 772.0 L930.6 772.0 L932.6 772.0 L934.6 772.1 L936.6 772.1 L938.6 772.1 L940.6 772.1 L942.5 772.2 L944.5 772.2 L946.5 772.2 L948.5 772.3 L950.5 772.3 L952.5 772.3 L954.5 772.4 L956.5 772.4 L958.5 772.4 L960.5 772.5 L962.5 772.5 L964.5 772.6 L966.5 772.6 L968.5 772.6 L970.5 772.7 L972.5 772.7 L974.5 772.8 L976.5 772.8 L978.5 772.9 L980.5 772.9 L982.5 773.0 L984.5 773.0 L986.5 773.1 L988.5 773.1 L990.5 773.2 L992.5 773.2 L994.5 773.3 L996.5 773.3 L998.5 773.4 L1000.5 773.5 L1002.5 773.5 L1004.5 773.6 L1006.5 773.6 L1008.5 773.7 L1010.5 773.8 L1012.5 773.8 L1014.5 773.9 L1016.5 774.0 L1018.5 774.0 L1020.5 774.1 L1022.5 774.2 L1024.5 774.2 L1026.5 774.3 L1028.5 774.4 L1030.5 774.5 L1032.5 774.5 L1034.5 774.6 L1036.5 774.7 L1038.5 774.8 L1040.5 774.8 L1042.5 774.9 L1044.5 775.0 L1046.5 775.1 L1048.5 775.2 L1050.5 775.3 L1052.5 775.3 L1054.5 775.4 L1056.5 775.5 L1058.5 775.6 L1060.5 775.7 L1062.5 775.8 L1064.5 775.9 L1066.4 776.0 L1068.4 776.1 L1070.4 776.2 L1072.4 776.3 L1074.4 776.4 L1076.4 776.4 L1078.4 776.5 L1080.4 776.6 L1082.4 776.7 L1084.4 776.9 L1086.4 777.0 L1088.4 777.1 L1090.4 777.2 L1092.4 777.3 L1094.4 777.4 L1096.4 777.5 L1098.4 777.6 L1100.4 777.7 L1102.4 777.8 L1104.4 777.9 L1106.4 778.0 L1108.4 778.2 L1110.4 778.3 L1112.4 778.4 L1114.4 778.5 L1116.4 778.6 L1118.4 778.7 L1120.4 778.9 L1122.4 779.0 L1124.4 779.1 L1126.4 779.2 L1128.4 779.3 L1130.4 779.5 L1132.4 779.6 L1134.4 779.7 L1136.4 779.9 L1138.4 780.0 L1140.4 780.1 L1142.4 780.2 L1144.4 780.4 L1146.4 780.5 L1148.4 780.6 L1150.4 780.8 L1152.4 780.9 L1154.4 781.1 L1156.4 781.2 L1158.4 781.3 L1160.4 781.5 L1162.4 781.6 L1164.3 781.8 L1166.3 781.9 L1168.3 782.0 L1170.3 782.2 L1172.3 782.3 L1174.3 782.5 L1176.3 782.6 L1178.3 782.8 L1180.3 782.9 L1182.3 783.1 L1184.3 783.2 L1186.3 783.4 L1188.3 783.5 L1190.3 783.7 L1192.3 783.8 L1194.3 784.0 L1196.3 784.2 L1198.3 784.3 L1200.3 784.5 L1202.3 784.6 L1204.2 784.8 L1206.2 785.0 L1208.2 785.1 L1210.2 785.3 L1212.2 785.5 L1214.2 785.6 L1216.2 785.8 L1218.2 786.0 L1220.2 786.1 L1222.2 786.3 L1224.2 786.5 L1226.2 786.6 L1228.2 786.8 L1230.2 787.0 L1232.1 787.2 L1234.1 787.3 L1236.1 787.5 L1238.1 787.7 L1240.1 787.9 L1242.1 788.1 L1244.1 788.2 L1246.1 788.4 L1248.1 788.6 L1250.1 788.8 L1252.1 789.0 L1254.1 789.2 L1256.0 789.3 L1258.0 789.5 L1260.0 789.7 L1262.0 789.9 L1264.0 790.1 L1266.0 790.3 L1268.0 790.5 L1270.0 790.7 L1272.0 790.8 L1274.0 791.0 L1275.9 791.2 L1277.9 791.4 L1279.9 791.6 L1281.9 791.8 L1283.9 792.0 L1285.9 792.2 L1287.9 792.4 L1289.9 792.6 L1291.9 792.8 L1293.9 793.0 L1295.8 793.2 L1297.8 793.4 L1299.8 793.6 L1301.8 793.8 L1303.8 794.0 L1305.8 794.2 L1307.8 794.4 L1309.8 794.6 L1311.8 794.9 L1313.7 795.1 L1315.7 795.3 L1317.7 795.5 L1319.7 795.7 L1321.7 795.9 L1323.7 796.1 L1325.7 796.3 L1327.7 796.5 L1329.6 796.8 L1331.6 797.0 L1333.6 797.2 L1335.6 797.4 L1337.6 797.6 L1339.6 797.8 L1341.6 798.1 L1343.6 798.3 L1345.5 798.5 L1347.5 798.7 L1349.5 798.9 L1351.5 799.2 L1353.5 799.4 L1355.5 799.6 L1357.5 799.8 L1359.5 800.1 L1361.4 800.3 L1363.4 800.5 L1365.4 800.7 L1367.4 801.0 L1369.4 801.2 L1371.4 801.4 L1373.4 801.6 L1375.3 801.9 L1377.3 802.1 L1379.3 802.3 L1381.3 802.6 L1383.3 802.8 L1385.3 803.0 L1387.3 803.3 L1389.2 803.5 L1391.2 803.7 L1393.2 804.0 L1395.2 804.2 L1397.2 804.4 L1399.2 804.7 L1401.2 804.9 L1403.1 805.2 L1405.1 805.4 L1407.1 805.6 L1409.1 805.9 L1411.1 806.1 L1413.1 806.4 L1415.1 806.6 L1417.0 806.8 L1419.0 807.1 L1421.0 807.3 L1423.0 807.6 L1425.0 807.8 L1427.0 808.1 L1428.9 808.3 L1430.9 808.6 L1432.9 808.8 L1434.9 809.1 L1436.9 809.3 L1438.9 809.6 L1440.9 809.8 L1442.8 810.1 L1444.8 810.3 L1446.8 810.6 L1448.8 810.8 L1450.8 811.1 L1452.8 811.3 L1454.7 811.6 L1456.7 811.8 L1458.7 812.1 L1460.7 812.3 L1462.7 812.6 L1464.7 812.8 L1466.6 813.1 L1468.6 813.3 L1470.6 813.6 L1472.6 813.9 L1474.6 814.1 L1476.6 814.4 L1478.5 814.6 L1480.5 814.9 L1482.5 815.1 L1484.5 815.4 L1486.5 815.7 L1488.5 815.9 L1490.4 816.2 L1492.4 816.4 L1494.4 816.7 L1496.4 817.0 L1498.4 817.2 L1500.4 817.5 L1502.3 817.8 L1504.3 818.0 L1506.3 818.3 L1508.3 818.6 L1510.3 818.8 L1512.3 819.1 L1514.2 819.4 L1516.2 819.6 L1518.2 819.9 L1520.2 820.2 L1522.2 820.4 L1524.1 820.7 L1526.1 821.0 L1528.1 821.2 L1530.1 821.5 L1532.1 821.8 L1534.1 822.0 L1536.0 822.3 L1538.0 822.6 L1540.0 822.8 L1542.0 823.1 L1544.0 823.4 L1546.0 823.7 L1547.9 823.9 L1549.9 824.2 L1551.9 824.5 L1553.9 824.7 L1555.9 825.0 L1557.8 825.3 L1559.8 825.6 L1561.8 825.8 L1563.8 826.1 L1565.8 826.4 L1567.8 826.7 L1569.7 826.9 L1571.7 827.2 L1573.7 827.5 L1575.7 827.8 L1576.0 827.8" stroke="#0000ff"/>
<path d="M304.2 1009.5 L305.6 1011.0 L306.9 1012.6 L308.3 1014.0 L309.5 1015.5 L310.8 1017.0 L312.1 1018.5 L313.4 1020.0 L314.6 1021.5 L315.9 1023.0 L317.1 1024.6 L318.4 1026.2 L319.8 1027.8 L321.1 1029.5 L322.5 1031.0 L324.0 1032.5 L325.6 1033.9 L327.2 1035.0 L329.0 1035.9 L330.7 1036.6 L332.5 1037.0 L334.3 1037.0 L336.1 1036.8 L337.8 1036.1 L339.4 1035.2 L341.0 1034.1 L342.6 1032.8 L344.2 1031.5 L345.7 1030.2 L347.3 1028.9 L348.8 1027.6 L350.4 1026.2 L351.9 1024.9 L353.4 1023.6 L354.9 1022.2 L356.4 1020.9 L357.9 1019.5 L359.4 1018.1 L360.8 1016.8 L362.3 1015.4 L363.8 1014.0 L365.2 1012.6 L366.7 1011.2 L368.1 1009.8 L369.5 1008.4 L370.9 1007.0 L372.3 1005.6 L373.8 1004.1 L375.2 1002.7 L376.5 1001.3 L377.9 999.8 L379.3 998.4 L380.7 996.9 L382.1 995.5 L383.4 994.0 L384.8 992.5 L386.1 991.1 L387.5 989.6 L388.8 988.1 L390.2 986.6 L391.5 985.1 L392.8 983.7 L394.1 982.2 L395.5 980.7 L396.8 979.2 L398.1 977.7 L399.4 976.2 L400.7 974.7 L402.0 973.1 L403.3 971.6 L404.6 970.1 L405.9 968.6 L407.1 967.1 L408.4 965.6 L409.7 964.0 L411.0 962.5 L412.3 961.0 L413.5 959.5 L414.8 957.9 L416.1 956.4 L417.4 954.9 L418.6 953.3 L419.9 951.8 L421.2 950.3 L422.4 948.7 L423.7 947.2 L425.0 945.7 L426.2 944.1 L427.5 942.6 L428.8 941.1 L430.0 939.5 L431.3 938.0 L432.6 936.5 L433.9 934.9 L435.1 933.4 L436.4 931.9 L437.7 930.3 L439.0 928.8 L440.3 927.3 L441.6 925.8 L442.8 924.2 L444.1 922.7 L445.4 921.2 L446.7 919.7 L448.0 918.2 L449.3 916.7 L450.7 915.2 L452.0 913.7 L453.3 912.2 L454.6 910.7 L455.9 909.2 L457.3 907.7 L458.6 906.2 L460.0 904.7 L461.3 903.2 L462.7 901.7 L464.0 900.3 L465.4 898.8 L466.8 897.3 L468.2 895.9 L469.6 894.4 L471.0 893.0 L472.4 891.5 L473.8 890.1 L475.2 888.7 L476.6 887.2 L478.0 885.8 L479.4 884.4 L480.9 883.0 L482.3 881.6 L483.8 880.2 L485.2 878.8 L486.7 877.4 L488.2 876.0 L489.6 874.7 L491.1 873.3 L492.6 871.9 L494.1 870.6 L495.6 869.3 L497.1 867.9 L498.6 866.6 L500.2 865.3 L501.7 864.0 L503.2 862.7 L504.7 861.4 L506.3 860.1 L507.8 858.8 L509.4 857.6 L511.0 856.3 L512.5 855.1 L514.1 853.8 L515.7 852.6 L517.3 851.4 L518.9 850.2 L520.5 849.0 L522.1 847.8 L523.7 846.6 L525.3 845.4 L526.9 844.3 L528.6 843.1 L530.2 842.0 L531.8 840.9 L533.5 839.7 L535.1 838.6 L536.8 837.5 L538.4 836.4 L540.1 835.3 L541.8 834.2 L543.5 833.2 L545.1 832.1 L546.8 831.1 L548.5 830.0 L550.2 829.0 L551.9 827.9 L553.6 826.9 L555.4 825.9 L557.1 824.9 L558.8 823.9 L560.5 822.9 L562.3 822.0 L564.0 821.0 L565.7 820.0 L567.5 819.1 L569.2 818.2 L571.0 817.2 L572.8 816.3 L574.5 815.4 L576.3 814.5 L578.1 813.6 L579.9 812.7 L581.6 811.8 L583.4 810.9 L585.2 810.1 L587.0 809.2 L588.8 808.4 L590.6 807.5 L592.4 806.7 L594.3 805.9 L596.1 805.0 L597.9 804.2 L599.7 803.4 L601.5 802.6 L603.4 801.9 L605.2 801.1 L607.1 800.3 L608.9 799.5 L610.8 798.8 L612.6 798.1 L614.5 797.3 L616.3 796.6 L618.2 795.9 L620.0 795.2 L621.9 794.4 L623.8 793.7 L625.7 793.1 L627.5 792.4 L629.4 791.7 L631.3 791.0 L633.2 790.4 L635.1 789.7 L637.0 789.1 L638.9 788.4 L640.8 787.8 L642.7 787.2 L644.6 786.6 L646.5 786.0 L648.4 785.4 L650.3 784.8 L652.2 784.2 L654.2 783.6 L656.1 783.0 L658.0 782.5 L659.9 781.9 L661.9 781.4 L663.8 780.8 L665.7 780.3 L667.7 779.8 L669.6 779.3 L671.5 778.8 L673.5 778.2 L675.4 777.7 L677.4 777.3 L679.3 776.8 L681.3 776.3 L683.2 775.8 L685.2 775.4 L687.1 774.9 L689.1 774.5 L691.1 774.0 L693.0 773.6 L695.0 773.2 L697.0 772.7 L698.9 772.3 L700.9 771.9 L702.9 771.5 L704.8 771.1 L706.8 770.7 L708.8 770.3 L710.8 770.0 L712.7 769.6 L714.7 769.3 L716.7 768.9 L718.7 768.6 L720.7 768.2 L722.6 767.9 L724.6 767.6 L726.6 767.3 L728.6 767.0 L730.6 766.7 L732.6 766.4 L734.5 766.1 L736.5 765.9 L738.5 765.6 L740.5 765.4 L742.5 765.2 L744.5 764.9 L746.5 764.7 L748.5 764.5 L750.5 764.3 L752.5 764.1 L754.5 763.9 L756.4 763.8 L758.4 763.6 L760.4 763.5 L762.4 763.3 L764.4 763.2 L766.4 763.1 L768.4 763.0 L770.4 762.9 L772.4 762.8 L774.4 762.7 L776.4 762.7 L778.4 762.6 L780.4 762.6 L782.4 762.6 L784.3 762.6 L786.3 762.6 L788.3 762.6 L790.3 762.6 L792.3 762.6 L794.3 762.6 L796.3 762.7 L798.3 762.7 L800.3 762.8 L802.3 762.8 L804.3 762.9 L806.2 762.9 L808.2 763.0 L810.2 763.1 L812.2 763.1 L814.2 763.2 L816.2 763.3 L818.2 763.3 L820.2 763.4 L822.2 763.5 L824.2 763.5 L826.2 763.6 L828.2 763.7 L830.2 763.7 L832.2 763.8 L834.1 763.8 L836.1 763.9 L838.1 764.0 L840.1 764.0 L842.1 764.1 L844.1 764.1 L846.1 764.2 L848.1 764.2 L850.1 764.3 L852.1 764.3 L854.1 764.4 L856.1 764.4 L858.1 764.5 L860.1 764.5 L862.1 764.6 L864.1 764.6 L866.1 764.7 L868.1 764.7 L870.1 764.8 L872.1 764.8 L874.1 764.9 L876.1 764.9 L878.1 765.0 L880.1 765.0 L882.1 765.1 L884.1 765.1 L886.1 765.2 L888.1 765.2 L890.1 765.3 L892.1 765.3 L894.1 765.4 L896.1 765.5 L898.1 765.5 L900.1 765.6 L902.1 765.6 L904.1 765.7 L906.1 765.8 L908.1 765.8 L910.2 765.9 L912.2 765.9 L914.2 766.0 L916.2 766.1 L918.2 766.1 L920.2 766.2 L922.2 766.3 L924.2 766.4 L926.2 766.4 L928.2 766.5 L930.2 766.6 L932.2 766.7 L934.2 766.8 L936.2 766.9 L938.2 766.9 L940.2 767.0 L942.2 767.1 L944.2 767.2 L946.2 767.3 L948.2 767.4 L950.2 767.5 L952.2 767.6 L954.2 767.7 L956.1 767.9 L958.1 768.0 L960.1 768.1 L962.1 768.2 L964.1 768.3 L966.1 768.4 L968.1 768.6 L970.1 768.7 L972.1 768.8 L974.1 769.0 L976.1 769.1 L978.1 769.2 L980.1 769.4 L982.1 769.5 L984.1 769.6 L986.1 769.8 L988.1 769.9 L990.1 770.1 L992.1 770.2 L994.1 770.4 L996.1 770.5 L998.0 770.7 L1000.0 770.8 L1002.0 771.0 L1004.0 771.1 L1006.0 771.3 L1008.0 771.5 L1010.0 771.6 L1012.0 771.8 L1014.0 772.0 L1016.0 772.1 L1018.0 772.3 L1020.0 772.5 L1022.0 772.6 L1023.9 772.8 L1025.9 773.0 L1027.9 773.2 L1029.9 773.3 L1031.9 773.5 L1033.9 773.7 L1035.9 773.9 L1037.9 774.1 L1039.9 774.3 L1041.9 774.4 L1043.9 774.6 L1045.8 774.8 L1047.8 775.0 L1049.8 775.2 L1051.8 775.4 L1053.8 775.6 L1055.8 775.8 L1057.8 776.0 L1059.8 776.2 L1061.8 776.4 L1063.7 776.6 L1065.7 776.8 L1067.7 777.0 L1069.7 777.2 L1071.7 777.4 L1073.7 777.6 L1075.7 777.8 L1077.7 778.0 L1079.7 778.2 L1081.6 778.5 L1083.6 778.7 L1085.6 778.9 L1087.6 779.1 L1089.6 779.3 L1091.6 779.5 L1093.6 779.7 L1095.6 780.0 L1097.5 780.2 L1099.5 780.4 L1101.5 780.6 L1103.5 780.8 L1105.5 781.0 L1107.5 781.3 L1109.5 781.5 L1111.5 781.7 L1113.4 781.9 L1115.4 782.2 L1117.4 782.4 L1119.4 782.6 L1121.4 782.8 L1123.4 783.1 L1125.4 783.3 L1127.3 783.5 L1129.3 783.7 L1131.3 784.0 L1133.3 784.2 L1135.3 784.4 L1137.3 784.6 L1139.3 784.9 L1141.3 785.1 L1143.2 785.3 L1145.2 785.6 L1147.2 785.8 L1149.2 786.0 L1151.2 786.2 L1153.2 786.5 L1155.2 786.7 L1157.1 786.9 L1159.1 787.2 L1161.1 787.4 L1163.1 787.6 L1165.1 787.9 L1167.1 788.1 L1169.1 788.3 L1171.0 788.5 L1173.0 788.8 L1175.0 789.0 L1177.0 789.2 L1179.0 789.5 L1181.0 789.7 L1183.0 789.9 L1184.9 790.2 L1186.9 790.4 L1188.9 790.6 L1190.9 790.9 L1192.9 791.1 L1194.9 791.3 L1196.9 791.5 L1198.9 791.8 L1200.8 792.0 L1202.8 792.2 L1204.8 792.5 L1206.8 792.7 L1208.8 792.9 L1210.8 793.2 L1212.8 793.4 L1214.7 793.6 L1216.7 793.9 L1218.7 794.1 L1220.7 794.3 L1222.7 794.5 L1224.7 794.8 L1226.7 795.0 L1228.7 795.2 L1230.6 795.5 L1232.6 795.7 L1234.6 795.9 L1236.6 796.2 L1238.6 796.4 L1240.6 796.6 L1242.6 796.9 L1244.5 797.1 L1246.5 797.3 L1248.5 797.6 L1250.5 797.8 L1252.5 798.0 L1254.5 798.3 L1256.5 798.5 L1258.4 798.7 L1260.4 799.0 L1262.4 799.2 L1264.4 799.4 L1266.4 799.6 L1268.4 799.9 L1270.4 800.1 L1272.4 800.3 L1274.3 800.6 L1276.3 800.8 L1278.3 801.0 L1280.3 801.3 L1282.3 801.5 L1284.3 801.7 L1286.3 802.0 L1288.2 802.2 L1290.2 802.5 L1292.2 802.7 L1294.2 802.9 L1296.2 803.2 L1298.2 803.4 L1300.2 803.6 L1302.1 803.9 L1304.1 804.1 L1306.1 804.3 L1308.1 804.6 L1310.1 804.8 L1312.1 805.0 L1314.1 805.3 L1316.0 805.5 L1318.0 805.8 L1320.0 806.0 L1322.0 806.2 L1324.0 806.5 L1326.0 806.7 L1328.0 806.9 L1329.9 807.2 L1331.9 807.4 L1333.9 807.7 L1335.9 807.9 L1337.9 808.1 L1339.9 808.4 L1341.9 808.6 L1343.8 808.8 L1345.8 809.1 L1347.8 809.3 L1349.8 809.6 L1351.8 809.8 L1353.8 810.0 L1355.8 810.3 L1357.7 810.5 L1359.7 810.8 L1361.7 811.0 L1363.7 811.3 L1365.7 811.5 L1367.7 811.7 L1369.7 812.0 L1371.6 812.2 L1373.6 812.5 L1375.6 812.7 L1377.6 812.9 L1379.6 813.2 L1381.6 813.4 L1383.6 813.7 L1385.5 813.9 L1387.5 814.2 L1389.5 814.4 L1391.5 814.7 L1393.5 814.9 L1395.5 815.2 L1397.4 815.4 L1399.4 815.6 L1401.4 815.9 L1403.4 816.1 L1405.4 816.4 L1407.4 816.6 L1409.4 816.9 L1411.3 817.1 L1413.3 817.4 L1415.3 817.6 L1417.3 817.9 L1419.3 818.1 L1421.3 818.4 L1423.2 818.6 L1425.2 818.9 L1427.2 819.1 L1429.2 819.4 L1431.2 819.6 L1433.2 819.9 L1435.2 820.1 L1437.1 820.4 L1439.1 820.6 L1441.1 820.9 L1443.1 821.2 L1445.1 821.4 L1447.1 821.7 L1449.0 821.9 L1451.0 822.2 L1453.0 822.4 L1455.0 822.7 L1457.0 822.9 L1459.0 823.2 L1460.9 823.5 L1462.9 823.7 L1464.9 824.0 L1466.9 824.2 L1468.9 824.5 L1470.9 824.7 L1472.8 825.0 L1474.8 825.3 L1476.8 825.5 L1478.8 825.8 L1480.8 826.0 L1482.8 826.3 L1484.7 826.6 L1486.7 826.8 L1488.7 827.1 L1490.7 827.4 L1492.7 827.6 L1494.6 827.9 L1496.6 828.2 L1498.6 828.4 L1500.6 828.7 L1502.6 828.9 L1504.6 829.2 L1506.5 829.5 L1508.5 829.7 L1510.5 830.0 L1512.5 830.3 L1514.5 830.6 L1516.5 830.8 L1518.4 831.1 L1520.4 831.4 L1522.4 831.6 L1524.4 831.9 L1526.4 832.2 L1528.3 832.4 L1530.3 832.7 L1532.3 833.0 L1534.3 833.3 L1536.3 833.5 L1538.2 833.8 L1540.2 834.1 L1542.2 834.4 L1544.2 834.6 L1546.2 834.9 L1548.2 835.2 L1550.1 835.5 L1552.1 835.7 L1554.1 836.0 L1556.1 836.3 L1558.1 836.6 L1560.0 836.9 L1562.0 837.1 L1564.0 837.4 L1566.0 837.7 L1568.0 838.0 L1569.9 838.3 L1571.9 838.6 L1573.9 838.8 L1575.9 839.1 L1576.0 839.1" stroke="#008000"/>
<path d="M304.2 942.5 L304.8 944.5 L305.4 946.5 L306.0 948.5 L306.6 950.5 L307.2 952.4 L307.9 954.3 L308.5 956.2 L309.2 958.1 L309.9 959.9 L310.5 961.8 L311.2 963.6 L312.0 965.4 L312.7 967.2 L313.4 969.0 L314.1 970.8 L314.8 972.6 L315.6 974.4 L316.3 976.2 L317.1 978.0 L317.8 979.8 L318.6 981.6 L319.3 983.4 L320.1 985.3 L320.8 987.1 L321.6 989.0 L322.4 990.8 L323.1 992.7 L323.9 994.6 L324.6 996.6 L325.4 998.5 L326.2 1000.4 L327.0 1002.3 L327.8 1004.2 L328.6 1006.1 L329.5 1008.0 L330.4 1009.9 L331.4 1011.8 L332.4 1013.6 L333.4 1015.4 L334.5 1017.1 L335.6 1018.9 L336.8 1020.6 L338.0 1022.2 L339.3 1023.7 L340.7 1025.2 L342.1 1026.5 L343.7 1027.7 L345.2 1028.7 L346.9 1029.6 L348.6 1030.2 L350.4 1030.7 L352.2 1031.1 L354.1 1031.2 L356.0 1031.3 L357.9 1031.2 L359.8 1031.0 L361.8 1030.7 L363.7 1030.2 L365.6 1029.7 L367.5 1029.0 L369.3 1028.3 L371.1 1027.5 L372.9 1026.6 L374.6 1025.6 L376.3 1024.6 L377.9 1023.5 L379.5 1022.4 L381.1 1021.2 L382.6 1020.0 L384.2 1018.7 L385.7 1017.3 L387.1 1016.0 L388.6 1014.5 L390.0 1013.1 L391.4 1011.6 L392.8 1010.2 L394.2 1008.7 L395.6 1007.1 L397.0 1005.6 L398.3 1004.1 L399.7 1002.5 L401.1 1001.0 L402.4 999.4 L403.8 997.9 L405.2 996.4 L406.5 994.9 L407.9 993.4 L409.3 991.9 L410.7 990.5 L412.1 989.0 L413.5 987.6 L414.9 986.1 L416.3 984.7 L417.8 983.3 L419.2 981.9 L420.6 980.5 L422.0 979.1 L423.4 977.7 L424.9 976.3 L426.3 974.9 L427.7 973.5 L429.1 972.1 L430.6 970.7 L432.0 969.4 L433.4 968.0 L434.8 966.6 L436.2 965.2 L437.6 963.8 L439.0 962.4 L440.4 961.0 L441.8 959.6 L443.2 958.2 L444.6 956.8 L446.0 955.4 L447.4 954.0 L448.7 952.5 L450.1 951.1 L451.5 949.6 L452.8 948.2 L454.2 946.7 L455.5 945.2 L456.9 943.8 L458.2 942.3 L459.5 940.8 L460.9 939.3 L462.2 937.8 L463.5 936.3 L464.8 934.8 L466.2 933.3 L467.5 931.8 L468.8 930.3 L470.1 928.8 L471.5 927.3 L472.8 925.8 L474.1 924.3 L475.4 922.8 L476.8 921.3 L478.1 919.8 L479.4 918.3 L480.7 916.8 L482.1 915.3 L483.4 913.8 L484.8 912.3 L486.1 910.8 L487.5 909.3 L488.8 907.9 L490.2 906.4 L491.5 904.9 L492.9 903.5 L494.3 902.0 L495.7 900.5 L497.1 899.1 L498.4 897.6 L499.8 896.2 L501.3 894.8 L502.7 893.3 L504.1 891.9 L505.5 890.5 L506.9 889.1 L508.4 887.7 L509.8 886.3 L511.2 884.9 L512.7 883.5 L514.1 882.1 L515.6 880.8 L517.1 879.4 L518.5 878.0 L520.0 876.7 L521.5 875.3 L523.0 874.0 L524.5 872.7 L526.0 871.3 L527.5 870.0 L529.0 868.7 L530.5 867.4 L532.1 866.1 L533.6 864.8 L535.1 863.5 L536.7 862.2 L538.2 861.0 L539.7 859.7 L541.3 858.4 L542.9 857.2 L544.4 856.0 L546.0 854.7 L547.6 853.5 L549.2 852.3 L550.8 851.1 L552.4 849.9 L554.0 848.7 L555.6 847.5 L557.2 846.3 L558.8 845.1 L560.4 844.0 L562.0 842.8 L563.7 841.7 L565.3 840.5 L567.0 839.4 L568.6 838.3 L570.3 837.2 L571.9 836.1 L573.6 835.0 L575.3 833.9 L576.9 832.8 L578.6 831.7 L580.3 830.7 L582.0 829.6 L583.7 828.6 L585.4 827.5 L587.1 826.5 L588.8 825.5 L590.6 824.5 L592.3 823.5 L594.0 822.5 L595.8 821.5 L597.5 820.6 L599.3 819.6 L601.0 818.7 L602.8 817.7 L604.5 816.8 L606.3 815.9 L608.1 815.0 L609.9 814.1 L611.7 813.2 L613.5 812.3 L615.3 811.4 L617.1 810.6 L618.9 809.7 L620.7 808.9 L622.5 808.0 L624.3 807.2 L626.2 806.4 L628.0 805.6 L629.8 804.8 L631.7 804.0 L633.5 803.3 L635.4 802.5 L637.2 801.7 L639.1 801.0 L641.0 800.3 L642.8 799.5 L644.7 798.8 L646.6 798.1 L648.4 797.4 L650.3 796.7 L652.2 796.0 L654.1 795.4 L656.0 794.7 L657.9 794.0 L659.8 793.4 L661.7 792.8 L663.6 792.1 L665.5 791.5 L667.4 790.9 L669.3 790.3 L671.3 789.7 L673.2 789.1 L675.1 788.5 L677.0 787.9 L678.9 787.4 L680.9 786.8 L682.8 786.2 L684.7 785.7 L686.7 785.1 L688.6 784.6 L690.5 784.1 L692.5 783.6 L694.4 783.1 L696.4 782.6 L698.3 782.1 L700.2 781.6 L702.2 781.1 L704.1 780.6 L706.1 780.1 L708.0 779.7 L710.0 779.2 L711.9 778.8 L713.9 778.3 L715.8 777.9 L717.8 777.5 L719.7 777.0 L721.7 776.6 L723.6 776.2 L725.6 775.8 L727.6 775.4 L729.5 775.0 L731.5 774.6 L733.4 774.3 L735.4 773.9 L737.4 773.5 L739.3 773.2 L741.3 772.8 L743.3 772.5 L745.2 772.1 L747.2 771.8 L749.2 771.5 L751.1 771.1 L753.1 770.8 L755.1 770.5 L757.0 770.2 L759.0 769.9 L761.0 769.6 L763.0 769.3 L764.9 769.0 L766.9 768.8 L768.9 768.5 L770.9 768.2 L772.8 768.0 L774.8 767.7 L776.8 767.4 L778.8 767.2 L780.8 767.0 L782.7 766.7 L784.7 766.5 L786.7 766.3 L788.7 766.1 L790.7 765.8 L792.7 765.6 L794.6 765.4 L796.6 765.2 L798.6 765.0 L800.6 764.9 L802.6 764.7 L804.6 764.5 L806.6 764.3 L808.6 764.1 L810.6 764.0 L812.5 763.8 L814.5 763.7 L816.5 763.5 L818.5 763.4 L820.5 763.2 L822.5 763.1 L824.5 763.0 L826.5 762.8 L828.5 762.7 L830.5 762.6 L832.5 762.5 L834.5 762.4 L836.5 762.3 L838.5 762.2 L840.5 762.1 L842.5 762.0 L844.5 761.9 L846.5 761.8 L848.5 761.7 L850.5 761.7 L852.5 761.6 L854.5 761.5 L856.5 761.4 L858.5 761.4 L860.5 761.3 L862.5 761.3 L864.5 761.2 L866.5 761.2 L868.5 761.1 L870.5 761.1 L872.5 761.1 L874.5 761.0 L876.5 761.0 L878.5 761.0 L880.5 761.0 L882.5 761.0 L884.5 760.9 L886.5 760.9 L888.5 760.9 L890.5 760.9 L892.5 760.9 L894.5 760.9 L896.5 760.9 L898.5 760.9 L900.5 761.0 L902.5 761.0 L904.5 761.0 L906.5 761.0 L908.5 761.0 L910.5 761.1 L912.5 761.1 L914.5 761.1 L916.5 761.2 L918.5 761.2 L920.5 761.2 L922.5 761.3 L924.5 761.3 L926.5 761.4 L928.5 761.4 L930.5 761.5 L932.5 761.6 L934.5 761.6 L936.5 761.7 L938.5 761.7 L940.5 761.8 L942.6 761.9 L944.6 761.9 L946.6 762.0 L948.6 762.1 L950.6 762.2 L952.6 762.3 L954.5 762.3 L956.5 762.4 L958.5 762.5 L960.5 762.6 L962.5 762.7 L964.5 762.8 L966.5 762.9 L968.5 763.0 L970.5 763.1 L972.5 763.2 L974.5 763.3 L976.5 763.4 L978.5 763.5 L980.5 763.6 L982.5 763.7 L984.5 763.8 L986.5 763.9 L988.5 764.1 L990.5 764.2 L992.5 764.3 L994.5 764.4 L996.5 764.5 L998.5 764.7 L1000.5 764.8 L1002.5 764.9 L1004.5 765.1 L1006.5 765.2 L1008.5 765.3 L1010.5 765.5 L1012.5 765.6 L1014.4 765.7 L1016.4 765.9 L1018.4 766.0 L1020.4 766.2 L1022.4 766.3 L1024.4 766.5 L1026.4 766.6 L1028.4 766.8 L1030.4 766.9 L1032.4 767.1 L1034.4 767.2 L1036.4 767.4 L1038.4 767.5 L1040.4 767.7 L1042.3 767.8 L1044.3 768.0 L1046.3 768.2 L1048.3 768.3 L1050.3 768.5 L1052.3 768.7 L1054.3 768.8 L1056.3 769.0 L1058.3 769.2 L1060.3 769.3 L1062.3 769.5 L1064.3 769.7 L1066.2 769.8 L1068.2 770.0 L1070.2 770.2 L1072.2 770.4 L1074.2 770.5 L1076.2 770.7 L1078.2 770.9 L1080.2 771.1 L1082.2 771.3 L1084.2 771.4 L1086.2 771.6 L1088.1 771.8 L1090.1 772.0 L1092.1 772.2 L1094.1 772.4 L1096.1 772.6 L1098.1 772.7 L1100.1 772.9 L1102.1 773.1 L1104.1 773.3 L1106.1 773.5 L1108.0 773.7 L1110.0 773.9 L1112.0 774.1 L1114.0 774.3 L1116.0 774.5 L1118.0 774.7 L1120.0 774.9 L1122.0 775.0 L1124.0 775.2 L1126.0 775.4 L1127.9 775.6 L1129.9 775.8 L1131.9 776.0 L1133.9 776.2 L1135.9 776.4 L1137.9 776.6 L1139.9 776.8 L1141.9 777.0 L1143.9 777.2 L1145.8 777.4 L1147.8 777.6 L1149.8 777.8 L1151.8 778.0 L1153.8 778.2 L1155.8 778.4 L1157.8 778.6 L1159.8 778.8 L1161.8 779.0 L1163.8 779.2 L1165.7 779.4 L1167.7 779.6 L1169.7 779.8 L1171.7 780.0 L1173.7 780.2 L1175.7 780.4 L1177.7 780.6 L1179.7 780.8 L1181.7 781.0 L1183.6 781.2 L1185.6 781.4 L1187.6 781.6 L1189.6 781.8 L1191.6 782.0 L1193.6 782.2 L1195.6 782.4 L1197.6 782.6 L1199.6 782.8 L1201.6 783.0 L1203.5 783.2 L1205.5 783.4 L1207.5 783.6 L1209.5 783.8 L1211.5 784.1 L1213.5 784.3 L1215.5 784.5 L1217.5 784.7 L1219.5 784.9 L1221.4 785.1 L1223.4 785.3 L1225.4 785.5 L1227.4 785.7 L1229.4 785.9 L1231.4 786.1 L1233.4 786.3 L1235.4 786.5 L1237.4 786.7 L1239.4 786.9 L1241.3 787.1 L1243.3 787.3 L1245.3 787.5 L1247.3 787.7 L1249.3 787.9 L1251.3 788.1 L1253.3 788.3 L1255.3 788.5 L1257.3 788.7 L1259.3 788.9 L1261.2 789.1 L1263.2 789.3 L1265.2 789.6 L1267.2 789.8 L1269.2 790.0 L1271.2 790.2 L1273.2 790.4 L1275.2 790.6 L1277.2 790.8 L1279.1 791.0 L1281.1 791.2 L1283.1 791.4 L1285.1 791.6 L1287.1 791.8 L1289.1 792.0 L1291.1 792.3 L1293.1 792.5 L1295.1 792.7 L1297.1 792.9 L1299.0 793.1 L1301.0 793.3 L1303.0 793.5 L1305.0 793.7 L1307.0 793.9 L1309.0 794.2 L1311.0 794.4 L1313.0 794.6 L1315.0 794.8 L1316.9 795.0 L1318.9 795.2 L1320.9 795.4 L1322.9 795.6 L1324.9 795.9 L1326.9 796.1 L1328.9 796.3 L1330.9 796.5 L1332.9 796.7 L1334.8 796.9 L1336.8 797.2 L1338.8 797.4 L1340.8 797.6 L1342.8 797.8 L1344.8 798.0 L1346.8 798.3 L1348.8 798.5 L1350.7 798.7 L1352.7 798.9 L1354.7 799.1 L1356.7 799.4 L1358.7 799.6 L1360.7 799.8 L1362.7 800.0 L1364.7 800.2 L1366.7 800.5 L1368.6 800.7 L1370.6 800.9 L1372.6 801.1 L1374.6 801.4 L1376.6 801.6 L1378.6 801.8 L1380.6 802.0 L1382.6 802.3 L1384.5 802.5 L1386.5 802.7 L1388.5 803.0 L1390.5 803.2 L1392.5 803.4 L1394.5 803.7 L1396.5 803.9 L1398.4 804.1 L1400.4 804.3 L1402.4 804.6 L1404.4 804.8 L1406.4 805.0 L1408.4 805.3 L1410.4 805.5 L1412.4 805.8 L1414.3 806.0 L1416.3 806.2 L1418.3 806.5 L1420.3 806.7 L1422.3 806.9 L1424.3 807.2 L1426.3 807.4 L1428.2 807.7 L1430.2 807.9 L1432.2 808.1 L1434.2 808.4 L1436.2 808.6 L1438.2 808.9 L1440.2 809.1 L1442.1 809.4 L1444.1 809.6 L1446.1 809.9 L1448.1 810.1 L1450.1 810.3 L1452.1 810.6 L1454.0 810.8 L1456.0 811.1 L1458.0 811.3 L1460.0 811.6 L1462.0 811.8 L1464.0 812.1 L1466.0 812.4 L1467.9 812.6 L1469.9 812.9 L1471.9 813.1 L1473.9 813.4 L1475.9 813.6 L1477.9 813.9 L1479.8 814.1 L1481.8 814.4 L1483.8 814.7 L1485.8 814.9 L1487.8 815.2 L1489.8 815.4 L1491.7 815.7 L1493.7 816.0 L1495.7 816.2 L1497.7 816.5 L1499.7 816.8 L1501.6 817.0 L1503.6 817.3 L1505.6 817.6 L1507.6 817.8 L1509.6 818.1 L1511.6 818.4 L1513.5 818.6 L1515.5 818.9 L1517.5 819.2 L1519.5 819.5 L1521.5 819.7 L1523.4 820.0 L1525.4 820.3 L1527.4 820.6 L1529.4 820.8 L1531.4 821.1 L1533.3 821.4 L1535.3 821.7 L1537.3 822.0 L1539.3 822.3 L1541.3 822.5 L1543.2 822.8 L1545.2 823.1 L1547.2 823.4 L1549.2 823.7 L1551.2 824.0 L1553.1 824.3 L1555.1 824.5 L1557.1 824.8 L1559.1 825.1 L1561.1 825.4 L1563.0 825.7 L1565.0 826.0 L1567.0 826.3 L1569.0 826.6 L1570.9 826.9 L1572.9 827.2 L1574.9 827.5 L1576.0 827.7" stroke="#ff80ff"/>
<path d="M304.2 978.5 L305.7 979.9 L307.1 981.4 L308.4 982.9 L309.6 984.4 L310.7 986.0 L311.8 987.7 L312.8 989.4 L313.7 991.2 L314.5 992.9 L315.4 994.7 L316.2 996.6 L316.9 998.4 L317.7 1000.3 L318.4 1002.2 L319.1 1004.1 L319.9 1006.0 L320.6 1007.9 L321.4 1009.8 L322.2 1011.8 L323.0 1013.7 L323.9 1015.5 L324.8 1017.4 L325.8 1019.3 L326.9 1021.1 L328.0 1022.9 L329.2 1024.6 L330.4 1026.3 L331.8 1027.9 L333.1 1029.4 L334.6 1030.8 L336.0 1032.1 L337.6 1033.2 L339.1 1034.2 L340.7 1035.1 L342.3 1035.8 L344.0 1036.3 L345.7 1036.5 L347.4 1036.6 L349.2 1036.6 L350.9 1036.3 L352.6 1035.8 L354.3 1035.2 L356.0 1034.5 L357.7 1033.6 L359.3 1032.5 L360.9 1031.4 L362.5 1030.1 L364.0 1028.8 L365.6 1027.4 L367.1 1025.9 L368.6 1024.4 L370.1 1022.8 L371.6 1021.2 L373.1 1019.6 L374.5 1018.1 L376.0 1016.5 L377.4 1015.0 L378.9 1013.5 L380.3 1012.0 L381.8 1010.6 L383.2 1009.2 L384.6 1007.8 L386.0 1006.5 L387.4 1005.1 L388.8 1003.7 L390.2 1002.4 L391.5 1001.0 L392.9 999.6 L394.2 998.1 L395.5 996.7 L396.9 995.2 L398.2 993.8 L399.5 992.3 L400.7 990.8 L402.0 989.3 L403.3 987.7 L404.6 986.2 L405.9 984.7 L407.1 983.1 L408.4 981.6 L409.7 980.0 L410.9 978.5 L412.2 976.9 L413.4 975.4 L414.7 973.8 L416.0 972.3 L417.3 970.7 L418.6 969.2 L419.8 967.7 L421.1 966.1 L422.4 964.6 L423.7 963.1 L425.0 961.6 L426.4 960.1 L427.7 958.5 L429.0 957.0 L430.3 955.6 L431.7 954.1 L433.0 952.6 L434.3 951.1 L435.7 949.6 L437.0 948.1 L438.4 946.7 L439.7 945.2 L441.1 943.7 L442.5 942.3 L443.8 940.8 L445.2 939.4 L446.6 937.9 L448.0 936.5 L449.4 935.0 L450.7 933.6 L452.1 932.1 L453.5 930.7 L454.9 929.3 L456.3 927.8 L457.7 926.4 L459.1 925.0 L460.5 923.6 L461.9 922.1 L463.3 920.7 L464.8 919.3 L466.2 917.9 L467.6 916.5 L469.0 915.1 L470.4 913.7 L471.9 912.3 L473.3 910.9 L474.7 909.5 L476.1 908.1 L477.6 906.7 L479.0 905.3 L480.4 903.9 L481.9 902.5 L483.3 901.1 L484.8 899.7 L486.2 898.3 L487.6 896.9 L489.1 895.6 L490.5 894.2 L492.0 892.8 L493.4 891.4 L494.9 890.0 L496.3 888.7 L497.8 887.3 L499.2 885.9 L500.7 884.6 L502.1 883.2 L503.6 881.8 L505.1 880.5 L506.5 879.1 L508.0 877.8 L509.4 876.4 L510.9 875.1 L512.4 873.7 L513.8 872.4 L515.3 871.0 L516.8 869.7 L518.2 868.3 L519.7 867.0 L521.2 865.7 L522.7 864.4 L524.2 863.0 L525.7 861.7 L527.2 860.4 L528.7 859.2 L530.2 857.9 L531.7 856.6 L533.3 855.3 L534.8 854.1 L536.4 852.8 L537.9 851.6 L539.5 850.4 L541.1 849.1 L542.6 847.9 L544.2 846.7 L545.8 845.5 L547.4 844.3 L549.1 843.2 L550.7 842.0 L552.3 840.9 L553.9 839.7 L555.6 838.6 L557.2 837.4 L558.9 836.3 L560.5 835.2 L562.2 834.1 L563.9 833.0 L565.6 831.9 L567.2 830.9 L568.9 829.8 L570.6 828.7 L572.3 827.7 L574.1 826.7 L575.8 825.6 L577.5 824.6 L579.2 823.6 L581.0 822.6 L582.7 821.6 L584.5 820.6 L586.2 819.7 L588.0 818.7 L589.7 817.7 L591.5 816.8 L593.3 815.9 L595.1 814.9 L596.8 814.0 L598.6 813.1 L600.4 812.2 L602.2 811.3 L604.0 810.4 L605.8 809.6 L607.6 808.7 L609.5 807.8 L611.3 807.0 L613.1 806.2 L614.9 805.3 L616.8 804.5 L618.6 803.7 L620.4 802.9 L622.3 802.1 L624.1 801.3 L626.0 800.6 L627.9 799.8 L629.7 799.0 L631.6 798.3 L633.4 797.6 L635.3 796.8 L637.2 796.1 L639.1 795.4 L640.9 794.7 L642.8 794.0 L644.7 793.3 L646.6 792.7 L648.5 792.0 L650.4 791.3 L652.3 790.7 L654.2 790.1 L656.1 789.4 L658.0 788.8 L659.9 788.2 L661.8 787.6 L663.7 787.0 L665.6 786.4 L667.5 785.9 L669.5 785.3 L671.4 784.7 L673.3 784.2 L675.2 783.6 L677.1 783.1 L679.1 782.6 L681.0 782.1 L682.9 781.6 L684.9 781.1 L686.8 780.6 L688.7 780.1 L690.7 779.6 L692.6 779.1 L694.5 778.7 L696.5 778.2 L698.4 777.8 L700.4 777.3 L702.3 776.9 L704.3 776.5 L706.2 776.1 L708.2 775.7 L710.1 775.3 L712.1 774.9 L714.1 774.5 L716.0 774.1 L718.0 773.7 L719.9 773.3 L721.9 773.0 L723.9 772.6 L725.8 772.3 L727.8 771.9 L729.8 771.6 L731.7 771.3 L733.7 770.9 L735.7 770.6 L737.6 770.3 L739.6 770.0 L741.6 769.7 L743.6 769.4 L745.5 769.1 L747.5 768.8 L749.5 768.5 L751.5 768.2 L753.5 768.0 L755.4 767.7 L757.4 767.4 L759.4 767.2 L761.4 766.9 L763.4 766.7 L765.4 766.5 L767.3 766.2 L769.3 766.0 L771.3 765.8 L773.3 765.5 L775.3 765.3 L777.3 765.1 L779.3 764.9 L781.3 764.7 L783.2 764.5 L785.2 764.3 L787.2 764.1 L789.2 763.9 L791.2 763.7 L793.2 763.6 L795.2 763.4 L797.2 763.2 L799.2 763.0 L801.2 762.9 L803.2 762.7 L805.2 762.5 L807.2 762.4 L809.2 762.2 L811.2 762.1 L813.2 761.9 L815.2 761.8 L817.2 761.7 L819.2 761.5 L821.2 761.4 L823.2 761.3 L825.2 761.1 L827.2 761.0 L829.2 760.9 L831.2 760.8 L833.2 760.6 L835.2 760.5 L837.2 760.4 L839.2 760.3 L841.2 760.2 L843.2 760.1 L845.2 760.0 L847.2 759.9 L849.2 759.8 L851.2 759.7 L853.2 759.6 L855.2 759.5 L857.2 759.4 L859.2 759.3 L861.2 759.2 L863.2 759.1 L865.2 759.0 L867.2 758.9 L869.2 758.8 L871.2 758.7 L873.2 758.7 L875.2 758.6 L877.2 758.5 L879.2 758.4 L881.2 758.4 L883.2 758.3 L885.2 758.2 L887.1 758.1 L889.1 758.1 L891.1 758.0 L893.1 758.0 L895.1 757.9 L897.1 757.9 L899.1 757.8 L901.1 757.8 L903.1 757.8 L905.1 757.7 L907.1 757.7 L909.1 757.7 L911.1 757.7 L913.1 757.6 L915.1 757.6 L917.1 757.6 L919.1 757.6 L921.1 757.7 L923.1 757.7 L925.1 757.7 L927.1 757.7 L929.1 757.7 L931.1 757.8 L933.1 757.8 L935.1 757.9 L937.1 757.9 L939.1 758.0 L941.1 758.1 L943.1 758.2 L945.1 758.3 L947.1 758.3 L949.1 758.4 L951.0 758.6 L953.0 758.7 L955.0 758.8 L957.0 758.9 L959.0 759.0 L961.0 759.1 L963.0 759.3 L965.0 759.4 L967.0 759.6 L969.0 759.7 L971.0 759.8 L973.0 760.0 L975.0 760.1 L977.0 760.3 L979.0 760.4 L981.0 760.6 L983.0 760.7 L985.0 760.9 L987.0 761.0 L989.0 761.2 L991.0 761.4 L993.0 761.5 L995.0 761.7 L997.0 761.8 L999.0 762.0 L1001.0 762.1 L1003.0 762.3 L1004.9 762.4 L1006.9 762.6 L1008.9 762.7 L1010.9 762.9 L1012.9 763.1 L1014.9 763.2 L1016.9 763.4 L1018.9 763.5 L1020.9 763.7 L1022.9 763.8 L1024.9 764.0 L1026.9 764.2 L1028.9 764.3 L1030.9 764.5 L1032.9 764.6 L1034.9 764.8 L1036.9 764.9 L1038.8 765.1 L1040.8 765.2 L1042.8 765.4 L1044.8 765.6 L1046.8 765.7 L1048.8 765.9 L1050.8 766.0 L1052.8 766.2 L1054.8 766.3 L1056.8 766.5 L1058.8 766.7 L1060.8 766.8 L1062.8 767.0 L1064.8 767.1 L1066.8 767.3 L1068.7 767.4 L1070.7 767.6 L1072.7 767.7 L1074.7 767.9 L1076.7 768.1 L1078.7 768.2 L1080.7 768.4 L1082.7 768.5 L1084.7 768.7 L1086.7 768.8 L1088.7 769.0 L1090.7 769.1 L1092.7 769.3 L1094.7 769.4 L1096.7 769.6 L1098.6 769.7 L1100.6 769.9 L1102.6 770.1 L1104.6 770.2 L1106.6 770.4 L1108.6 770.5 L1110.6 770.7 L1112.6 770.8 L1114.6 771.0 L1116.6 771.1 L1118.6 771.3 L1120.6 771.4 L1122.6 771.6 L1124.6 771.7 L1126.6 771.9 L1128.6 772.0 L1130.6 772.2 L1132.5 772.3 L1134.5 772.4 L1136.5 772.6 L1138.5 772.7 L1140.5 772.9 L1142.5 773.0 L1144.5 773.2 L1146.5 773.3 L1148.5 773.5 L1150.5 773.6 L1152.5 773.8 L1154.5 773.9 L1156.5 774.1 L1158.5 774.2 L1160.5 774.4 L1162.5 774.6 L1164.5 774.7 L1166.5 774.9 L1168.4 775.0 L1170.4 775.2 L1172.4 775.3 L1174.4 775.5 L1176.4 775.6 L1178.4 775.8 L1180.4 775.9 L1182.4 776.1 L1184.4 776.3 L1186.4 776.4 L1188.4 776.6 L1190.4 776.7 L1192.4 776.9 L1194.4 777.1 L1196.4 777.2 L1198.4 777.4 L1200.3 777.6 L1202.3 777.7 L1204.3 777.9 L1206.3 778.1 L1208.3 778.2 L1210.3 778.4 L1212.3 778.6 L1214.3 778.8 L1216.3 778.9 L1218.3 779.1 L1220.3 779.3 L1222.3 779.5 L1224.3 779.6 L1226.2 779.8 L1228.2 780.0 L1230.2 780.2 L1232.2 780.4 L1234.2 780.6 L1236.2 780.7 L1238.2 780.9 L1240.2 781.1 L1242.2 781.3 L1244.2 781.5 L1246.2 781.7 L1248.2 781.9 L1250.1 782.1 L1252.1 782.3 L1254.1 782.5 L1256.1 782.6 L1258.1 782.8 L1260.1 783.0 L1262.1 783.2 L1264.1 783.4 L1266.1 783.6 L1268.1 783.8 L1270.0 784.0 L1272.0 784.2 L1274.0 784.4 L1276.0 784.6 L1278.0 784.9 L1280.0 785.1 L1282.0 785.3 L1284.0 785.5 L1286.0 785.7 L1287.9 785.9 L1289.9 786.1 L1291.9 786.3 L1293.9 786.5 L1295.9 786.7 L1297.9 786.9 L1299.9 787.2 L1301.9 787.4 L1303.9 787.6 L1305.8 787.8 L1307.8 788.0 L1309.8 788.2 L1311.8 788.5 L1313.8 788.7 L1315.8 788.9 L1317.8 789.1 L1319.8 789.3 L1321.7 789.6 L1323.7 789.8 L1325.7 790.0 L1327.7 790.2 L1329.7 790.5 L1331.7 790.7 L1333.7 790.9 L1335.7 791.1 L1337.6 791.4 L1339.6 791.6 L1341.6 791.8 L1343.6 792.1 L1345.6 792.3 L1347.6 792.5 L1349.6 792.8 L1351.5 793.0 L1353.5 793.2 L1355.5 793.5 L1357.5 793.7 L1359.5 793.9 L1361.5 794.2 L1363.5 794.4 L1365.5 794.6 L1367.4 794.9 L1369.4 795.1 L1371.4 795.4 L1373.4 795.6 L1375.4 795.8 L1377.4 796.1 L1379.4 796.3 L1381.3 796.6 L1383.3 796.8 L1385.3 797.0 L1387.3 797.3 L1389.3 797.5 L1391.3 797.8 L1393.3 798.0 L1395.2 798.3 L1397.2 798.5 L1399.2 798.8 L1401.2 799.0 L1403.2 799.2 L1405.2 799.5 L1407.1 799.7 L1409.1 800.0 L1411.1 800.2 L1413.1 800.5 L1415.1 800.7 L1417.1 801.0 L1419.1 801.2 L1421.0 801.5 L1423.0 801.7 L1425.0 802.0 L1427.0 802.2 L1429.0 802.5 L1431.0 802.8 L1432.9 803.0 L1434.9 803.3 L1436.9 803.5 L1438.9 803.8 L1440.9 804.0 L1442.9 804.3 L1444.8 804.5 L1446.8 804.8 L1448.8 805.1 L1450.8 805.3 L1452.8 805.6 L1454.8 805.8 L1456.7 806.1 L1458.7 806.3 L1460.7 806.6 L1462.7 806.9 L1464.7 807.1 L1466.7 807.4 L1468.6 807.6 L1470.6 807.9 L1472.6 808.1 L1474.6 808.4 L1476.6 808.7 L1478.6 808.9 L1480.5 809.2 L1482.5 809.5 L1484.5 809.7 L1486.5 810.0 L1488.5 810.2 L1490.5 810.5 L1492.4 810.8 L1494.4 811.0 L1496.4 811.3 L1498.4 811.5 L1500.4 811.8 L1502.4 812.1 L1504.3 812.3 L1506.3 812.6 L1508.3 812.9 L1510.3 813.1 L1512.3 813.4 L1514.3 813.7 L1516.2 813.9 L1518.2 814.2 L1520.2 814.4 L1522.2 814.7 L1524.2 815.0 L1526.1 815.2 L1528.1 815.5 L1530.1 815.8 L1532.1 816.0 L1534.1 816.3 L1536.1 816.6 L1538.0 816.8 L1540.0 817.1 L1542.0 817.3 L1544.0 817.6 L1546.0 817.9 L1548.0 818.1 L1549.9 818.4 L1551.9 818.7 L1553.9 818.9 L1555.9 819.2 L1557.9 819.5 L1559.8 819.7 L1561.8 820.0 L1563.8 820.3 L1565.8 820.5 L1567.8 820.8 L1569.8 821.1 L1571.7 821.3 L1573.7 821.6 L1575.7 821.8 L1576.0 821.9" stroke="#ff8214"/>
<path d="M304.2 968.3 L306.0 967.3 L307.7 966.2 L309.4 965.1 L311.1 964.0 L312.7 962.9 L314.4 961.8 L316.1 960.7 L317.8 959.6 L319.4 958.5 L321.1 957.4 L322.8 956.2 L324.4 955.1 L326.0 954.0 L327.7 952.8 L329.3 951.7 L331.0 950.6 L332.6 949.4 L334.2 948.3 L335.8 947.1 L337.4 946.0 L339.1 944.8 L340.7 943.7 L342.3 942.5 L343.9 941.4 L345.5 940.2 L347.1 939.1 L348.7 937.9 L350.3 936.7 L351.9 935.6 L353.5 934.4 L355.1 933.2 L356.7 932.1 L358.3 930.9 L359.9 929.7 L361.5 928.6 L363.1 927.4 L364.7 926.2 L366.3 925.1 L367.9 923.9 L369.5 922.7 L371.1 921.6 L372.7 920.4 L374.3 919.3 L375.9 918.1 L377.5 916.9 L379.1 915.8 L380.7 914.6 L382.3 913.5 L383.9 912.3 L385.5 911.2 L387.1 910.0 L388.8 908.9 L390.4 907.7 L392.0 906.6 L393.7 905.4 L395.3 904.3 L396.9 903.2 L398.6 902.0 L400.2 900.9 L401.9 899.8 L403.6 898.7 L405.2 897.6 L406.9 896.5 L408.6 895.4 L410.3 894.3 L412.0 893.2 L413.6 892.1 L415.3 891.0 L417.1 889.9 L418.8 888.8 L420.5 887.7 L422.2 886.7 L423.9 885.6 L425.6 884.5 L427.4 883.5 L429.1 882.4 L430.9 881.4 L432.6 880.3 L434.4 879.3 L436.1 878.3 L437.9 877.3 L439.6 876.2 L441.4 875.2 L443.2 874.2 L444.9 873.2 L446.7 872.2 L448.5 871.3 L450.3 870.3 L452.1 869.3 L453.9 868.3 L455.7 867.4 L457.5 866.4 L459.3 865.5 L461.1 864.5 L462.9 863.6 L464.7 862.7 L466.5 861.8 L468.3 860.9 L470.1 860.0 L472.0 859.1 L473.8 858.2 L475.6 857.3 L477.5 856.4 L479.3 855.6 L481.1 854.7 L483.0 853.9 L484.8 853.0 L486.6 852.2 L488.5 851.4 L490.3 850.6 L492.2 849.7 L494.0 848.9 L495.9 848.2 L497.7 847.4 L499.6 846.6 L501.5 845.8 L503.3 845.1 L505.2 844.3 L507.0 843.6 L508.9 842.9 L510.8 842.2 L512.6 841.4 L514.5 840.7 L516.4 840.0 L518.3 839.4 L520.1 838.7 L522.0 838.0 L523.9 837.3 L525.8 836.7 L527.7 836.0 L529.5 835.4 L531.4 834.8 L533.3 834.1 L535.2 833.5 L537.1 832.9 L539.0 832.3 L540.9 831.7 L542.8 831.1 L544.7 830.5 L546.6 830.0 L548.5 829.4 L550.4 828.8 L552.3 828.3 L554.2 827.8 L556.1 827.2 L558.0 826.7 L559.9 826.2 L561.9 825.7 L563.8 825.2 L565.7 824.7 L567.6 824.2 L569.5 823.7 L571.4 823.2 L573.4 822.7 L575.3 822.3 L577.2 821.8 L579.1 821.4 L581.1 820.9 L583.0 820.5 L584.9 820.0 L586.9 819.6 L588.8 819.2 L590.7 818.8 L592.7 818.4 L594.6 818.0 L596.5 817.6 L598.5 817.2 L600.4 816.8 L602.4 816.5 L604.3 816.1 L606.2 815.7 L608.2 815.4 L610.1 815.0 L612.1 814.7 L614.0 814.4 L616.0 814.0 L617.9 813.7 L619.9 813.4 L621.8 813.1 L623.8 812.8 L625.8 812.5 L627.7 812.2 L629.7 811.9 L631.6 811.6 L633.6 811.3 L635.6 811.1 L637.5 810.8 L639.5 810.5 L641.4 810.3 L643.4 810.0 L645.4 809.8 L647.3 809.5 L649.3 809.3 L651.3 809.1 L653.3 808.9 L655.2 808.7 L657.2 808.4 L659.2 808.2 L661.2 808.0 L663.1 807.8 L665.1 807.6 L667.1 807.5 L669.1 807.3 L671.0 807.1 L673.0 806.9 L675.0 806.8 L677.0 806.6 L679.0 806.4 L680.9 806.3 L682.9 806.1 L684.9 806.0 L686.9 805.9 L688.9 805.7 L690.9 805.6 L692.9 805.5 L694.9 805.4 L696.8 805.2 L698.8 805.1 L700.8 805.0 L702.8 804.9 L704.8 804.8 L706.8 804.7 L708.8 804.6 L710.8 804.6 L712.8 804.5 L714.8 804.4 L716.8 804.3 L718.8 804.3 L720.8 804.2 L722.8 804.1 L724.8 804.1 L726.8 804.0 L728.8 804.0 L730.8 803.9 L732.8 803.9 L734.8 803.8 L736.8 803.8 L738.8 803.8 L740.8 803.8 L742.8 803.7 L744.8 803.7 L746.8 803.7 L748.8 803.7 L750.8 803.7 L752.8 803.7 L754.8 803.6 L756.8 803.6 L758.8 803.7 L760.8 803.7 L762.8 803.7 L764.8 803.7 L766.8 803.7 L768.8 803.7 L770.9 803.7 L772.9 803.8 L774.9 803.8 L776.9 803.8 L778.9 803.8 L780.9 803.9 L782.9 803.9 L784.9 803.9 L786.9 804.0 L788.9 804.0 L790.9 804.1 L793.0 804.1 L795.0 804.2 L797.0 804.2 L799.0 804.3 L801.0 804.4 L803.0 804.4 L805.0 804.5 L807.0 804.6 L809.0 804.6 L811.1 804.7 L813.1 804.8 L815.1 804.8 L817.1 804.9 L819.1 805.0 L821.1 805.1 L823.1 805.2 L825.1 805.2 L827.1 805.3 L829.2 805.4 L831.2 805.5 L833.2 805.6 L835.2 805.7 L837.2 805.8 L839.2 805.9 L841.2 806.0 L843.2 806.1 L845.2 806.2 L847.2 806.3 L849.3 806.4 L851.3 806.5 L853.3 806.6 L855.3 806.7 L857.3 806.8 L859.3 806.9 L861.3 807.0 L863.3 807.2 L865.3 807.3 L867.3 807.4 L869.3 807.5 L871.3 807.6 L873.4 807.7 L875.4 807.9 L877.4 808.0 L879.4 808.1 L881.4 808.2 L883.4 808.3 L885.4 808.5 L887.4 808.6 L889.4 808.7 L891.4 808.8 L893.4 809.0 L895.4 809.1 L897.4 809.2 L899.4 809.4 L901.4 809.5 L903.4 809.6 L905.4 809.8 L907.4 809.9 L909.4 810.0 L911.4 810.2 L913.4 810.3 L915.4 810.5 L917.4 810.6 L919.4 810.7 L921.4 810.9 L923.4 811.0 L925.5 811.2 L927.5 811.3 L929.5 811.5 L931.5 811.6 L933.5 811.8 L935.5 811.9 L937.5 812.0 L939.5 812.2 L941.4 812.4 L943.4 812.5 L945.4 812.7 L947.4 812.8 L949.4 813.0 L951.4 813.1 L953.4 813.3 L955.4 813.4 L957.4 813.6 L959.4 813.7 L961.4 813.9 L963.4 814.1 L965.4 814.2 L967.4 814.4 L969.4 814.6 L971.4 814.7 L973.4 814.9 L975.4 815.0 L977.4 815.2 L979.4 815.4 L981.4 815.5 L983.4 815.7 L985.4 815.9 L987.4 816.0 L989.4 816.2 L991.4 816.4 L993.4 816.6 L995.4 816.7 L997.3 816.9 L999.3 817.1 L1001.3 817.3 L1003.3 817.4 L1005.3 817.6 L1007.3 817.8 L1009.3 818.0 L1011.3 818.1 L1013.3 818.3 L1015.3 818.5 L1017.3 818.7 L1019.3 818.8 L1021.3 819.0 L1023.3 819.2 L1025.2 819.4 L1027.2 819.6 L1029.2 819.8 L1031.2 819.9 L1033.2 820.1 L1035.2 820.3 L1037.2 820.5 L1039.2 820.7 L1041.2 820.9 L1043.2 821.1 L1045.2 821.2 L1047.1 821.4 L1049.1 821.6 L1051.1 821.8 L1053.1 822.0 L1055.1 822.2 L1057.1 822.4 L1059.1 822.6 L1061.1 822.8 L1063.1 823.0 L1065.1 823.1 L1067.0 823.3 L1069.0 823.5 L1071.0 823.7 L1073.0 823.9 L1075.0 824.1 L1077.0 824.3 L1079.0 824.5 L1081.0 824.7 L1083.0 824.9 L1084.9 825.1 L1086.9 825.3 L1088.9 825.5 L1090.9 825.7 L1092.9 825.9 L1094.9 826.1 L1096.9 826.3 L1098.9 826.5 L1100.8 826.7 L1102.8 826.9 L1104.8 827.1 L1106.8 827.3 L1108.8 827.5 L1110.8 827.7 L1112.8 827.9 L1114.8 828.1 L1116.7 828.3 L1118.7 828.5 L1120.7 828.7 L1122.7 828.9 L1124.7 829.1 L1126.7 829.3 L1128.7 829.5 L1130.6 829.7 L1132.6 829.9 L1134.6 830.1 L1136.6 830.3 L1138.6 830.5 L1140.6 830.7 L1142.6 831.0 L1144.5 831.2 L1146.5 831.4 L1148.5 831.6 L1150.5 831.8 L1152.5 832.0 L1154.5 832.2 L1156.5 832.4 L1158.4 832.6 L1160.4 832.8 L1162.4 833.0 L1164.4 833.2 L1166.4 833.4 L1168.4 833.7 L1170.4 833.9 L1172.3 834.1 L1174.3 834.3 L1176.3 834.5 L1178.3 834.7 L1180.3 834.9 L1182.3 835.1 L1184.2 835.3 L1186.2 835.5 L1188.2 835.7 L1190.2 836.0 L1192.2 836.2 L1194.2 836.4 L1196.2 836.6 L1198.1 836.8 L1200.1 837.0 L1202.1 837.2 L1204.1 837.4 L1206.1 837.6 L1208.1 837.9 L1210.1 838.1 L1212.0 838.3 L1214.0 838.5 L1216.0 838.7 L1218.0 838.9 L1220.0 839.1 L1222.0 839.3 L1223.9 839.5 L1225.9 839.7 L1227.9 840.0 L1229.9 840.2 L1231.9 840.4 L1233.9 840.6 L1235.9 840.8 L1237.8 841.0 L1239.8 841.2 L1241.8 841.4 L1243.8 841.6 L1245.8 841.8 L1247.8 842.1 L1249.7 842.3 L1251.7 842.5 L1253.7 842.7 L1255.7 842.9 L1257.7 843.1 L1259.7 843.3 L1261.7 843.5 L1263.6 843.7 L1265.6 843.9 L1267.6 844.2 L1269.6 844.4 L1271.6 844.6 L1273.6 844.8 L1275.5 845.0 L1277.5 845.2 L1279.5 845.4 L1281.5 845.6 L1283.5 845.8 L1285.5 846.0 L1287.5 846.2 L1289.4 846.4 L1291.4 846.6 L1293.4 846.8 L1295.4 847.1 L1297.4 847.3 L1299.4 847.5 L1301.4 847.7 L1303.3 847.9 L1305.3 848.1 L1307.3 848.3 L1309.3 848.5 L1311.3 848.7 L1313.3 848.9 L1315.3 849.1 L1317.2 849.3 L1319.2 849.5 L1321.2 849.7 L1323.2 849.9 L1325.2 850.1 L1327.2 850.3 L1329.2 850.5 L1331.1 850.7 L1333.1 850.9 L1335.1 851.1 L1337.1 851.3 L1339.1 851.5 L1341.1 851.7 L1343.1 851.9 L1345.1 852.1 L1347.0 852.3 L1349.0 852.5 L1351.0 852.7 L1353.0 852.9 L1355.0 853.1 L1357.0 853.3 L1359.0 853.5 L1361.0 853.7 L1362.9 853.9 L1364.9 854.1 L1366.9 854.2 L1368.9 854.4 L1370.9 854.6 L1372.9 854.8 L1374.9 855.0 L1376.9 855.2 L1378.9 855.4 L1380.8 855.6 L1382.8 855.8 L1384.8 856.0 L1386.8 856.1 L1388.8 856.3 L1390.8 856.5 L1392.8 856.7 L1394.8 856.9 L1396.8 857.1 L1398.7 857.3 L1400.7 857.4 L1402.7 857.6 L1404.7 857.8 L1406.7 858.0 L1408.7 858.2 L1410.7 858.4 L1412.7 858.5 L1414.7 858.7 L1416.7 858.9 L1418.7 859.1 L1420.6 859.3 L1422.6 859.4 L1424.6 859.6 L1426.6 859.8 L1428.6 860.0 L1430.6 860.1 L1432.6 860.3 L1434.6 860.5 L1436.6 860.7 L1438.6 860.8 L1440.6 861.0 L1442.6 861.2 L1444.6 861.3 L1446.6 861.5 L1448.5 861.7 L1450.5 861.8 L1452.5 862.0 L1454.5 862.2 L1456.5 862.3 L1458.5 862.5 L1460.5 862.7 L1462.5 862.8 L1464.5 863.0 L1466.5 863.2 L1468.5 863.3 L1470.5 863.5 L1472.5 863.6 L1474.5 863.8 L1476.5 863.9 L1478.5 864.1 L1480.5 864.3 L1482.5 864.4 L1484.5 864.6 L1486.5 864.7 L1488.5 864.9 L1490.5 865.0 L1492.4 865.2 L1494.4 865.3 L1496.4 865.5 L1498.4 865.6 L1500.4 865.8 L1502.4 865.9 L1504.4 866.1 L1506.4 866.2 L1508.4 866.4 L1510.4 866.5 L1512.4 866.6 L1514.4 866.8 L1516.4 866.9 L1518.4 867.1 L1520.4 867.2 L1522.4 867.3 L1524.4 867.5 L1526.4 867.6 L1528.4 867.7 L1530.4 867.9 L1532.4 868.0 L1534.4 868.1 L1536.4 868.3 L1538.4 868.4 L1540.5 868.5 L1542.5 868.7 L1544.5 868.8 L1546.5 868.9 L1548.5 869.0 L1550.5 869.2 L1552.5 869.3 L1554.5 869.4 L1556.5 869.5 L1558.5 869.6 L1560.5 869.8 L1562.5 869.9 L1564.5 870.0 L1566.5 870.1 L1568.5 870.2 L1570.5 870.3 L1572.5 870.4 L1574.5 870.6 L1576.1 870.6" stroke="#940000"/>
<path d="M305.0 1030.0 L307.0 1030.0 L309.0 1030.0 L311.0 1030.0 L313.0 1030.0 L315.0 1030.0 L317.0 1030.1 L319.0 1030.1 L321.0 1030.1 L323.0 1030.1 L325.0 1030.1 L327.0 1030.1 L329.0 1030.1 L331.0 1030.1 L333.0 1030.1 L335.0 1030.1 L337.0 1030.1 L339.0 1030.2 L341.0 1030.2 L343.0 1030.2 L345.0 1030.2 L347.0 1030.2 L349.0 1030.2 L351.0 1030.2 L353.0 1030.2 L355.0 1030.2 L357.0 1030.2 L359.0 1030.2 L361.0 1030.2 L363.0 1030.3 L365.0 1030.3 L367.0 1030.3 L369.0 1030.3 L371.0 1030.3 L373.0 1030.3 L375.0 1030.3 L377.0 1030.3 L379.0 1030.3 L381.0 1030.3 L383.0 1030.3 L385.0 1030.4 L387.0 1030.4 L389.0 1030.4 L391.0 1030.4 L393.0 1030.4 L395.0 1030.4 L397.0 1030.4 L399.0 1030.4 L401.0 1030.4 L403.0 1030.4 L405.0 1030.5 L407.0 1030.5 L409.0 1030.5 L411.0 1030.5 L413.0 1030.5 L415.0 1030.5 L417.0 1030.5 L419.0 1030.5 L421.0 1030.5 L423.0 1030.5 L425.0 1030.5 L427.0 1030.6 L429.0 1030.6 L431.0 1030.6 L433.0 1030.6 L435.0 1030.6 L437.0 1030.6 L439.0 1030.6 L441.0 1030.6 L443.0 1030.6 L445.0 1030.6 L447.0 1030.7 L449.0 1030.7 L451.0 1030.7 L453.0 1030.7 L455.0 1030.7 L457.0 1030.7 L459.0 1030.7 L461.0 1030.7 L463.0 1030.7 L465.0 1030.7 L467.0 1030.8 L469.0 1030.8 L471.0 1030.8 L473.0 1030.8 L475.0 1030.8 L477.0 1030.8 L479.0 1030.8 L481.0 1030.8 L483.0 1030.8 L485.0 1030.9 L487.0 1030.9 L489.0 1030.9 L491.0 1030.9 L493.0 1030.9 L495.0 1030.9 L497.0 1030.9 L499.0 1030.9 L501.0 1030.9 L503.0 1030.9 L505.0 1031.0 L507.0 1031.0 L509.0 1031.0 L511.0 1031.0 L513.0 1031.0 L515.0 1031.0 L517.0 1031.0 L519.0 1031.0 L521.0 1031.0 L523.0 1031.1 L525.0 1031.1 L527.0 1031.1 L529.0 1031.1 L531.0 1031.1 L533.0 1031.1 L535.0 1031.1 L537.0 1031.1 L539.0 1031.1 L541.0 1031.2 L543.0 1031.2 L545.0 1031.2 L547.0 1031.2 L549.0 1031.2 L551.0 1031.2 L553.0 1031.2 L555.0 1031.2 L557.0 1031.2 L559.0 1031.3 L561.0 1031.3 L563.0 1031.3 L565.0 1031.3 L567.0 1031.3 L569.0 1031.3 L571.0 1031.3 L573.0 1031.3 L575.0 1031.3 L577.0 1031.4 L579.0 1031.4 L581.0 1031.4 L583.0 1031.4 L585.0 1031.4 L587.0 1031.4 L589.0 1031.4 L591.0 1031.4 L593.0 1031.4 L595.0 1031.5 L597.0 1031.5 L599.0 1031.5 L601.0 1031.5 L603.0 1031.5 L605.0 1031.5 L607.0 1031.5 L609.0 1031.5 L611.0 1031.6 L613.0 1031.6 L615.0 1031.6 L617.0 1031.6 L619.0 1031.6 L621.0 1031.6 L623.0 1031.6 L625.0 1031.6 L627.0 1031.6 L629.0 1031.7 L631.0 1031.7 L633.0 1031.7 L635.0 1031.7 L637.0 1031.7 L639.0 1031.7 L641.0 1031.7 L643.0 1031.7 L645.0 1031.8 L647.0 1031.8 L649.0 1031.8 L651.0 1031.8 L653.0 1031.8 L655.0 1031.8 L657.0 1031.8 L659.0 1031.8 L661.0 1031.8 L663.0 1031.9 L665.0 1031.9 L667.0 1031.9 L669.0 1031.9 L671.0 1031.9 L673.0 1031.9 L675.0 1031.9 L677.0 1031.9 L679.0 1032.0 L681.0 1032.0 L683.0 1032.0 L685.0 1032.0 L687.0 1032.0 L689.0 1032.0 L691.0 1032.0 L693.0 1032.0 L695.0 1032.1 L697.0 1032.1 L699.0 1032.1 L701.0 1032.1 L703.0 1032.1 L705.0 1032.1 L707.0 1032.1 L709.0 1032.1 L711.0 1032.2 L713.0 1032.2 L715.0 1032.2 L717.0 1032.2 L719.0 1032.2 L721.0 1032.2 L723.0 1032.2 L725.0 1032.2 L727.0 1032.3 L729.0 1032.3 L731.0 1032.3 L733.0 1032.3 L735.0 1032.3 L737.0 1032.3 L739.0 1032.3 L741.0 1032.3 L743.0 1032.4 L745.0 1032.4 L747.0 1032.4 L749.0 1032.4 L751.0 1032.4 L753.0 1032.4 L755.0 1032.4 L757.0 1032.4 L759.0 1032.5 L761.0 1032.5 L763.0 1032.5 L765.0 1032.5 L767.0 1032.5 L769.0 1032.5 L771.0 1032.5 L773.0 1032.5 L775.0 1032.6 L777.0 1032.6 L779.0 1032.6 L781.0 1032.6 L783.0 1032.6 L785.0 1032.6 L787.0 1032.6 L789.0 1032.6 L791.0 1032.7 L793.0 1032.7 L795.0 1032.7 L797.0 1032.7 L799.0 1032.7 L801.0 1032.7 L803.0 1032.7 L805.0 1032.7 L807.0 1032.8 L809.0 1032.8 L811.0 1032.8 L813.0 1032.8 L815.0 1032.8 L817.0 1032.8 L819.0 1032.8 L821.0 1032.9 L823.0 1032.9 L825.0 1032.9 L827.0 1032.9 L829.0 1032.9 L831.0 1032.9 L833.0 1032.9 L835.0 1032.9 L837.0 1033.0 L839.0 1033.0 L841.0 1033.0 L843.0 1033.0 L845.0 1033.0 L847.0 1033.0 L849.0 1033.0 L851.0 1033.0 L853.0 1033.1 L855.0 1033.1 L857.0 1033.1 L859.0 1033.1 L861.0 1033.1 L863.0 1033.1 L865.0 1033.1 L867.0 1033.2 L869.0 1033.2 L871.0 1033.2 L873.0 1033.2 L875.0 1033.2 L877.0 1033.2 L879.0 1033.2 L881.0 1033.2 L883.0 1033.3 L885.0 1033.3 L887.0 1033.3 L889.0 1033.3 L891.0 1033.3 L893.0 1033.3 L895.0 1033.3 L897.0 1033.3 L899.0 1033.4 L901.0 1033.4 L903.0 1033.4 L905.0 1033.4 L907.0 1033.4 L909.0 1033.4 L911.0 1033.4 L913.0 1033.5 L915.0 1033.5 L917.0 1033.5 L919.0 1033.5 L921.0 1033.5 L923.0 1033.5 L925.0 1033.5 L927.0 1033.5 L929.0 1033.6 L931.0 1033.6 L933.0 1033.6 L935.0 1033.6 L937.0 1033.6 L939.0 1033.6 L941.0 1033.6 L943.0 1033.7 L945.0 1033.7 L947.0 1033.7 L949.0 1033.7 L951.0 1033.7 L953.0 1033.7 L955.0 1033.7 L957.0 1033.7 L959.0 1033.8 L961.0 1033.8 L963.0 1033.8 L965.0 1033.8 L967.0 1033.8 L969.0 1033.8 L971.0 1033.8 L973.0 1033.9 L975.0 1033.9 L977.0 1033.9 L979.0 1033.9 L981.0 1033.9 L983.0 1033.9 L985.0 1033.9 L987.0 1033.9 L989.0 1034.0 L991.0 1034.0 L993.0 1034.0 L995.0 1034.0 L997.0 1034.0 L999.0 1034.0 L1001.0 1034.0 L1003.0 1034.0 L1005.0 1034.1 L1007.0 1034.1 L1009.0 1034.1 L1011.0 1034.1 L1013.0 1034.1 L1015.0 1034.1 L1017.0 1034.1 L1019.0 1034.2 L1021.0 1034.2 L1023.0 1034.2 L1025.0 1034.2 L1027.0 1034.2 L1029.0 1034.2 L1031.0 1034.2 L1033.0 1034.2 L1035.0 1034.3 L1037.0 1034.3 L1039.0 1034.3 L1041.0 1034.3 L1043.0 1034.3 L1045.0 1034.3 L1047.0 1034.3 L1049.0 1034.4 L1051.0 1034.4 L1053.0 1034.4 L1055.0 1034.4 L1057.0 1034.4 L1059.0 1034.4 L1061.0 1034.4 L1063.0 1034.4 L1065.0 1034.5 L1067.0 1034.5 L1069.0 1034.5 L1071.0 1034.5 L1073.0 1034.5 L1075.0 1034.5 L1077.0 1034.5 L1079.0 1034.6 L1081.0 1034.6 L1083.0 1034.6 L1085.0 1034.6 L1087.0 1034.6 L1089.0 1034.6 L1091.0 1034.6 L1093.0 1034.6 L1095.0 1034.7 L1097.0 1034.7 L1099.0 1034.7 L1101.0 1034.7 L1103.0 1034.7 L1105.0 1034.7 L1107.0 1034.7 L1109.0 1034.7 L1111.0 1034.8 L1113.0 1034.8 L1115.0 1034.8 L1117.0 1034.8 L1119.0 1034.8 L1121.0 1034.8 L1123.0 1034.8 L1125.0 1034.9 L1127.0 1034.9 L1129.0 1034.9 L1131.0 1034.9 L1133.0 1034.9 L1135.0 1034.9 L1137.0 1034.9 L1139.0 1034.9 L1141.0 1035.0 L1143.0 1035.0 L1145.0 1035.0 L1147.0 1035.0 L1149.0 1035.0 L1151.0 1035.0 L1153.0 1035.0 L1155.0 1035.1 L1157.0 1035.1 L1159.0 1035.1 L1161.0 1035.1 L1163.0 1035.1 L1165.0 1035.1 L1167.0 1035.1 L1169.0 1035.1 L1171.0 1035.2 L1173.0 1035.2 L1175.0 1035.2 L1177.0 1035.2 L1179.0 1035.2 L1181.0 1035.2 L1183.0 1035.2 L1185.0 1035.2 L1187.0 1035.3 L1189.0 1035.3 L1191.0 1035.3 L1193.0 1035.3 L1195.0 1035.3 L1197.0 1035.3 L1199.0 1035.3 L1201.0 1035.3 L1203.0 1035.4 L1205.0 1035.4 L1207.0 1035.4 L1209.0 1035.4 L1211.0 1035.4 L1213.0 1035.4 L1215.0 1035.4 L1217.0 1035.4 L1219.0 1035.5 L1221.0 1035.5 L1223.0 1035.5 L1225.0 1035.5 L1227.0 1035.5 L1229.0 1035.5 L1231.0 1035.5 L1233.0 1035.6 L1235.0 1035.6 L1237.0 1035.6 L1239.0 1035.6 L1241.0 1035.6 L1243.0 1035.6 L1245.0 1035.6 L1247.0 1035.6 L1249.0 1035.7 L1251.0 1035.7 L1253.0 1035.7 L1255.0 1035.7 L1257.0 1035.7 L1259.0 1035.7 L1261.0 1035.7 L1263.0 1035.7 L1265.0 1035.8 L1267.0 1035.8 L1269.0 1035.8 L1271.0 1035.8 L1273.0 1035.8 L1275.0 1035.8 L1277.0 1035.8 L1279.0 1035.8 L1281.0 1035.9 L1283.0 1035.9 L1285.0 1035.9 L1287.0 1035.9 L1289.0 1035.9 L1291.0 1035.9 L1293.0 1035.9 L1295.0 1035.9 L1297.0 1036.0 L1299.0 1036.0 L1301.0 1036.0 L1303.0 1036.0 L1305.0 1036.0 L1307.0 1036.0 L1309.0 1036.0 L1311.0 1036.0 L1313.0 1036.0 L1315.0 1036.1 L1317.0 1036.1 L1319.0 1036.1 L1321.0 1036.1 L1323.0 1036.1 L1325.0 1036.1 L1327.0 1036.1 L1329.0 1036.1 L1331.0 1036.2 L1333.0 1036.2 L1335.0 1036.2 L1337.0 1036.2 L1339.0 1036.2 L1341.0 1036.2 L1343.0 1036.2 L1345.0 1036.2 L1347.0 1036.3 L1349.0 1036.3 L1351.0 1036.3 L1353.0 1036.3 L1355.0 1036.3 L1357.0 1036.3 L1359.0 1036.3 L1361.0 1036.3 L1363.0 1036.3 L1365.0 1036.4 L1367.0 1036.4 L1369.0 1036.4 L1371.0 1036.4 L1373.0 1036.4 L1375.0 1036.4 L1377.0 1036.4 L1379.0 1036.4 L1381.0 1036.5 L1383.0 1036.5 L1385.0 1036.5 L1387.0 1036.5 L1389.0 1036.5 L1391.0 1036.5 L1393.0 1036.5 L1395.0 1036.5 L1397.0 1036.5 L1399.0 1036.6 L1401.0 1036.6 L1403.0 1036.6 L1405.0 1036.6 L1407.0 1036.6 L1409.0 1036.6 L1411.0 1036.6 L1413.0 1036.6 L1415.0 1036.7 L1417.0 1036.7 L1419.0 1036.7 L1421.0 1036.7 L1423.0 1036.7 L1425.0 1036.7 L1427.0 1036.7 L1429.0 1036.7 L1431.0 1036.7 L1433.0 1036.8 L1435.0 1036.8 L1437.0 1036.8 L1439.0 1036.8 L1441.0 1036.8 L1443.0 1036.8 L1445.0 1036.8 L1447.0 1036.8 L1449.0 1036.8 L1451.0 1036.9 L1453.0 1036.9 L1455.0 1036.9 L1457.0 1036.9 L1459.0 1036.9 L1461.0 1036.9 L1463.0 1036.9 L1465.0 1036.9 L1467.0 1036.9 L1469.0 1037.0 L1471.0 1037.0 L1473.0 1037.0 L1475.0 1037.0 L1477.0 1037.0 L1479.0 1037.0 L1481.0 1037.0 L1483.0 1037.0 L1485.0 1037.0 L1487.0 1037.1 L1489.0 1037.1 L1491.0 1037.1 L1493.0 1037.1 L1495.0 1037.1 L1497.0 1037.1 L1499.0 1037.1 L1501.0 1037.1 L1503.0 1037.1 L1505.0 1037.1 L1507.0 1037.2 L1509.0 1037.2 L1511.0 1037.2 L1513.0 1037.2 L1515.0 1037.2 L1517.0 1037.2 L1519.0 1037.2 L1521.0 1037.2 L1523.0 1037.2 L1525.0 1037.2 L1527.0 1037.3 L1529.0 1037.3 L1531.0 1037.3 L1533.0 1037.3 L1535.0 1037.3 L1537.0 1037.3 L1539.0 1037.3 L1541.0 1037.3 L1543.0 1037.3 L1545.0 1037.4 L1547.0 1037.4 L1549.0 1037.4 L1551.0 1037.4 L1553.0 1037.4 L1555.0 1037.4 L1557.0 1037.4 L1559.0 1037.4 L1561.0 1037.4 L1563.0 1037.4 L1565.0 1037.5 L1567.0 1037.5 L1569.0 1037.5 L1571.0 1037.5 L1573.0 1037.5 L1575.0 1037.5 L1576.0 1037.5" stroke="#9400ff"/>
</g>
<line x1="1578.6" y1="112.0" x2="1578.6" y2="1146.6" stroke="#000" stroke-width="4.6" stroke-linecap="butt"/>
<line x1="1576.3" y1="282.7" x2="1558.8" y2="282.7" stroke="#000" stroke-width="4.4" stroke-linecap="butt"/>
<line x1="1576.3" y1="451.0" x2="1558.8" y2="451.0" stroke="#000" stroke-width="4.4" stroke-linecap="butt"/>
<line x1="1576.3" y1="620.3" x2="1558.8" y2="620.3" stroke="#000" stroke-width="4.4" stroke-linecap="butt"/>
<line x1="1576.3" y1="198.6" x2="1568.3" y2="198.6" stroke="#000" stroke-width="4.4" stroke-linecap="butt"/>
<line x1="1576.3" y1="366.9" x2="1568.3" y2="366.9" stroke="#000" stroke-width="4.4" stroke-linecap="butt"/>
<line x1="1576.3" y1="535.1" x2="1568.3" y2="535.1" stroke="#000" stroke-width="4.4" stroke-linecap="butt"/>
<line x1="1576.3" y1="806.8" x2="1558.8" y2="806.8" stroke="#000" stroke-width="4.4" stroke-linecap="butt"/>
<line x1="1576.3" y1="975.1" x2="1558.8" y2="975.1" stroke="#000" stroke-width="4.4" stroke-linecap="butt"/>
<line x1="1576.3" y1="722.7" x2="1568.3" y2="722.7" stroke="#000" stroke-width="4.4" stroke-linecap="butt"/>
<line x1="1576.3" y1="891.0" x2="1568.3" y2="891.0" stroke="#000" stroke-width="4.4" stroke-linecap="butt"/>
<line x1="1576.3" y1="1059.2" x2="1568.3" y2="1059.2" stroke="#000" stroke-width="4.4" stroke-linecap="butt"/>
<line x1="1557.3" y1="628.6" x2="1598.9" y2="610.5" stroke="#000" stroke-width="4.6" stroke-linecap="butt"/>
<line x1="1557.3" y1="647.2" x2="1598.9" y2="628.6" stroke="#000" stroke-width="4.6" stroke-linecap="butt"/>
<ellipse cx="935.2" cy="472.8" rx="26" ry="63" fill="none" stroke="#000" stroke-width="6.2"/>
<line x1="876.0" y1="418.4" x2="919.0" y2="418.4" stroke="#000" stroke-width="6.2" stroke-linecap="butt"/>
<path d="M845 419 L876.5 410 L876.5 428 Z" fill="#000"/>
<ellipse cx="940.6" cy="796.5" rx="25.7" ry="63.3" fill="none" stroke="#000" stroke-width="6.2"/>
<line x1="955.0" y1="850.5" x2="996.0" y2="850.5" stroke="#000" stroke-width="6.2" stroke-linecap="butt"/>
<path d="M1025 850.5 L995.5 841.5 L995.5 859.5 Z" fill="#000"/>
<text x="283.8" y="138.0" font-size="77.5" text-anchor="end" >100</text>
<text x="283.8" y="306.3" font-size="77.5" text-anchor="end" >90</text>
<text x="283.8" y="474.6" font-size="77.5" text-anchor="end" >80</text>
<text x="283.8" y="642.9" font-size="77.5" text-anchor="end" >70</text>
<text x="283.8" y="831.0" font-size="77.5" text-anchor="end" >20</text>
<text x="283.8" y="999.3" font-size="77.5" text-anchor="end" >10</text>
<text x="283.8" y="1167.6" font-size="77.5" text-anchor="end" >0</text>
<text x="1601.5" y="137.8" font-size="77.5" text-anchor="start" >100</text>
<text x="1601.5" y="306.1" font-size="77.5" text-anchor="start" >90</text>
<text x="1601.5" y="474.4" font-size="77.5" text-anchor="start" >80</text>
<text x="1601.5" y="642.7" font-size="77.5" text-anchor="start" >70</text>
<text x="1601.5" y="830.8" font-size="77.5" text-anchor="start" >20</text>
<text x="1601.5" y="999.1" font-size="77.5" text-anchor="start" >10</text>
<text x="1601.5" y="1167.4" font-size="77.5" text-anchor="start" >0</text>
<text x="345.7" y="1226.3" font-size="77.5" text-anchor="middle" >400</text>
<text x="551.1" y="1226.3" font-size="77.5" text-anchor="middle" >500</text>
<text x="756.5" y="1226.3" font-size="77.5" text-anchor="middle" >600</text>
<text x="961.9" y="1226.3" font-size="77.5" text-anchor="middle" >700</text>
<text x="1167.3" y="1226.3" font-size="77.5" text-anchor="middle" >800</text>
<text x="1372.7" y="1226.3" font-size="77.5" text-anchor="middle" >900</text>
<text x="1579.9" y="1226.3" font-size="77.5" text-anchor="middle" >1000</text>
<text x="944.0" y="1337.0" font-size="77.5" text-anchor="middle" >Wavelength (nm)</text>
<text transform="translate(132 601.3) rotate(-90)" font-size="77.5" text-anchor="middle">Transmittance (%)</text>
<text transform="translate(1760.8 627.3) rotate(-90)" font-size="77.5" text-anchor="middle">Reflectance (%)</text>
<text x="906.7" y="1470.6" font-size="84" text-anchor="middle">(<tspan font-weight="bold">a</tspan>)</text>
<line x1="353.9" y1="601.0" x2="465.1" y2="601.0" stroke="#9400ff" stroke-width="8.8" stroke-linecap="round"/>
<text x="478.3" y="618.2" font-size="51.4" text-anchor="start" >Quartz</text>
<line x1="353.9" y1="663.3" x2="465.1" y2="663.3" stroke="#940000" stroke-width="8.8" stroke-linecap="round"/>
<text x="478.8" y="681.5" font-size="51.2" text-anchor="start" >Unannealed</text>
<line x1="745.0" y1="601.0" x2="858.8" y2="601.0" stroke="#000000" stroke-width="8.8" stroke-linecap="round"/>
<text x="871.0" y="617.0" font-size="50.4" text-anchor="start" >300°C</text>
<line x1="747.9" y1="663.5" x2="861.8" y2="663.5" stroke="#ff0000" stroke-width="8.8" stroke-linecap="round"/>
<text x="874.4" y="680.0" font-size="50.4" text-anchor="start" >400°C</text>
<line x1="1012.0" y1="601.0" x2="1124.4" y2="601.0" stroke="#0000ff" stroke-width="8.8" stroke-linecap="round"/>
<text x="1139.6" y="617.0" font-size="50.4" text-anchor="start" >500°C</text>
<line x1="1015.0" y1="663.5" x2="1127.4" y2="663.5" stroke="#008000" stroke-width="8.8" stroke-linecap="round"/>
<text x="1142.5" y="680.0" font-size="50.4" text-anchor="start" >600°C</text>
<line x1="1280.3" y1="601.0" x2="1392.1" y2="601.0" stroke="#ff80ff" stroke-width="8.8" stroke-linecap="round"/>
<text x="1406.2" y="617.0" font-size="50.4" text-anchor="start" >700°C</text>
<line x1="1283.2" y1="663.5" x2="1395.0" y2="663.5" stroke="#ff8214" stroke-width="8.8" stroke-linecap="round"/>
<text x="1409.6" y="680.0" font-size="50.4" text-anchor="start" >800°C</text>
<line x1="316.2" y1="1759.1" x2="316.2" y2="2775.5" stroke="#000" stroke-width="5.0" stroke-linecap="butt"/>
<line x1="1566.6" y1="1759.1" x2="1566.6" y2="2775.5" stroke="#000" stroke-width="5.0" stroke-linecap="butt"/>
<line x1="313.7" y1="1761.6" x2="1569.1" y2="1761.6" stroke="#000" stroke-width="5.0" stroke-linecap="butt"/>
<line x1="313.7" y1="2773.0" x2="1569.1" y2="2773.0" stroke="#000" stroke-width="5.0" stroke-linecap="butt"/>
<line x1="318.7" y1="1812.2" x2="326.2" y2="1812.2" stroke="#000" stroke-width="4.6" stroke-linecap="butt"/>
<line x1="318.7" y1="1862.7" x2="326.2" y2="1862.7" stroke="#000" stroke-width="4.6" stroke-linecap="butt"/>
<line x1="318.7" y1="1913.3" x2="326.2" y2="1913.3" stroke="#000" stroke-width="4.6" stroke-linecap="butt"/>
<line x1="318.7" y1="1963.8" x2="326.2" y2="1963.8" stroke="#000" stroke-width="4.6" stroke-linecap="butt"/>
<line x1="318.7" y1="2014.4" x2="335.7" y2="2014.4" stroke="#000" stroke-width="4.6" stroke-linecap="butt"/>
<line x1="318.7" y1="2065.0" x2="326.2" y2="2065.0" stroke="#000" stroke-width="4.6" stroke-linecap="butt"/>
<line x1="318.7" y1="2115.5" x2="326.2" y2="2115.5" stroke="#000" stroke-width="4.6" stroke-linecap="butt"/>
<line x1="318.7" y1="2166.1" x2="326.2" y2="2166.1" stroke="#000" stroke-width="4.6" stroke-linecap="butt"/>
<line x1="318.7" y1="2216.6" x2="326.2" y2="2216.6" stroke="#000" stroke-width="4.6" stroke-linecap="butt"/>
<line x1="318.7" y1="2267.2" x2="335.7" y2="2267.2" stroke="#000" stroke-width="4.6" stroke-linecap="butt"/>
<line x1="318.7" y1="2317.8" x2="326.2" y2="2317.8" stroke="#000" stroke-width="4.6" stroke-linecap="butt"/>
<line x1="318.7" y1="2368.3" x2="326.2" y2="2368.3" stroke="#000" stroke-width="4.6" stroke-linecap="butt"/>
<line x1="318.7" y1="2418.9" x2="326.2" y2="2418.9" stroke="#000" stroke-width="4.6" stroke-linecap="butt"/>
<line x1="318.7" y1="2469.4" x2="326.2" y2="2469.4" stroke="#000" stroke-width="4.6" stroke-linecap="butt"/>
<line x1="318.7" y1="2520.0" x2="335.7" y2="2520.0" stroke="#000" stroke-width="4.6" stroke-linecap="butt"/>
<line x1="318.7" y1="2570.6" x2="326.2" y2="2570.6" stroke="#000" stroke-width="4.6" stroke-linecap="butt"/>
<line x1="318.7" y1="2621.1" x2="326.2" y2="2621.1" stroke="#000" stroke-width="4.6" stroke-linecap="butt"/>
<line x1="318.7" y1="2671.7" x2="326.2" y2="2671.7" stroke="#000" stroke-width="4.6" stroke-linecap="butt"/>
<line x1="318.7" y1="2722.2" x2="326.2" y2="2722.2" stroke="#000" stroke-width="4.6" stroke-linecap="butt"/>
<line x1="679.2" y1="2770.5" x2="679.2" y2="2754.0" stroke="#000" stroke-width="4.6" stroke-linecap="butt"/>
<line x1="856.7" y1="2770.5" x2="856.7" y2="2754.0" stroke="#000" stroke-width="4.6" stroke-linecap="butt"/>
<line x1="1034.2" y1="2770.5" x2="1034.2" y2="2754.0" stroke="#000" stroke-width="4.6" stroke-linecap="butt"/>
<line x1="1211.6" y1="2770.5" x2="1211.6" y2="2754.0" stroke="#000" stroke-width="4.6" stroke-linecap="butt"/>
<line x1="1389.1" y1="2770.5" x2="1389.1" y2="2754.0" stroke="#000" stroke-width="4.6" stroke-linecap="butt"/>
<line x1="413.0" y1="2770.5" x2="413.0" y2="2763.0" stroke="#000" stroke-width="4.6" stroke-linecap="butt"/>
<line x1="590.5" y1="2770.5" x2="590.5" y2="2763.0" stroke="#000" stroke-width="4.6" stroke-linecap="butt"/>
<line x1="767.9" y1="2770.5" x2="767.9" y2="2763.0" stroke="#000" stroke-width="4.6" stroke-linecap="butt"/>
<line x1="945.4" y1="2770.5" x2="945.4" y2="2763.0" stroke="#000" stroke-width="4.6" stroke-linecap="butt"/>
<line x1="1122.9" y1="2770.5" x2="1122.9" y2="2763.0" stroke="#000" stroke-width="4.6" stroke-linecap="butt"/>
<line x1="1300.4" y1="2770.5" x2="1300.4" y2="2763.0" stroke="#000" stroke-width="4.6" stroke-linecap="butt"/>
<line x1="1477.9" y1="2770.5" x2="1477.9" y2="2763.0" stroke="#000" stroke-width="4.6" stroke-linecap="butt"/>
<line x1="338.6" y1="2083.1" x2="656.1" y2="2335.3" stroke="#000" stroke-width="4.8" stroke-linecap="round"/>
<line x1="708.4" y1="2357.9" x2="827.5" y2="2374.8" stroke="#000" stroke-width="4.8" stroke-linecap="round"/>
<line x1="883.3" y1="2391.9" x2="1008.1" y2="2452.3" stroke="#000" stroke-width="4.8" stroke-linecap="round"/>
<line x1="1064.0" y1="2461.8" x2="1182.4" y2="2448.1" stroke="#000" stroke-width="4.8" stroke-linecap="round"/>
<line x1="1238.5" y1="2432.5" x2="1362.7" y2="2375.8" stroke="#000" stroke-width="4.8" stroke-linecap="round"/>
<line x1="1419.0" y1="2363.6" x2="1537.0" y2="2363.6" stroke="#000" stroke-width="4.8" stroke-linecap="round"/>
<rect x="296.8" y="2046.0" width="37.4" height="37.4" rx="2" fill="#000"/>
<rect x="660.5" y="2335.0" width="37.4" height="37.4" rx="2" fill="#000"/>
<rect x="838.0" y="2360.3" width="37.4" height="37.4" rx="2" fill="#000"/>
<rect x="1016.0" y="2446.5" width="37.4" height="37.4" rx="2" fill="#000"/>
<rect x="1193.0" y="2426.0" width="37.4" height="37.4" rx="2" fill="#000"/>
<rect x="1370.8" y="2344.9" width="37.4" height="37.4" rx="2" fill="#000"/>
<rect x="1547.8" y="2344.9" width="37.4" height="37.4" rx="2" fill="#000"/>
<text x="294.6" y="1787.8" font-size="86.5" text-anchor="end" >3.40</text>
<text x="294.6" y="2040.6" font-size="86.5" text-anchor="end" >3.35</text>
<text x="294.6" y="2293.4" font-size="86.5" text-anchor="end" >3.30</text>
<text x="294.6" y="2546.2" font-size="86.5" text-anchor="end" >3.25</text>
<text x="294.6" y="2799.0" font-size="86.5" text-anchor="end" >3.20</text>
<text x="353.0" y="2870.2" font-size="77.3" text-anchor="middle" textLength="363" lengthAdjust="spacingAndGlyphs">Unannealed</text>
<text x="680.0" y="2870.2" font-size="77.3" text-anchor="middle" >300</text>
<text x="857.5" y="2870.2" font-size="77.3" text-anchor="middle" >400</text>
<text x="1035.0" y="2870.2" font-size="77.3" text-anchor="middle" >500</text>
<text x="1212.4" y="2870.2" font-size="77.3" text-anchor="middle" >600</text>
<text x="1389.9" y="2870.2" font-size="77.3" text-anchor="middle" >700</text>
<text x="1567.4" y="2870.2" font-size="77.3" text-anchor="middle" >800</text>
<text x="942.6" y="2967.2" font-size="75.7" text-anchor="middle" >Annealing temperature (°C)</text>
<text transform="translate(94.6 2269.3) rotate(-90)" font-size="76.5" text-anchor="middle">Band gap (eV)</text>
<text x="906.3" y="3098.6" font-size="86" text-anchor="middle">(<tspan font-weight="bold">b</tspan>)</text>
</svg>
</body>
</html>
